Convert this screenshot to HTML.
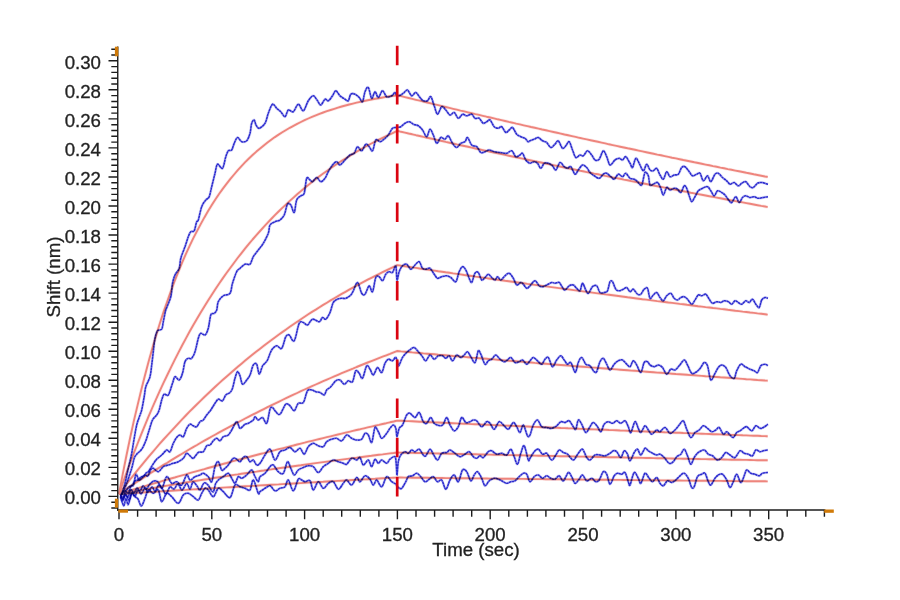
<!DOCTYPE html>
<html><head><meta charset="utf-8"><style>
html,body{margin:0;padding:0;background:#fff;}
body{width:900px;height:600px;position:relative;overflow:hidden;font-family:"Liberation Sans",sans-serif;color:#222;font-size:18.67px;-webkit-text-stroke:0.3px #222;}
#lab{position:absolute;left:0;top:0;width:900px;height:600px;will-change:transform;}
.yl{position:absolute;left:41px;width:60px;text-align:right;height:20px;line-height:20px;}
.xl{position:absolute;top:525.3px;width:60px;text-align:center;height:20px;line-height:20px;}
.xt{position:absolute;left:376px;width:200px;text-align:center;top:539.5px;height:20px;line-height:20px;}
.yt{position:absolute;left:-46px;top:266.5px;width:200px;height:20px;line-height:20px;text-align:center;transform:rotate(-90deg);transform-origin:50% 50%;}
</style></head><body>
<svg width="900" height="600" viewBox="0 0 900 600" style="position:absolute;left:0;top:0;filter:blur(0.3px)">
<g style="filter:blur(0.2px)">
<path d="M119.0 493.9 L122.7 474.4 L126.4 455.7 L130.1 438.0 L133.8 421.1 L137.6 405.1 L141.3 389.7 L145.0 375.2 L148.7 361.3 L152.4 348.1 L156.1 335.5 L159.8 323.5 L163.5 312.1 L167.3 301.2 L171.0 290.9 L174.7 281.0 L178.4 271.7 L182.1 262.7 L185.8 254.2 L189.5 246.1 L193.2 238.4 L197.0 231.1 L200.7 224.1 L204.4 217.4 L208.1 211.1 L211.8 205.1 L215.5 199.3 L219.2 193.8 L222.9 188.6 L226.7 183.7 L230.4 178.9 L234.1 174.5 L237.8 170.2 L241.5 166.1 L245.2 162.2 L248.9 158.5 L252.6 155.0 L256.4 151.6 L260.1 148.5 L263.8 145.4 L267.5 142.5 L271.2 139.8 L274.9 137.1 L278.6 134.6 L282.3 132.3 L286.1 130.0 L289.8 127.8 L293.5 125.8 L297.2 123.8 L300.9 122.0 L304.6 120.2 L308.3 118.5 L312.0 116.9 L315.8 115.4 L319.5 113.9 L323.2 112.5 L326.9 111.2 L330.6 110.0 L334.3 108.8 L338.0 107.6 L341.7 106.5 L345.5 105.5 L349.2 104.5 L352.9 103.6 L356.6 102.7 L360.3 101.8 L364.0 101.0 L367.7 100.2 L371.4 99.5 L375.2 98.8 L378.9 98.2 L382.6 97.5 L386.3 96.9 L390.0 96.3 L393.7 95.8 L395.6 95.5 L397.4 95.3 L399.3 95.7 L401.1 96.2 L404.9 97.1 L408.6 98.0 L412.3 98.9 L416.0 99.8 L419.7 100.7 L423.4 101.6 L427.1 102.5 L430.8 103.4 L434.6 104.3 L438.3 105.2 L442.0 106.1 L445.7 107.0 L449.4 107.9 L453.1 108.8 L456.8 109.7 L460.5 110.6 L464.3 111.4 L468.0 112.3 L471.7 113.2 L475.4 114.1 L479.1 114.9 L482.8 115.8 L486.5 116.7 L490.2 117.5 L494.0 118.4 L497.7 119.3 L501.4 120.1 L505.1 121.0 L508.8 121.9 L512.5 122.7 L516.2 123.6 L519.9 124.4 L523.7 125.3 L527.4 126.1 L531.1 127.0 L534.8 127.8 L538.5 128.6 L542.2 129.5 L545.9 130.3 L549.6 131.1 L553.4 132.0 L557.1 132.8 L560.8 133.6 L564.5 134.5 L568.2 135.3 L571.9 136.1 L575.6 136.9 L579.3 137.8 L583.0 138.6 L586.8 139.4 L590.5 140.2 L594.2 141.0 L597.9 141.8 L601.6 142.6 L605.3 143.4 L609.0 144.3 L612.7 145.1 L616.5 145.9 L620.2 146.7 L623.9 147.5 L627.6 148.3 L631.3 149.0 L635.0 149.8 L638.7 150.6 L642.4 151.4 L646.2 152.2 L649.9 153.0 L653.6 153.8 L657.3 154.6 L661.0 155.3 L664.7 156.1 L668.4 156.9 L672.1 157.7 L675.9 158.4 L679.6 159.2 L683.3 160.0 L687.0 160.7 L690.7 161.5 L694.4 162.3 L698.1 163.0 L701.8 163.8 L705.6 164.6 L709.3 165.3 L713.0 166.1 L716.7 166.8 L720.4 167.6 L724.1 168.3 L727.8 169.1 L731.5 169.8 L735.3 170.6 L739.0 171.3 L742.7 172.0 L746.4 172.8 L750.1 173.5 L753.8 174.3 L757.5 175.0 L761.2 175.7 L765.0 176.5 L766.8 176.8 L767.7 177.0" fill="none" stroke="#ee857d" stroke-width="3.4" stroke-opacity="0.15" stroke-linejoin="round"/>
<path d="M119.0 493.9 L122.7 474.4 L126.4 455.7 L130.1 438.0 L133.8 421.1 L137.6 405.1 L141.3 389.7 L145.0 375.2 L148.7 361.3 L152.4 348.1 L156.1 335.5 L159.8 323.5 L163.5 312.1 L167.3 301.2 L171.0 290.9 L174.7 281.0 L178.4 271.7 L182.1 262.7 L185.8 254.2 L189.5 246.1 L193.2 238.4 L197.0 231.1 L200.7 224.1 L204.4 217.4 L208.1 211.1 L211.8 205.1 L215.5 199.3 L219.2 193.8 L222.9 188.6 L226.7 183.7 L230.4 178.9 L234.1 174.5 L237.8 170.2 L241.5 166.1 L245.2 162.2 L248.9 158.5 L252.6 155.0 L256.4 151.6 L260.1 148.5 L263.8 145.4 L267.5 142.5 L271.2 139.8 L274.9 137.1 L278.6 134.6 L282.3 132.3 L286.1 130.0 L289.8 127.8 L293.5 125.8 L297.2 123.8 L300.9 122.0 L304.6 120.2 L308.3 118.5 L312.0 116.9 L315.8 115.4 L319.5 113.9 L323.2 112.5 L326.9 111.2 L330.6 110.0 L334.3 108.8 L338.0 107.6 L341.7 106.5 L345.5 105.5 L349.2 104.5 L352.9 103.6 L356.6 102.7 L360.3 101.8 L364.0 101.0 L367.7 100.2 L371.4 99.5 L375.2 98.8 L378.9 98.2 L382.6 97.5 L386.3 96.9 L390.0 96.3 L393.7 95.8 L395.6 95.5 L397.4 95.3 L399.3 95.7 L401.1 96.2 L404.9 97.1 L408.6 98.0 L412.3 98.9 L416.0 99.8 L419.7 100.7 L423.4 101.6 L427.1 102.5 L430.8 103.4 L434.6 104.3 L438.3 105.2 L442.0 106.1 L445.7 107.0 L449.4 107.9 L453.1 108.8 L456.8 109.7 L460.5 110.6 L464.3 111.4 L468.0 112.3 L471.7 113.2 L475.4 114.1 L479.1 114.9 L482.8 115.8 L486.5 116.7 L490.2 117.5 L494.0 118.4 L497.7 119.3 L501.4 120.1 L505.1 121.0 L508.8 121.9 L512.5 122.7 L516.2 123.6 L519.9 124.4 L523.7 125.3 L527.4 126.1 L531.1 127.0 L534.8 127.8 L538.5 128.6 L542.2 129.5 L545.9 130.3 L549.6 131.1 L553.4 132.0 L557.1 132.8 L560.8 133.6 L564.5 134.5 L568.2 135.3 L571.9 136.1 L575.6 136.9 L579.3 137.8 L583.0 138.6 L586.8 139.4 L590.5 140.2 L594.2 141.0 L597.9 141.8 L601.6 142.6 L605.3 143.4 L609.0 144.3 L612.7 145.1 L616.5 145.9 L620.2 146.7 L623.9 147.5 L627.6 148.3 L631.3 149.0 L635.0 149.8 L638.7 150.6 L642.4 151.4 L646.2 152.2 L649.9 153.0 L653.6 153.8 L657.3 154.6 L661.0 155.3 L664.7 156.1 L668.4 156.9 L672.1 157.7 L675.9 158.4 L679.6 159.2 L683.3 160.0 L687.0 160.7 L690.7 161.5 L694.4 162.3 L698.1 163.0 L701.8 163.8 L705.6 164.6 L709.3 165.3 L713.0 166.1 L716.7 166.8 L720.4 167.6 L724.1 168.3 L727.8 169.1 L731.5 169.8 L735.3 170.6 L739.0 171.3 L742.7 172.0 L746.4 172.8 L750.1 173.5 L753.8 174.3 L757.5 175.0 L761.2 175.7 L765.0 176.5 L766.8 176.8 L767.7 177.0" fill="none" stroke="#ee857d" stroke-width="1.9" stroke-linejoin="round"/>
<path d="M119.0 493.9 L122.7 483.3 L126.4 473.0 L130.1 462.9 L133.8 453.1 L137.6 443.5 L141.3 434.2 L145.0 425.1 L148.7 416.2 L152.4 407.5 L156.1 399.1 L159.8 390.8 L163.5 382.8 L167.3 375.0 L171.0 367.3 L174.7 359.8 L178.4 352.6 L182.1 345.5 L185.8 338.6 L189.5 331.8 L193.2 325.2 L197.0 318.8 L200.7 312.5 L204.4 306.4 L208.1 300.5 L211.8 294.7 L215.5 289.0 L219.2 283.5 L222.9 278.1 L226.7 272.8 L230.4 267.7 L234.1 262.7 L237.8 257.8 L241.5 253.1 L245.2 248.4 L248.9 243.9 L252.6 239.5 L256.4 235.2 L260.1 231.0 L263.8 226.9 L267.5 222.9 L271.2 219.0 L274.9 215.2 L278.6 211.5 L282.3 207.9 L286.1 204.4 L289.8 200.9 L293.5 197.6 L297.2 194.3 L300.9 191.1 L304.6 188.0 L308.3 185.0 L312.0 182.0 L315.8 179.1 L319.5 176.3 L323.2 173.6 L326.9 170.9 L330.6 168.3 L334.3 165.7 L338.0 163.3 L341.7 160.8 L345.5 158.5 L349.2 156.2 L352.9 153.9 L356.6 151.7 L360.3 149.6 L364.0 147.5 L367.7 145.5 L371.4 143.5 L375.2 141.6 L378.9 139.7 L382.6 137.8 L386.3 136.0 L390.0 134.3 L393.7 132.6 L395.6 131.7 L397.4 130.9 L399.3 131.3 L401.1 131.8 L404.9 132.6 L408.6 133.5 L412.3 134.3 L416.0 135.2 L419.7 136.0 L423.4 136.9 L427.1 137.7 L430.8 138.5 L434.6 139.4 L438.3 140.2 L442.0 141.0 L445.7 141.9 L449.4 142.7 L453.1 143.5 L456.8 144.4 L460.5 145.2 L464.3 146.0 L468.0 146.8 L471.7 147.6 L475.4 148.5 L479.1 149.3 L482.8 150.1 L486.5 150.9 L490.2 151.7 L494.0 152.5 L497.7 153.3 L501.4 154.1 L505.1 154.9 L508.8 155.7 L512.5 156.5 L516.2 157.3 L519.9 158.1 L523.7 158.9 L527.4 159.7 L531.1 160.5 L534.8 161.3 L538.5 162.0 L542.2 162.8 L545.9 163.6 L549.6 164.4 L553.4 165.2 L557.1 165.9 L560.8 166.7 L564.5 167.5 L568.2 168.3 L571.9 169.0 L575.6 169.8 L579.3 170.6 L583.0 171.3 L586.8 172.1 L590.5 172.8 L594.2 173.6 L597.9 174.3 L601.6 175.1 L605.3 175.9 L609.0 176.6 L612.7 177.4 L616.5 178.1 L620.2 178.8 L623.9 179.6 L627.6 180.3 L631.3 181.1 L635.0 181.8 L638.7 182.5 L642.4 183.3 L646.2 184.0 L649.9 184.7 L653.6 185.5 L657.3 186.2 L661.0 186.9 L664.7 187.6 L668.4 188.4 L672.1 189.1 L675.9 189.8 L679.6 190.5 L683.3 191.2 L687.0 191.9 L690.7 192.7 L694.4 193.4 L698.1 194.1 L701.8 194.8 L705.6 195.5 L709.3 196.2 L713.0 196.9 L716.7 197.6 L720.4 198.3 L724.1 199.0 L727.8 199.7 L731.5 200.4 L735.3 201.1 L739.0 201.8 L742.7 202.4 L746.4 203.1 L750.1 203.8 L753.8 204.5 L757.5 205.2 L761.2 205.9 L765.0 206.5 L766.8 206.9 L767.7 207.1" fill="none" stroke="#ee857d" stroke-width="3.4" stroke-opacity="0.15" stroke-linejoin="round"/>
<path d="M119.0 493.9 L122.7 483.3 L126.4 473.0 L130.1 462.9 L133.8 453.1 L137.6 443.5 L141.3 434.2 L145.0 425.1 L148.7 416.2 L152.4 407.5 L156.1 399.1 L159.8 390.8 L163.5 382.8 L167.3 375.0 L171.0 367.3 L174.7 359.8 L178.4 352.6 L182.1 345.5 L185.8 338.6 L189.5 331.8 L193.2 325.2 L197.0 318.8 L200.7 312.5 L204.4 306.4 L208.1 300.5 L211.8 294.7 L215.5 289.0 L219.2 283.5 L222.9 278.1 L226.7 272.8 L230.4 267.7 L234.1 262.7 L237.8 257.8 L241.5 253.1 L245.2 248.4 L248.9 243.9 L252.6 239.5 L256.4 235.2 L260.1 231.0 L263.8 226.9 L267.5 222.9 L271.2 219.0 L274.9 215.2 L278.6 211.5 L282.3 207.9 L286.1 204.4 L289.8 200.9 L293.5 197.6 L297.2 194.3 L300.9 191.1 L304.6 188.0 L308.3 185.0 L312.0 182.0 L315.8 179.1 L319.5 176.3 L323.2 173.6 L326.9 170.9 L330.6 168.3 L334.3 165.7 L338.0 163.3 L341.7 160.8 L345.5 158.5 L349.2 156.2 L352.9 153.9 L356.6 151.7 L360.3 149.6 L364.0 147.5 L367.7 145.5 L371.4 143.5 L375.2 141.6 L378.9 139.7 L382.6 137.8 L386.3 136.0 L390.0 134.3 L393.7 132.6 L395.6 131.7 L397.4 130.9 L399.3 131.3 L401.1 131.8 L404.9 132.6 L408.6 133.5 L412.3 134.3 L416.0 135.2 L419.7 136.0 L423.4 136.9 L427.1 137.7 L430.8 138.5 L434.6 139.4 L438.3 140.2 L442.0 141.0 L445.7 141.9 L449.4 142.7 L453.1 143.5 L456.8 144.4 L460.5 145.2 L464.3 146.0 L468.0 146.8 L471.7 147.6 L475.4 148.5 L479.1 149.3 L482.8 150.1 L486.5 150.9 L490.2 151.7 L494.0 152.5 L497.7 153.3 L501.4 154.1 L505.1 154.9 L508.8 155.7 L512.5 156.5 L516.2 157.3 L519.9 158.1 L523.7 158.9 L527.4 159.7 L531.1 160.5 L534.8 161.3 L538.5 162.0 L542.2 162.8 L545.9 163.6 L549.6 164.4 L553.4 165.2 L557.1 165.9 L560.8 166.7 L564.5 167.5 L568.2 168.3 L571.9 169.0 L575.6 169.8 L579.3 170.6 L583.0 171.3 L586.8 172.1 L590.5 172.8 L594.2 173.6 L597.9 174.3 L601.6 175.1 L605.3 175.9 L609.0 176.6 L612.7 177.4 L616.5 178.1 L620.2 178.8 L623.9 179.6 L627.6 180.3 L631.3 181.1 L635.0 181.8 L638.7 182.5 L642.4 183.3 L646.2 184.0 L649.9 184.7 L653.6 185.5 L657.3 186.2 L661.0 186.9 L664.7 187.6 L668.4 188.4 L672.1 189.1 L675.9 189.8 L679.6 190.5 L683.3 191.2 L687.0 191.9 L690.7 192.7 L694.4 193.4 L698.1 194.1 L701.8 194.8 L705.6 195.5 L709.3 196.2 L713.0 196.9 L716.7 197.6 L720.4 198.3 L724.1 199.0 L727.8 199.7 L731.5 200.4 L735.3 201.1 L739.0 201.8 L742.7 202.4 L746.4 203.1 L750.1 203.8 L753.8 204.5 L757.5 205.2 L761.2 205.9 L765.0 206.5 L766.8 206.9 L767.7 207.1" fill="none" stroke="#ee857d" stroke-width="1.9" stroke-linejoin="round"/>
<path d="M119.0 493.9 L122.7 489.0 L126.4 484.2 L130.1 479.5 L133.8 474.8 L137.6 470.1 L141.3 465.6 L145.0 461.1 L148.7 456.6 L152.4 452.3 L156.1 448.0 L159.8 443.7 L163.5 439.5 L167.3 435.4 L171.0 431.3 L174.7 427.3 L178.4 423.3 L182.1 419.4 L185.8 415.5 L189.5 411.7 L193.2 408.0 L197.0 404.3 L200.7 400.6 L204.4 397.0 L208.1 393.5 L211.8 390.0 L215.5 386.5 L219.2 383.1 L222.9 379.8 L226.7 376.5 L230.4 373.2 L234.1 370.0 L237.8 366.8 L241.5 363.7 L245.2 360.6 L248.9 357.6 L252.6 354.6 L256.4 351.6 L260.1 348.7 L263.8 345.8 L267.5 343.0 L271.2 340.2 L274.9 337.5 L278.6 334.7 L282.3 332.1 L286.1 329.4 L289.8 326.8 L293.5 324.2 L297.2 321.7 L300.9 319.2 L304.6 316.7 L308.3 314.3 L312.0 311.9 L315.8 309.6 L319.5 307.2 L323.2 304.9 L326.9 302.7 L330.6 300.4 L334.3 298.2 L338.0 296.1 L341.7 293.9 L345.5 291.8 L349.2 289.7 L352.9 287.7 L356.6 285.6 L360.3 283.6 L364.0 281.7 L367.7 279.7 L371.4 277.8 L375.2 275.9 L378.9 274.1 L382.6 272.2 L386.3 270.4 L390.0 268.6 L393.7 266.9 L395.6 266.0 L397.4 265.1 L399.3 265.4 L401.1 265.7 L404.9 266.2 L408.6 266.8 L412.3 267.4 L416.0 267.9 L419.7 268.5 L423.4 269.0 L427.1 269.6 L430.8 270.1 L434.6 270.6 L438.3 271.2 L442.0 271.7 L445.7 272.3 L449.4 272.8 L453.1 273.4 L456.8 273.9 L460.5 274.4 L464.3 275.0 L468.0 275.5 L471.7 276.0 L475.4 276.6 L479.1 277.1 L482.8 277.6 L486.5 278.1 L490.2 278.7 L494.0 279.2 L497.7 279.7 L501.4 280.2 L505.1 280.8 L508.8 281.3 L512.5 281.8 L516.2 282.3 L519.9 282.8 L523.7 283.3 L527.4 283.9 L531.1 284.4 L534.8 284.9 L538.5 285.4 L542.2 285.9 L545.9 286.4 L549.6 286.9 L553.4 287.4 L557.1 287.9 L560.8 288.4 L564.5 288.9 L568.2 289.4 L571.9 289.9 L575.6 290.4 L579.3 290.9 L583.0 291.4 L586.8 291.9 L590.5 292.4 L594.2 292.9 L597.9 293.4 L601.6 293.9 L605.3 294.4 L609.0 294.8 L612.7 295.3 L616.5 295.8 L620.2 296.3 L623.9 296.8 L627.6 297.3 L631.3 297.7 L635.0 298.2 L638.7 298.7 L642.4 299.2 L646.2 299.6 L649.9 300.1 L653.6 300.6 L657.3 301.1 L661.0 301.5 L664.7 302.0 L668.4 302.5 L672.1 302.9 L675.9 303.4 L679.6 303.9 L683.3 304.3 L687.0 304.8 L690.7 305.2 L694.4 305.7 L698.1 306.2 L701.8 306.6 L705.6 307.1 L709.3 307.5 L713.0 308.0 L716.7 308.4 L720.4 308.9 L724.1 309.3 L727.8 309.8 L731.5 310.2 L735.3 310.7 L739.0 311.1 L742.7 311.6 L746.4 312.0 L750.1 312.5 L753.8 312.9 L757.5 313.4 L761.2 313.8 L765.0 314.2 L766.8 314.5 L767.7 314.6" fill="none" stroke="#ee857d" stroke-width="3.4" stroke-opacity="0.15" stroke-linejoin="round"/>
<path d="M119.0 493.9 L122.7 489.0 L126.4 484.2 L130.1 479.5 L133.8 474.8 L137.6 470.1 L141.3 465.6 L145.0 461.1 L148.7 456.6 L152.4 452.3 L156.1 448.0 L159.8 443.7 L163.5 439.5 L167.3 435.4 L171.0 431.3 L174.7 427.3 L178.4 423.3 L182.1 419.4 L185.8 415.5 L189.5 411.7 L193.2 408.0 L197.0 404.3 L200.7 400.6 L204.4 397.0 L208.1 393.5 L211.8 390.0 L215.5 386.5 L219.2 383.1 L222.9 379.8 L226.7 376.5 L230.4 373.2 L234.1 370.0 L237.8 366.8 L241.5 363.7 L245.2 360.6 L248.9 357.6 L252.6 354.6 L256.4 351.6 L260.1 348.7 L263.8 345.8 L267.5 343.0 L271.2 340.2 L274.9 337.5 L278.6 334.7 L282.3 332.1 L286.1 329.4 L289.8 326.8 L293.5 324.2 L297.2 321.7 L300.9 319.2 L304.6 316.7 L308.3 314.3 L312.0 311.9 L315.8 309.6 L319.5 307.2 L323.2 304.9 L326.9 302.7 L330.6 300.4 L334.3 298.2 L338.0 296.1 L341.7 293.9 L345.5 291.8 L349.2 289.7 L352.9 287.7 L356.6 285.6 L360.3 283.6 L364.0 281.7 L367.7 279.7 L371.4 277.8 L375.2 275.9 L378.9 274.1 L382.6 272.2 L386.3 270.4 L390.0 268.6 L393.7 266.9 L395.6 266.0 L397.4 265.1 L399.3 265.4 L401.1 265.7 L404.9 266.2 L408.6 266.8 L412.3 267.4 L416.0 267.9 L419.7 268.5 L423.4 269.0 L427.1 269.6 L430.8 270.1 L434.6 270.6 L438.3 271.2 L442.0 271.7 L445.7 272.3 L449.4 272.8 L453.1 273.4 L456.8 273.9 L460.5 274.4 L464.3 275.0 L468.0 275.5 L471.7 276.0 L475.4 276.6 L479.1 277.1 L482.8 277.6 L486.5 278.1 L490.2 278.7 L494.0 279.2 L497.7 279.7 L501.4 280.2 L505.1 280.8 L508.8 281.3 L512.5 281.8 L516.2 282.3 L519.9 282.8 L523.7 283.3 L527.4 283.9 L531.1 284.4 L534.8 284.9 L538.5 285.4 L542.2 285.9 L545.9 286.4 L549.6 286.9 L553.4 287.4 L557.1 287.9 L560.8 288.4 L564.5 288.9 L568.2 289.4 L571.9 289.9 L575.6 290.4 L579.3 290.9 L583.0 291.4 L586.8 291.9 L590.5 292.4 L594.2 292.9 L597.9 293.4 L601.6 293.9 L605.3 294.4 L609.0 294.8 L612.7 295.3 L616.5 295.8 L620.2 296.3 L623.9 296.8 L627.6 297.3 L631.3 297.7 L635.0 298.2 L638.7 298.7 L642.4 299.2 L646.2 299.6 L649.9 300.1 L653.6 300.6 L657.3 301.1 L661.0 301.5 L664.7 302.0 L668.4 302.5 L672.1 302.9 L675.9 303.4 L679.6 303.9 L683.3 304.3 L687.0 304.8 L690.7 305.2 L694.4 305.7 L698.1 306.2 L701.8 306.6 L705.6 307.1 L709.3 307.5 L713.0 308.0 L716.7 308.4 L720.4 308.9 L724.1 309.3 L727.8 309.8 L731.5 310.2 L735.3 310.7 L739.0 311.1 L742.7 311.6 L746.4 312.0 L750.1 312.5 L753.8 312.9 L757.5 313.4 L761.2 313.8 L765.0 314.2 L766.8 314.5 L767.7 314.6" fill="none" stroke="#ee857d" stroke-width="1.9" stroke-linejoin="round"/>
<path d="M119.0 493.9 L122.7 491.4 L126.4 488.9 L130.1 486.4 L133.8 484.0 L137.6 481.5 L141.3 479.1 L145.0 476.7 L148.7 474.3 L152.4 471.9 L156.1 469.6 L159.8 467.3 L163.5 464.9 L167.3 462.7 L171.0 460.4 L174.7 458.1 L178.4 455.9 L182.1 453.7 L185.8 451.5 L189.5 449.3 L193.2 447.1 L197.0 445.0 L200.7 442.8 L204.4 440.7 L208.1 438.6 L211.8 436.5 L215.5 434.5 L219.2 432.4 L222.9 430.4 L226.7 428.4 L230.4 426.4 L234.1 424.4 L237.8 422.4 L241.5 420.5 L245.2 418.5 L248.9 416.6 L252.6 414.7 L256.4 412.8 L260.1 410.9 L263.8 409.1 L267.5 407.2 L271.2 405.4 L274.9 403.6 L278.6 401.8 L282.3 400.0 L286.1 398.2 L289.8 396.4 L293.5 394.7 L297.2 393.0 L300.9 391.2 L304.6 389.5 L308.3 387.8 L312.0 386.2 L315.8 384.5 L319.5 382.8 L323.2 381.2 L326.9 379.6 L330.6 378.0 L334.3 376.4 L338.0 374.8 L341.7 373.2 L345.5 371.6 L349.2 370.1 L352.9 368.6 L356.6 367.0 L360.3 365.5 L364.0 364.0 L367.7 362.5 L371.4 361.1 L375.2 359.6 L378.9 358.1 L382.6 356.7 L386.3 355.3 L390.0 353.9 L393.7 352.4 L395.6 351.7 L397.4 351.0 L399.3 351.2 L401.1 351.4 L404.9 351.7 L408.6 352.0 L412.3 352.4 L416.0 352.7 L419.7 353.0 L423.4 353.4 L427.1 353.7 L430.8 354.0 L434.6 354.3 L438.3 354.7 L442.0 355.0 L445.7 355.3 L449.4 355.6 L453.1 356.0 L456.8 356.3 L460.5 356.6 L464.3 356.9 L468.0 357.2 L471.7 357.6 L475.4 357.9 L479.1 358.2 L482.8 358.5 L486.5 358.8 L490.2 359.1 L494.0 359.4 L497.7 359.8 L501.4 360.1 L505.1 360.4 L508.8 360.7 L512.5 361.0 L516.2 361.3 L519.9 361.6 L523.7 361.9 L527.4 362.2 L531.1 362.5 L534.8 362.9 L538.5 363.2 L542.2 363.5 L545.9 363.8 L549.6 364.1 L553.4 364.4 L557.1 364.7 L560.8 365.0 L564.5 365.3 L568.2 365.6 L571.9 365.9 L575.6 366.2 L579.3 366.5 L583.0 366.8 L586.8 367.1 L590.5 367.4 L594.2 367.6 L597.9 367.9 L601.6 368.2 L605.3 368.5 L609.0 368.8 L612.7 369.1 L616.5 369.4 L620.2 369.7 L623.9 370.0 L627.6 370.3 L631.3 370.6 L635.0 370.8 L638.7 371.1 L642.4 371.4 L646.2 371.7 L649.9 372.0 L653.6 372.3 L657.3 372.6 L661.0 372.8 L664.7 373.1 L668.4 373.4 L672.1 373.7 L675.9 374.0 L679.6 374.2 L683.3 374.5 L687.0 374.8 L690.7 375.1 L694.4 375.3 L698.1 375.6 L701.8 375.9 L705.6 376.2 L709.3 376.4 L713.0 376.7 L716.7 377.0 L720.4 377.3 L724.1 377.5 L727.8 377.8 L731.5 378.1 L735.3 378.3 L739.0 378.6 L742.7 378.9 L746.4 379.2 L750.1 379.4 L753.8 379.7 L757.5 380.0 L761.2 380.2 L765.0 380.5 L766.8 380.6 L767.7 380.7" fill="none" stroke="#ee857d" stroke-width="3.4" stroke-opacity="0.15" stroke-linejoin="round"/>
<path d="M119.0 493.9 L122.7 491.4 L126.4 488.9 L130.1 486.4 L133.8 484.0 L137.6 481.5 L141.3 479.1 L145.0 476.7 L148.7 474.3 L152.4 471.9 L156.1 469.6 L159.8 467.3 L163.5 464.9 L167.3 462.7 L171.0 460.4 L174.7 458.1 L178.4 455.9 L182.1 453.7 L185.8 451.5 L189.5 449.3 L193.2 447.1 L197.0 445.0 L200.7 442.8 L204.4 440.7 L208.1 438.6 L211.8 436.5 L215.5 434.5 L219.2 432.4 L222.9 430.4 L226.7 428.4 L230.4 426.4 L234.1 424.4 L237.8 422.4 L241.5 420.5 L245.2 418.5 L248.9 416.6 L252.6 414.7 L256.4 412.8 L260.1 410.9 L263.8 409.1 L267.5 407.2 L271.2 405.4 L274.9 403.6 L278.6 401.8 L282.3 400.0 L286.1 398.2 L289.8 396.4 L293.5 394.7 L297.2 393.0 L300.9 391.2 L304.6 389.5 L308.3 387.8 L312.0 386.2 L315.8 384.5 L319.5 382.8 L323.2 381.2 L326.9 379.6 L330.6 378.0 L334.3 376.4 L338.0 374.8 L341.7 373.2 L345.5 371.6 L349.2 370.1 L352.9 368.6 L356.6 367.0 L360.3 365.5 L364.0 364.0 L367.7 362.5 L371.4 361.1 L375.2 359.6 L378.9 358.1 L382.6 356.7 L386.3 355.3 L390.0 353.9 L393.7 352.4 L395.6 351.7 L397.4 351.0 L399.3 351.2 L401.1 351.4 L404.9 351.7 L408.6 352.0 L412.3 352.4 L416.0 352.7 L419.7 353.0 L423.4 353.4 L427.1 353.7 L430.8 354.0 L434.6 354.3 L438.3 354.7 L442.0 355.0 L445.7 355.3 L449.4 355.6 L453.1 356.0 L456.8 356.3 L460.5 356.6 L464.3 356.9 L468.0 357.2 L471.7 357.6 L475.4 357.9 L479.1 358.2 L482.8 358.5 L486.5 358.8 L490.2 359.1 L494.0 359.4 L497.7 359.8 L501.4 360.1 L505.1 360.4 L508.8 360.7 L512.5 361.0 L516.2 361.3 L519.9 361.6 L523.7 361.9 L527.4 362.2 L531.1 362.5 L534.8 362.9 L538.5 363.2 L542.2 363.5 L545.9 363.8 L549.6 364.1 L553.4 364.4 L557.1 364.7 L560.8 365.0 L564.5 365.3 L568.2 365.6 L571.9 365.9 L575.6 366.2 L579.3 366.5 L583.0 366.8 L586.8 367.1 L590.5 367.4 L594.2 367.6 L597.9 367.9 L601.6 368.2 L605.3 368.5 L609.0 368.8 L612.7 369.1 L616.5 369.4 L620.2 369.7 L623.9 370.0 L627.6 370.3 L631.3 370.6 L635.0 370.8 L638.7 371.1 L642.4 371.4 L646.2 371.7 L649.9 372.0 L653.6 372.3 L657.3 372.6 L661.0 372.8 L664.7 373.1 L668.4 373.4 L672.1 373.7 L675.9 374.0 L679.6 374.2 L683.3 374.5 L687.0 374.8 L690.7 375.1 L694.4 375.3 L698.1 375.6 L701.8 375.9 L705.6 376.2 L709.3 376.4 L713.0 376.7 L716.7 377.0 L720.4 377.3 L724.1 377.5 L727.8 377.8 L731.5 378.1 L735.3 378.3 L739.0 378.6 L742.7 378.9 L746.4 379.2 L750.1 379.4 L753.8 379.7 L757.5 380.0 L761.2 380.2 L765.0 380.5 L766.8 380.6 L767.7 380.7" fill="none" stroke="#ee857d" stroke-width="1.9" stroke-linejoin="round"/>
<path d="M119.0 493.9 L122.7 492.8 L126.4 491.7 L130.1 490.6 L133.8 489.4 L137.6 488.3 L141.3 487.2 L145.0 486.1 L148.7 485.0 L152.4 483.9 L156.1 482.8 L159.8 481.8 L163.5 480.7 L167.3 479.6 L171.0 478.5 L174.7 477.5 L178.4 476.4 L182.1 475.3 L185.8 474.3 L189.5 473.2 L193.2 472.2 L197.0 471.1 L200.7 470.1 L204.4 469.1 L208.1 468.0 L211.8 467.0 L215.5 466.0 L219.2 465.0 L222.9 464.0 L226.7 463.0 L230.4 461.9 L234.1 460.9 L237.8 459.9 L241.5 459.0 L245.2 458.0 L248.9 457.0 L252.6 456.0 L256.4 455.0 L260.1 454.0 L263.8 453.1 L267.5 452.1 L271.2 451.1 L274.9 450.2 L278.6 449.2 L282.3 448.3 L286.1 447.3 L289.8 446.4 L293.5 445.5 L297.2 444.5 L300.9 443.6 L304.6 442.7 L308.3 441.7 L312.0 440.8 L315.8 439.9 L319.5 439.0 L323.2 438.1 L326.9 437.2 L330.6 436.3 L334.3 435.4 L338.0 434.5 L341.7 433.6 L345.5 432.7 L349.2 431.8 L352.9 430.9 L356.6 430.0 L360.3 429.2 L364.0 428.3 L367.7 427.4 L371.4 426.6 L375.2 425.7 L378.9 424.9 L382.6 424.0 L386.3 423.2 L390.0 422.3 L393.7 421.5 L395.6 421.0 L397.4 420.6 L399.3 420.7 L401.1 420.8 L404.9 421.0 L408.6 421.1 L412.3 421.3 L416.0 421.5 L419.7 421.7 L423.4 421.8 L427.1 422.0 L430.8 422.2 L434.6 422.4 L438.3 422.5 L442.0 422.7 L445.7 422.9 L449.4 423.0 L453.1 423.2 L456.8 423.4 L460.5 423.6 L464.3 423.7 L468.0 423.9 L471.7 424.1 L475.4 424.2 L479.1 424.4 L482.8 424.6 L486.5 424.7 L490.2 424.9 L494.0 425.1 L497.7 425.2 L501.4 425.4 L505.1 425.6 L508.8 425.7 L512.5 425.9 L516.2 426.0 L519.9 426.2 L523.7 426.4 L527.4 426.5 L531.1 426.7 L534.8 426.9 L538.5 427.0 L542.2 427.2 L545.9 427.3 L549.6 427.5 L553.4 427.7 L557.1 427.8 L560.8 428.0 L564.5 428.1 L568.2 428.3 L571.9 428.4 L575.6 428.6 L579.3 428.8 L583.0 428.9 L586.8 429.1 L590.5 429.2 L594.2 429.4 L597.9 429.5 L601.6 429.7 L605.3 429.8 L609.0 430.0 L612.7 430.1 L616.5 430.3 L620.2 430.5 L623.9 430.6 L627.6 430.8 L631.3 430.9 L635.0 431.1 L638.7 431.2 L642.4 431.4 L646.2 431.5 L649.9 431.7 L653.6 431.8 L657.3 432.0 L661.0 432.1 L664.7 432.3 L668.4 432.4 L672.1 432.6 L675.9 432.7 L679.6 432.8 L683.3 433.0 L687.0 433.1 L690.7 433.3 L694.4 433.4 L698.1 433.6 L701.8 433.7 L705.6 433.9 L709.3 434.0 L713.0 434.2 L716.7 434.3 L720.4 434.4 L724.1 434.6 L727.8 434.7 L731.5 434.9 L735.3 435.0 L739.0 435.1 L742.7 435.3 L746.4 435.4 L750.1 435.6 L753.8 435.7 L757.5 435.8 L761.2 436.0 L765.0 436.1 L766.8 436.2 L767.7 436.2" fill="none" stroke="#ee857d" stroke-width="3.4" stroke-opacity="0.15" stroke-linejoin="round"/>
<path d="M119.0 493.9 L122.7 492.8 L126.4 491.7 L130.1 490.6 L133.8 489.4 L137.6 488.3 L141.3 487.2 L145.0 486.1 L148.7 485.0 L152.4 483.9 L156.1 482.8 L159.8 481.8 L163.5 480.7 L167.3 479.6 L171.0 478.5 L174.7 477.5 L178.4 476.4 L182.1 475.3 L185.8 474.3 L189.5 473.2 L193.2 472.2 L197.0 471.1 L200.7 470.1 L204.4 469.1 L208.1 468.0 L211.8 467.0 L215.5 466.0 L219.2 465.0 L222.9 464.0 L226.7 463.0 L230.4 461.9 L234.1 460.9 L237.8 459.9 L241.5 459.0 L245.2 458.0 L248.9 457.0 L252.6 456.0 L256.4 455.0 L260.1 454.0 L263.8 453.1 L267.5 452.1 L271.2 451.1 L274.9 450.2 L278.6 449.2 L282.3 448.3 L286.1 447.3 L289.8 446.4 L293.5 445.5 L297.2 444.5 L300.9 443.6 L304.6 442.7 L308.3 441.7 L312.0 440.8 L315.8 439.9 L319.5 439.0 L323.2 438.1 L326.9 437.2 L330.6 436.3 L334.3 435.4 L338.0 434.5 L341.7 433.6 L345.5 432.7 L349.2 431.8 L352.9 430.9 L356.6 430.0 L360.3 429.2 L364.0 428.3 L367.7 427.4 L371.4 426.6 L375.2 425.7 L378.9 424.9 L382.6 424.0 L386.3 423.2 L390.0 422.3 L393.7 421.5 L395.6 421.0 L397.4 420.6 L399.3 420.7 L401.1 420.8 L404.9 421.0 L408.6 421.1 L412.3 421.3 L416.0 421.5 L419.7 421.7 L423.4 421.8 L427.1 422.0 L430.8 422.2 L434.6 422.4 L438.3 422.5 L442.0 422.7 L445.7 422.9 L449.4 423.0 L453.1 423.2 L456.8 423.4 L460.5 423.6 L464.3 423.7 L468.0 423.9 L471.7 424.1 L475.4 424.2 L479.1 424.4 L482.8 424.6 L486.5 424.7 L490.2 424.9 L494.0 425.1 L497.7 425.2 L501.4 425.4 L505.1 425.6 L508.8 425.7 L512.5 425.9 L516.2 426.0 L519.9 426.2 L523.7 426.4 L527.4 426.5 L531.1 426.7 L534.8 426.9 L538.5 427.0 L542.2 427.2 L545.9 427.3 L549.6 427.5 L553.4 427.7 L557.1 427.8 L560.8 428.0 L564.5 428.1 L568.2 428.3 L571.9 428.4 L575.6 428.6 L579.3 428.8 L583.0 428.9 L586.8 429.1 L590.5 429.2 L594.2 429.4 L597.9 429.5 L601.6 429.7 L605.3 429.8 L609.0 430.0 L612.7 430.1 L616.5 430.3 L620.2 430.5 L623.9 430.6 L627.6 430.8 L631.3 430.9 L635.0 431.1 L638.7 431.2 L642.4 431.4 L646.2 431.5 L649.9 431.7 L653.6 431.8 L657.3 432.0 L661.0 432.1 L664.7 432.3 L668.4 432.4 L672.1 432.6 L675.9 432.7 L679.6 432.8 L683.3 433.0 L687.0 433.1 L690.7 433.3 L694.4 433.4 L698.1 433.6 L701.8 433.7 L705.6 433.9 L709.3 434.0 L713.0 434.2 L716.7 434.3 L720.4 434.4 L724.1 434.6 L727.8 434.7 L731.5 434.9 L735.3 435.0 L739.0 435.1 L742.7 435.3 L746.4 435.4 L750.1 435.6 L753.8 435.7 L757.5 435.8 L761.2 436.0 L765.0 436.1 L766.8 436.2 L767.7 436.2" fill="none" stroke="#ee857d" stroke-width="1.9" stroke-linejoin="round"/>
<path d="M119.0 493.9 L122.7 493.3 L126.4 492.6 L130.1 492.0 L133.8 491.3 L137.6 490.7 L141.3 490.0 L145.0 489.4 L148.7 488.7 L152.4 488.1 L156.1 487.5 L159.8 486.8 L163.5 486.2 L167.3 485.6 L171.0 485.0 L174.7 484.4 L178.4 483.8 L182.1 483.1 L185.8 482.5 L189.5 481.9 L193.2 481.3 L197.0 480.7 L200.7 480.1 L204.4 479.5 L208.1 479.0 L211.8 478.4 L215.5 477.8 L219.2 477.2 L222.9 476.6 L226.7 476.1 L230.4 475.5 L234.1 474.9 L237.8 474.4 L241.5 473.8 L245.2 473.2 L248.9 472.7 L252.6 472.1 L256.4 471.6 L260.1 471.0 L263.8 470.5 L267.5 469.9 L271.2 469.4 L274.9 468.8 L278.6 468.3 L282.3 467.8 L286.1 467.3 L289.8 466.7 L293.5 466.2 L297.2 465.7 L300.9 465.2 L304.6 464.6 L308.3 464.1 L312.0 463.6 L315.8 463.1 L319.5 462.6 L323.2 462.1 L326.9 461.6 L330.6 461.1 L334.3 460.6 L338.0 460.1 L341.7 459.6 L345.5 459.1 L349.2 458.6 L352.9 458.1 L356.6 457.7 L360.3 457.2 L364.0 456.7 L367.7 456.2 L371.4 455.8 L375.2 455.3 L378.9 454.8 L382.6 454.4 L386.3 453.9 L390.0 453.4 L393.7 453.0 L395.6 452.7 L397.4 452.5 L399.3 452.6 L401.1 452.6 L404.9 452.7 L408.6 452.8 L412.3 452.9 L416.0 453.0 L419.7 453.0 L423.4 453.1 L427.1 453.2 L430.8 453.3 L434.6 453.4 L438.3 453.5 L442.0 453.6 L445.7 453.6 L449.4 453.7 L453.1 453.8 L456.8 453.9 L460.5 454.0 L464.3 454.1 L468.0 454.1 L471.7 454.2 L475.4 454.3 L479.1 454.4 L482.8 454.5 L486.5 454.6 L490.2 454.6 L494.0 454.7 L497.7 454.8 L501.4 454.9 L505.1 455.0 L508.8 455.1 L512.5 455.1 L516.2 455.2 L519.9 455.3 L523.7 455.4 L527.4 455.5 L531.1 455.5 L534.8 455.6 L538.5 455.7 L542.2 455.8 L545.9 455.9 L549.6 455.9 L553.4 456.0 L557.1 456.1 L560.8 456.2 L564.5 456.3 L568.2 456.3 L571.9 456.4 L575.6 456.5 L579.3 456.6 L583.0 456.6 L586.8 456.7 L590.5 456.8 L594.2 456.9 L597.9 457.0 L601.6 457.0 L605.3 457.1 L609.0 457.2 L612.7 457.3 L616.5 457.3 L620.2 457.4 L623.9 457.5 L627.6 457.6 L631.3 457.7 L635.0 457.7 L638.7 457.8 L642.4 457.9 L646.2 458.0 L649.9 458.0 L653.6 458.1 L657.3 458.2 L661.0 458.3 L664.7 458.3 L668.4 458.4 L672.1 458.5 L675.9 458.6 L679.6 458.6 L683.3 458.7 L687.0 458.8 L690.7 458.9 L694.4 458.9 L698.1 459.0 L701.8 459.1 L705.6 459.1 L709.3 459.2 L713.0 459.3 L716.7 459.4 L720.4 459.4 L724.1 459.5 L727.8 459.6 L731.5 459.7 L735.3 459.7 L739.0 459.8 L742.7 459.9 L746.4 459.9 L750.1 460.0 L753.8 460.1 L757.5 460.2 L761.2 460.2 L765.0 460.3 L766.8 460.3 L767.7 460.3" fill="none" stroke="#ee857d" stroke-width="3.4" stroke-opacity="0.15" stroke-linejoin="round"/>
<path d="M119.0 493.9 L122.7 493.3 L126.4 492.6 L130.1 492.0 L133.8 491.3 L137.6 490.7 L141.3 490.0 L145.0 489.4 L148.7 488.7 L152.4 488.1 L156.1 487.5 L159.8 486.8 L163.5 486.2 L167.3 485.6 L171.0 485.0 L174.7 484.4 L178.4 483.8 L182.1 483.1 L185.8 482.5 L189.5 481.9 L193.2 481.3 L197.0 480.7 L200.7 480.1 L204.4 479.5 L208.1 479.0 L211.8 478.4 L215.5 477.8 L219.2 477.2 L222.9 476.6 L226.7 476.1 L230.4 475.5 L234.1 474.9 L237.8 474.4 L241.5 473.8 L245.2 473.2 L248.9 472.7 L252.6 472.1 L256.4 471.6 L260.1 471.0 L263.8 470.5 L267.5 469.9 L271.2 469.4 L274.9 468.8 L278.6 468.3 L282.3 467.8 L286.1 467.3 L289.8 466.7 L293.5 466.2 L297.2 465.7 L300.9 465.2 L304.6 464.6 L308.3 464.1 L312.0 463.6 L315.8 463.1 L319.5 462.6 L323.2 462.1 L326.9 461.6 L330.6 461.1 L334.3 460.6 L338.0 460.1 L341.7 459.6 L345.5 459.1 L349.2 458.6 L352.9 458.1 L356.6 457.7 L360.3 457.2 L364.0 456.7 L367.7 456.2 L371.4 455.8 L375.2 455.3 L378.9 454.8 L382.6 454.4 L386.3 453.9 L390.0 453.4 L393.7 453.0 L395.6 452.7 L397.4 452.5 L399.3 452.6 L401.1 452.6 L404.9 452.7 L408.6 452.8 L412.3 452.9 L416.0 453.0 L419.7 453.0 L423.4 453.1 L427.1 453.2 L430.8 453.3 L434.6 453.4 L438.3 453.5 L442.0 453.6 L445.7 453.6 L449.4 453.7 L453.1 453.8 L456.8 453.9 L460.5 454.0 L464.3 454.1 L468.0 454.1 L471.7 454.2 L475.4 454.3 L479.1 454.4 L482.8 454.5 L486.5 454.6 L490.2 454.6 L494.0 454.7 L497.7 454.8 L501.4 454.9 L505.1 455.0 L508.8 455.1 L512.5 455.1 L516.2 455.2 L519.9 455.3 L523.7 455.4 L527.4 455.5 L531.1 455.5 L534.8 455.6 L538.5 455.7 L542.2 455.8 L545.9 455.9 L549.6 455.9 L553.4 456.0 L557.1 456.1 L560.8 456.2 L564.5 456.3 L568.2 456.3 L571.9 456.4 L575.6 456.5 L579.3 456.6 L583.0 456.6 L586.8 456.7 L590.5 456.8 L594.2 456.9 L597.9 457.0 L601.6 457.0 L605.3 457.1 L609.0 457.2 L612.7 457.3 L616.5 457.3 L620.2 457.4 L623.9 457.5 L627.6 457.6 L631.3 457.7 L635.0 457.7 L638.7 457.8 L642.4 457.9 L646.2 458.0 L649.9 458.0 L653.6 458.1 L657.3 458.2 L661.0 458.3 L664.7 458.3 L668.4 458.4 L672.1 458.5 L675.9 458.6 L679.6 458.6 L683.3 458.7 L687.0 458.8 L690.7 458.9 L694.4 458.9 L698.1 459.0 L701.8 459.1 L705.6 459.1 L709.3 459.2 L713.0 459.3 L716.7 459.4 L720.4 459.4 L724.1 459.5 L727.8 459.6 L731.5 459.7 L735.3 459.7 L739.0 459.8 L742.7 459.9 L746.4 459.9 L750.1 460.0 L753.8 460.1 L757.5 460.2 L761.2 460.2 L765.0 460.3 L766.8 460.3 L767.7 460.3" fill="none" stroke="#ee857d" stroke-width="1.9" stroke-linejoin="round"/>
<path d="M119.0 493.9 L122.7 493.7 L126.4 493.5 L130.1 493.3 L133.8 493.0 L137.6 492.8 L141.3 492.6 L145.0 492.3 L148.7 492.1 L152.4 491.9 L156.1 491.7 L159.8 491.4 L163.5 491.2 L167.3 491.0 L171.0 490.8 L174.7 490.5 L178.4 490.3 L182.1 490.1 L185.8 489.9 L189.5 489.6 L193.2 489.4 L197.0 489.2 L200.7 489.0 L204.4 488.8 L208.1 488.5 L211.8 488.3 L215.5 488.1 L219.2 487.9 L222.9 487.6 L226.7 487.4 L230.4 487.2 L234.1 487.0 L237.8 486.8 L241.5 486.5 L245.2 486.3 L248.9 486.1 L252.6 485.9 L256.4 485.7 L260.1 485.4 L263.8 485.2 L267.5 485.0 L271.2 484.8 L274.9 484.6 L278.6 484.4 L282.3 484.1 L286.1 483.9 L289.8 483.7 L293.5 483.5 L297.2 483.3 L300.9 483.1 L304.6 482.8 L308.3 482.6 L312.0 482.4 L315.8 482.2 L319.5 482.0 L323.2 481.8 L326.9 481.5 L330.6 481.3 L334.3 481.1 L338.0 480.9 L341.7 480.7 L345.5 480.5 L349.2 480.3 L352.9 480.0 L356.6 479.8 L360.3 479.6 L364.0 479.4 L367.7 479.2 L371.4 479.0 L375.2 478.8 L378.9 478.5 L382.6 478.3 L386.3 478.1 L390.0 477.9 L393.7 477.7 L395.6 477.6 L397.4 477.5 L399.3 477.5 L401.1 477.5 L404.9 477.6 L408.6 477.6 L412.3 477.7 L416.0 477.7 L419.7 477.8 L423.4 477.8 L427.1 477.8 L430.8 477.9 L434.6 477.9 L438.3 478.0 L442.0 478.0 L445.7 478.1 L449.4 478.1 L453.1 478.1 L456.8 478.2 L460.5 478.2 L464.3 478.3 L468.0 478.3 L471.7 478.4 L475.4 478.4 L479.1 478.4 L482.8 478.5 L486.5 478.5 L490.2 478.6 L494.0 478.6 L497.7 478.6 L501.4 478.7 L505.1 478.7 L508.8 478.8 L512.5 478.8 L516.2 478.9 L519.9 478.9 L523.7 478.9 L527.4 479.0 L531.1 479.0 L534.8 479.1 L538.5 479.1 L542.2 479.1 L545.9 479.2 L549.6 479.2 L553.4 479.3 L557.1 479.3 L560.8 479.3 L564.5 479.4 L568.2 479.4 L571.9 479.5 L575.6 479.5 L579.3 479.5 L583.0 479.6 L586.8 479.6 L590.5 479.6 L594.2 479.7 L597.9 479.7 L601.6 479.8 L605.3 479.8 L609.0 479.8 L612.7 479.9 L616.5 479.9 L620.2 479.9 L623.9 480.0 L627.6 480.0 L631.3 480.1 L635.0 480.1 L638.7 480.1 L642.4 480.2 L646.2 480.2 L649.9 480.2 L653.6 480.3 L657.3 480.3 L661.0 480.4 L664.7 480.4 L668.4 480.4 L672.1 480.5 L675.9 480.5 L679.6 480.5 L683.3 480.6 L687.0 480.6 L690.7 480.6 L694.4 480.7 L698.1 480.7 L701.8 480.8 L705.6 480.8 L709.3 480.8 L713.0 480.9 L716.7 480.9 L720.4 480.9 L724.1 481.0 L727.8 481.0 L731.5 481.0 L735.3 481.1 L739.0 481.1 L742.7 481.1 L746.4 481.2 L750.1 481.2 L753.8 481.2 L757.5 481.3 L761.2 481.3 L765.0 481.3 L766.8 481.4 L767.7 481.4" fill="none" stroke="#ee857d" stroke-width="3.4" stroke-opacity="0.15" stroke-linejoin="round"/>
<path d="M119.0 493.9 L122.7 493.7 L126.4 493.5 L130.1 493.3 L133.8 493.0 L137.6 492.8 L141.3 492.6 L145.0 492.3 L148.7 492.1 L152.4 491.9 L156.1 491.7 L159.8 491.4 L163.5 491.2 L167.3 491.0 L171.0 490.8 L174.7 490.5 L178.4 490.3 L182.1 490.1 L185.8 489.9 L189.5 489.6 L193.2 489.4 L197.0 489.2 L200.7 489.0 L204.4 488.8 L208.1 488.5 L211.8 488.3 L215.5 488.1 L219.2 487.9 L222.9 487.6 L226.7 487.4 L230.4 487.2 L234.1 487.0 L237.8 486.8 L241.5 486.5 L245.2 486.3 L248.9 486.1 L252.6 485.9 L256.4 485.7 L260.1 485.4 L263.8 485.2 L267.5 485.0 L271.2 484.8 L274.9 484.6 L278.6 484.4 L282.3 484.1 L286.1 483.9 L289.8 483.7 L293.5 483.5 L297.2 483.3 L300.9 483.1 L304.6 482.8 L308.3 482.6 L312.0 482.4 L315.8 482.2 L319.5 482.0 L323.2 481.8 L326.9 481.5 L330.6 481.3 L334.3 481.1 L338.0 480.9 L341.7 480.7 L345.5 480.5 L349.2 480.3 L352.9 480.0 L356.6 479.8 L360.3 479.6 L364.0 479.4 L367.7 479.2 L371.4 479.0 L375.2 478.8 L378.9 478.5 L382.6 478.3 L386.3 478.1 L390.0 477.9 L393.7 477.7 L395.6 477.6 L397.4 477.5 L399.3 477.5 L401.1 477.5 L404.9 477.6 L408.6 477.6 L412.3 477.7 L416.0 477.7 L419.7 477.8 L423.4 477.8 L427.1 477.8 L430.8 477.9 L434.6 477.9 L438.3 478.0 L442.0 478.0 L445.7 478.1 L449.4 478.1 L453.1 478.1 L456.8 478.2 L460.5 478.2 L464.3 478.3 L468.0 478.3 L471.7 478.4 L475.4 478.4 L479.1 478.4 L482.8 478.5 L486.5 478.5 L490.2 478.6 L494.0 478.6 L497.7 478.6 L501.4 478.7 L505.1 478.7 L508.8 478.8 L512.5 478.8 L516.2 478.9 L519.9 478.9 L523.7 478.9 L527.4 479.0 L531.1 479.0 L534.8 479.1 L538.5 479.1 L542.2 479.1 L545.9 479.2 L549.6 479.2 L553.4 479.3 L557.1 479.3 L560.8 479.3 L564.5 479.4 L568.2 479.4 L571.9 479.5 L575.6 479.5 L579.3 479.5 L583.0 479.6 L586.8 479.6 L590.5 479.6 L594.2 479.7 L597.9 479.7 L601.6 479.8 L605.3 479.8 L609.0 479.8 L612.7 479.9 L616.5 479.9 L620.2 479.9 L623.9 480.0 L627.6 480.0 L631.3 480.1 L635.0 480.1 L638.7 480.1 L642.4 480.2 L646.2 480.2 L649.9 480.2 L653.6 480.3 L657.3 480.3 L661.0 480.4 L664.7 480.4 L668.4 480.4 L672.1 480.5 L675.9 480.5 L679.6 480.5 L683.3 480.6 L687.0 480.6 L690.7 480.6 L694.4 480.7 L698.1 480.7 L701.8 480.8 L705.6 480.8 L709.3 480.8 L713.0 480.9 L716.7 480.9 L720.4 480.9 L724.1 481.0 L727.8 481.0 L731.5 481.0 L735.3 481.1 L739.0 481.1 L742.7 481.1 L746.4 481.2 L750.1 481.2 L753.8 481.2 L757.5 481.3 L761.2 481.3 L765.0 481.3 L766.8 481.4 L767.7 481.4" fill="none" stroke="#ee857d" stroke-width="1.9" stroke-linejoin="round"/>
<path d="M121.7 495.0 C122.2 493.1 123.9 487.6 125.0 483.3 C126.1 479.0 127.2 473.1 128.3 468.3 C129.4 463.5 130.8 458.1 131.7 453.3 C132.6 448.5 133.4 442.8 134.2 438.3 C135.0 433.8 135.8 428.7 136.7 425.0 C137.6 421.3 139.2 417.4 140.0 415.0 C140.8 412.6 141.0 412.9 141.7 410.0 C142.4 407.1 143.5 400.4 144.2 396.7 C144.9 393.0 144.9 389.9 145.8 386.7 C146.7 383.5 149.1 380.2 150.0 376.7 C150.9 373.2 151.2 369.0 151.7 365.0 C152.2 361.0 152.8 356.0 153.3 351.7 C153.8 347.4 154.3 341.6 155.0 338.3 C155.7 335.0 156.4 332.3 157.5 330.8 C158.6 329.3 160.8 330.7 161.7 329.2 C162.6 327.7 162.8 324.2 163.3 321.7 C163.8 319.2 164.6 315.2 165.0 313.3 C165.4 311.4 164.9 312.7 165.8 310.0 C166.7 307.3 169.7 301.0 170.8 296.7 C171.9 292.4 171.8 286.8 172.5 283.3 C173.2 279.8 173.9 277.4 175.0 275.0 C176.1 272.6 178.3 271.0 179.2 268.3 C180.1 265.6 179.9 261.8 180.8 258.3 C181.7 254.8 183.8 250.2 185.0 246.7 C186.2 243.2 187.4 239.1 188.3 236.7 C189.2 234.3 189.9 232.6 190.8 231.7 C191.7 230.8 193.3 232.4 194.2 230.8 C195.1 229.2 196.0 223.4 196.7 221.7 C197.4 220.0 197.5 222.4 198.3 220.0 C199.1 217.6 200.5 209.9 201.7 206.7 C202.9 203.5 204.6 201.6 205.8 200.0 C207.0 198.4 208.3 198.8 209.2 196.7 C210.1 194.6 210.8 190.4 211.7 186.7 C212.6 183.0 214.1 176.9 215.0 173.3 C215.9 169.7 216.3 165.0 217.5 164.2 C218.7 163.4 221.2 169.5 222.5 168.3 C223.8 167.1 224.9 159.5 225.8 156.7 C226.7 153.9 227.4 151.9 228.3 150.8 C229.2 149.7 230.8 151.2 231.7 150.0 C232.6 148.8 233.3 145.3 234.2 143.3 C235.1 141.3 236.3 137.8 237.5 137.5 C238.7 137.2 240.2 141.2 241.7 141.7 C243.2 142.2 245.4 142.1 246.7 140.8 C248.0 139.5 249.2 136.1 250.0 133.3 C250.8 130.5 251.0 125.4 251.7 123.3 C252.4 121.2 253.5 119.7 254.2 120.0 C254.9 120.3 255.2 123.7 256.0 125.0 C256.8 126.3 257.8 128.6 259.2 128.3 C260.6 128.0 263.5 125.7 265.0 123.3 C266.5 120.9 267.1 116.4 268.3 113.3 C269.5 110.2 271.2 105.0 272.5 104.2 C273.8 103.4 275.4 107.1 276.7 108.3 C278.0 109.5 279.5 110.4 280.8 111.7 C282.1 113.0 283.8 117.0 285.0 116.7 C286.2 116.4 287.0 110.8 288.3 110.0 C289.6 109.2 291.7 112.6 293.3 111.7 C294.9 110.8 296.7 104.3 298.3 104.2 C299.9 104.1 301.7 111.3 303.3 110.8 C304.9 110.3 306.7 103.2 308.3 100.8 C309.9 98.4 311.8 95.8 313.3 95.8 C314.8 95.8 316.3 99.3 317.5 100.8 C318.7 102.3 319.6 105.3 320.8 105.0 C322.0 104.7 323.8 99.9 325.0 99.2 C326.2 98.5 327.1 101.3 328.3 100.8 C329.5 100.3 331.3 97.4 332.5 95.8 C333.7 94.2 334.6 90.8 335.8 90.8 C337.0 90.8 338.5 94.5 340.0 95.8 C341.5 97.1 343.7 98.4 345.0 99.2 C346.3 100.0 347.4 101.6 348.3 100.8 C349.2 100.0 349.7 95.3 350.8 94.2 C351.9 93.1 353.7 93.7 355.0 94.2 C356.3 94.7 358.0 96.3 359.2 97.5 C360.4 98.7 361.6 102.6 362.5 101.7 C363.4 100.8 364.1 94.0 365.0 91.7 C365.9 89.4 367.2 86.4 368.3 87.5 C369.4 88.6 370.6 97.6 371.7 98.3 C372.8 99.0 373.9 91.8 375.0 91.7 C376.1 91.6 377.1 97.6 378.3 97.5 C379.5 97.4 381.2 90.9 382.5 90.8 C383.8 90.7 385.2 95.9 386.7 96.7 C388.2 97.5 390.4 96.5 391.7 95.8 C393.0 95.1 394.2 92.5 395.0 92.5 C395.8 92.5 396.1 95.4 397.0 95.8 C397.9 96.2 399.6 95.5 400.8 95.0 C402.0 94.5 403.1 93.3 404.2 92.5 C405.3 91.7 406.3 89.5 407.5 90.0 C408.7 90.5 410.4 95.4 411.7 95.8 C413.0 96.2 414.5 92.2 415.8 92.5 C417.1 92.8 418.8 96.2 420.0 97.5 C421.2 98.8 422.1 100.3 423.3 100.8 C424.5 101.3 426.3 101.5 427.5 100.8 C428.7 100.1 429.7 95.9 430.8 96.7 C431.9 97.5 433.1 103.0 434.2 105.8 C435.3 108.6 436.3 114.1 437.5 114.2 C438.7 114.3 440.4 107.4 441.7 106.7 C443.0 106.0 444.5 108.7 445.8 110.0 C447.1 111.3 448.7 114.6 450.0 115.0 C451.3 115.4 452.9 112.0 454.2 112.5 C455.5 113.0 457.0 118.0 458.3 118.3 C459.6 118.6 461.2 114.6 462.5 114.2 C463.8 113.8 465.2 115.8 466.7 115.8 C468.2 115.8 470.4 113.8 471.7 114.2 C473.0 114.6 473.8 117.6 475.0 118.3 C476.2 119.0 477.9 117.5 479.2 118.3 C480.5 119.1 482.1 122.8 483.3 123.3 C484.5 123.8 485.6 122.2 486.7 121.7 C487.8 121.2 488.8 119.2 490.0 120.0 C491.2 120.8 492.9 125.4 494.2 126.7 C495.5 128.0 497.1 128.3 498.3 128.3 C499.5 128.3 500.5 126.0 501.7 126.7 C502.9 127.4 504.6 132.0 505.8 132.5 C507.0 133.0 508.1 130.8 509.2 130.0 C510.3 129.2 511.3 126.8 512.5 127.5 C513.7 128.2 515.4 132.7 516.7 134.2 C518.0 135.7 519.5 136.0 520.8 136.7 C522.1 137.4 523.8 137.5 525.0 138.3 C526.2 139.1 527.2 141.3 528.0 141.7 C528.8 142.1 529.0 141.2 530.0 140.8 C531.0 140.4 532.9 139.7 534.2 139.2 C535.5 138.7 537.0 137.2 538.3 137.5 C539.6 137.8 541.2 140.0 542.5 140.8 C543.8 141.6 545.4 141.4 546.7 142.5 C548.0 143.6 549.5 147.2 550.8 147.5 C552.1 147.8 553.8 145.3 555.0 144.2 C556.2 143.1 557.1 140.1 558.3 140.8 C559.5 141.5 561.3 147.5 562.5 148.3 C563.7 149.1 564.7 146.9 565.8 145.8 C566.9 144.7 568.1 141.0 569.2 141.7 C570.3 142.4 571.4 147.5 572.5 150.0 C573.6 152.5 574.6 156.7 575.8 157.5 C577.0 158.3 578.8 155.3 580.0 155.0 C581.2 154.7 582.1 156.5 583.3 155.8 C584.5 155.1 586.2 150.9 587.5 150.8 C588.8 150.7 590.5 153.5 591.7 155.0 C592.9 156.5 593.8 159.3 595.0 160.0 C596.2 160.7 597.9 160.7 599.2 159.2 C600.5 157.7 602.1 151.2 603.3 150.8 C604.5 150.4 605.6 154.4 606.7 156.7 C607.8 159.0 608.7 164.5 610.0 165.0 C611.3 165.5 613.5 161.1 615.0 160.0 C616.5 158.9 618.0 158.3 619.2 158.3 C620.4 158.3 621.4 160.3 622.5 160.0 C623.6 159.7 624.6 156.2 625.8 156.7 C627.0 157.2 628.9 161.6 630.0 163.3 C631.1 165.0 631.6 168.3 632.5 167.5 C633.4 166.7 634.7 159.0 635.8 158.3 C636.9 157.6 638.0 161.3 639.2 163.3 C640.4 165.3 642.1 170.7 643.3 170.8 C644.5 170.9 645.6 164.3 646.7 164.2 C647.8 164.1 648.9 168.9 650.0 170.0 C651.1 171.1 652.2 171.1 653.3 170.8 C654.4 170.5 655.6 167.6 656.7 168.3 C657.8 169.0 658.9 173.3 660.0 175.0 C661.1 176.7 662.2 179.7 663.3 179.2 C664.4 178.7 665.6 172.1 666.7 171.7 C667.8 171.3 668.8 176.2 670.0 176.7 C671.2 177.2 672.9 175.4 674.2 175.0 C675.5 174.6 677.1 175.4 678.3 174.2 C679.5 173.0 680.6 168.7 681.7 167.5 C682.8 166.3 683.8 166.0 685.0 166.7 C686.2 167.4 688.0 170.2 689.2 171.7 C690.4 173.2 691.3 175.4 692.5 175.8 C693.7 176.2 695.5 174.6 696.7 174.2 C697.9 173.8 698.9 172.2 700.0 173.3 C701.1 174.4 702.1 180.4 703.3 180.8 C704.5 181.2 706.3 175.7 707.5 175.8 C708.7 175.9 709.6 182.0 710.8 181.7 C712.0 181.4 713.8 175.5 715.0 174.2 C716.2 172.9 717.1 172.8 718.3 173.3 C719.5 173.8 721.2 176.3 722.5 177.5 C723.8 178.7 725.5 179.7 726.7 180.8 C727.9 181.9 728.8 183.9 730.0 184.2 C731.2 184.5 732.9 182.2 734.2 182.5 C735.5 182.8 737.1 185.7 738.3 185.8 C739.5 185.9 740.5 184.0 741.7 183.3 C742.9 182.6 744.5 181.2 745.8 181.7 C747.1 182.2 748.8 185.8 750.0 186.7 C751.2 187.6 752.1 188.0 753.3 187.5 C754.5 187.0 756.2 184.1 757.5 183.3 C758.8 182.5 760.5 182.5 761.7 182.5 C762.9 182.5 764.0 183.0 765.0 183.3 C766.0 183.6 767.5 184.1 768.0 184.2" fill="none" stroke="#3232d4" stroke-width="3.0" stroke-opacity="0.15" stroke-linejoin="round" style="mix-blend-mode:multiply"/>
<path d="M121.7 495.0 C122.2 493.1 123.9 487.6 125.0 483.3 C126.1 479.0 127.2 473.1 128.3 468.3 C129.4 463.5 130.8 458.1 131.7 453.3 C132.6 448.5 133.4 442.8 134.2 438.3 C135.0 433.8 135.8 428.7 136.7 425.0 C137.6 421.3 139.2 417.4 140.0 415.0 C140.8 412.6 141.0 412.9 141.7 410.0 C142.4 407.1 143.5 400.4 144.2 396.7 C144.9 393.0 144.9 389.9 145.8 386.7 C146.7 383.5 149.1 380.2 150.0 376.7 C150.9 373.2 151.2 369.0 151.7 365.0 C152.2 361.0 152.8 356.0 153.3 351.7 C153.8 347.4 154.3 341.6 155.0 338.3 C155.7 335.0 156.4 332.3 157.5 330.8 C158.6 329.3 160.8 330.7 161.7 329.2 C162.6 327.7 162.8 324.2 163.3 321.7 C163.8 319.2 164.6 315.2 165.0 313.3 C165.4 311.4 164.9 312.7 165.8 310.0 C166.7 307.3 169.7 301.0 170.8 296.7 C171.9 292.4 171.8 286.8 172.5 283.3 C173.2 279.8 173.9 277.4 175.0 275.0 C176.1 272.6 178.3 271.0 179.2 268.3 C180.1 265.6 179.9 261.8 180.8 258.3 C181.7 254.8 183.8 250.2 185.0 246.7 C186.2 243.2 187.4 239.1 188.3 236.7 C189.2 234.3 189.9 232.6 190.8 231.7 C191.7 230.8 193.3 232.4 194.2 230.8 C195.1 229.2 196.0 223.4 196.7 221.7 C197.4 220.0 197.5 222.4 198.3 220.0 C199.1 217.6 200.5 209.9 201.7 206.7 C202.9 203.5 204.6 201.6 205.8 200.0 C207.0 198.4 208.3 198.8 209.2 196.7 C210.1 194.6 210.8 190.4 211.7 186.7 C212.6 183.0 214.1 176.9 215.0 173.3 C215.9 169.7 216.3 165.0 217.5 164.2 C218.7 163.4 221.2 169.5 222.5 168.3 C223.8 167.1 224.9 159.5 225.8 156.7 C226.7 153.9 227.4 151.9 228.3 150.8 C229.2 149.7 230.8 151.2 231.7 150.0 C232.6 148.8 233.3 145.3 234.2 143.3 C235.1 141.3 236.3 137.8 237.5 137.5 C238.7 137.2 240.2 141.2 241.7 141.7 C243.2 142.2 245.4 142.1 246.7 140.8 C248.0 139.5 249.2 136.1 250.0 133.3 C250.8 130.5 251.0 125.4 251.7 123.3 C252.4 121.2 253.5 119.7 254.2 120.0 C254.9 120.3 255.2 123.7 256.0 125.0 C256.8 126.3 257.8 128.6 259.2 128.3 C260.6 128.0 263.5 125.7 265.0 123.3 C266.5 120.9 267.1 116.4 268.3 113.3 C269.5 110.2 271.2 105.0 272.5 104.2 C273.8 103.4 275.4 107.1 276.7 108.3 C278.0 109.5 279.5 110.4 280.8 111.7 C282.1 113.0 283.8 117.0 285.0 116.7 C286.2 116.4 287.0 110.8 288.3 110.0 C289.6 109.2 291.7 112.6 293.3 111.7 C294.9 110.8 296.7 104.3 298.3 104.2 C299.9 104.1 301.7 111.3 303.3 110.8 C304.9 110.3 306.7 103.2 308.3 100.8 C309.9 98.4 311.8 95.8 313.3 95.8 C314.8 95.8 316.3 99.3 317.5 100.8 C318.7 102.3 319.6 105.3 320.8 105.0 C322.0 104.7 323.8 99.9 325.0 99.2 C326.2 98.5 327.1 101.3 328.3 100.8 C329.5 100.3 331.3 97.4 332.5 95.8 C333.7 94.2 334.6 90.8 335.8 90.8 C337.0 90.8 338.5 94.5 340.0 95.8 C341.5 97.1 343.7 98.4 345.0 99.2 C346.3 100.0 347.4 101.6 348.3 100.8 C349.2 100.0 349.7 95.3 350.8 94.2 C351.9 93.1 353.7 93.7 355.0 94.2 C356.3 94.7 358.0 96.3 359.2 97.5 C360.4 98.7 361.6 102.6 362.5 101.7 C363.4 100.8 364.1 94.0 365.0 91.7 C365.9 89.4 367.2 86.4 368.3 87.5 C369.4 88.6 370.6 97.6 371.7 98.3 C372.8 99.0 373.9 91.8 375.0 91.7 C376.1 91.6 377.1 97.6 378.3 97.5 C379.5 97.4 381.2 90.9 382.5 90.8 C383.8 90.7 385.2 95.9 386.7 96.7 C388.2 97.5 390.4 96.5 391.7 95.8 C393.0 95.1 394.2 92.5 395.0 92.5 C395.8 92.5 396.1 95.4 397.0 95.8 C397.9 96.2 399.6 95.5 400.8 95.0 C402.0 94.5 403.1 93.3 404.2 92.5 C405.3 91.7 406.3 89.5 407.5 90.0 C408.7 90.5 410.4 95.4 411.7 95.8 C413.0 96.2 414.5 92.2 415.8 92.5 C417.1 92.8 418.8 96.2 420.0 97.5 C421.2 98.8 422.1 100.3 423.3 100.8 C424.5 101.3 426.3 101.5 427.5 100.8 C428.7 100.1 429.7 95.9 430.8 96.7 C431.9 97.5 433.1 103.0 434.2 105.8 C435.3 108.6 436.3 114.1 437.5 114.2 C438.7 114.3 440.4 107.4 441.7 106.7 C443.0 106.0 444.5 108.7 445.8 110.0 C447.1 111.3 448.7 114.6 450.0 115.0 C451.3 115.4 452.9 112.0 454.2 112.5 C455.5 113.0 457.0 118.0 458.3 118.3 C459.6 118.6 461.2 114.6 462.5 114.2 C463.8 113.8 465.2 115.8 466.7 115.8 C468.2 115.8 470.4 113.8 471.7 114.2 C473.0 114.6 473.8 117.6 475.0 118.3 C476.2 119.0 477.9 117.5 479.2 118.3 C480.5 119.1 482.1 122.8 483.3 123.3 C484.5 123.8 485.6 122.2 486.7 121.7 C487.8 121.2 488.8 119.2 490.0 120.0 C491.2 120.8 492.9 125.4 494.2 126.7 C495.5 128.0 497.1 128.3 498.3 128.3 C499.5 128.3 500.5 126.0 501.7 126.7 C502.9 127.4 504.6 132.0 505.8 132.5 C507.0 133.0 508.1 130.8 509.2 130.0 C510.3 129.2 511.3 126.8 512.5 127.5 C513.7 128.2 515.4 132.7 516.7 134.2 C518.0 135.7 519.5 136.0 520.8 136.7 C522.1 137.4 523.8 137.5 525.0 138.3 C526.2 139.1 527.2 141.3 528.0 141.7 C528.8 142.1 529.0 141.2 530.0 140.8 C531.0 140.4 532.9 139.7 534.2 139.2 C535.5 138.7 537.0 137.2 538.3 137.5 C539.6 137.8 541.2 140.0 542.5 140.8 C543.8 141.6 545.4 141.4 546.7 142.5 C548.0 143.6 549.5 147.2 550.8 147.5 C552.1 147.8 553.8 145.3 555.0 144.2 C556.2 143.1 557.1 140.1 558.3 140.8 C559.5 141.5 561.3 147.5 562.5 148.3 C563.7 149.1 564.7 146.9 565.8 145.8 C566.9 144.7 568.1 141.0 569.2 141.7 C570.3 142.4 571.4 147.5 572.5 150.0 C573.6 152.5 574.6 156.7 575.8 157.5 C577.0 158.3 578.8 155.3 580.0 155.0 C581.2 154.7 582.1 156.5 583.3 155.8 C584.5 155.1 586.2 150.9 587.5 150.8 C588.8 150.7 590.5 153.5 591.7 155.0 C592.9 156.5 593.8 159.3 595.0 160.0 C596.2 160.7 597.9 160.7 599.2 159.2 C600.5 157.7 602.1 151.2 603.3 150.8 C604.5 150.4 605.6 154.4 606.7 156.7 C607.8 159.0 608.7 164.5 610.0 165.0 C611.3 165.5 613.5 161.1 615.0 160.0 C616.5 158.9 618.0 158.3 619.2 158.3 C620.4 158.3 621.4 160.3 622.5 160.0 C623.6 159.7 624.6 156.2 625.8 156.7 C627.0 157.2 628.9 161.6 630.0 163.3 C631.1 165.0 631.6 168.3 632.5 167.5 C633.4 166.7 634.7 159.0 635.8 158.3 C636.9 157.6 638.0 161.3 639.2 163.3 C640.4 165.3 642.1 170.7 643.3 170.8 C644.5 170.9 645.6 164.3 646.7 164.2 C647.8 164.1 648.9 168.9 650.0 170.0 C651.1 171.1 652.2 171.1 653.3 170.8 C654.4 170.5 655.6 167.6 656.7 168.3 C657.8 169.0 658.9 173.3 660.0 175.0 C661.1 176.7 662.2 179.7 663.3 179.2 C664.4 178.7 665.6 172.1 666.7 171.7 C667.8 171.3 668.8 176.2 670.0 176.7 C671.2 177.2 672.9 175.4 674.2 175.0 C675.5 174.6 677.1 175.4 678.3 174.2 C679.5 173.0 680.6 168.7 681.7 167.5 C682.8 166.3 683.8 166.0 685.0 166.7 C686.2 167.4 688.0 170.2 689.2 171.7 C690.4 173.2 691.3 175.4 692.5 175.8 C693.7 176.2 695.5 174.6 696.7 174.2 C697.9 173.8 698.9 172.2 700.0 173.3 C701.1 174.4 702.1 180.4 703.3 180.8 C704.5 181.2 706.3 175.7 707.5 175.8 C708.7 175.9 709.6 182.0 710.8 181.7 C712.0 181.4 713.8 175.5 715.0 174.2 C716.2 172.9 717.1 172.8 718.3 173.3 C719.5 173.8 721.2 176.3 722.5 177.5 C723.8 178.7 725.5 179.7 726.7 180.8 C727.9 181.9 728.8 183.9 730.0 184.2 C731.2 184.5 732.9 182.2 734.2 182.5 C735.5 182.8 737.1 185.7 738.3 185.8 C739.5 185.9 740.5 184.0 741.7 183.3 C742.9 182.6 744.5 181.2 745.8 181.7 C747.1 182.2 748.8 185.8 750.0 186.7 C751.2 187.6 752.1 188.0 753.3 187.5 C754.5 187.0 756.2 184.1 757.5 183.3 C758.8 182.5 760.5 182.5 761.7 182.5 C762.9 182.5 764.0 183.0 765.0 183.3 C766.0 183.6 767.5 184.1 768.0 184.2" fill="none" stroke="#3232d4" stroke-width="1.6" stroke-linejoin="round" stroke-dasharray="2.6 0.25" style="mix-blend-mode:multiply"/>
<path d="M121.7 495.0 C122.5 493.1 125.1 487.6 126.7 483.3 C128.3 479.0 130.5 472.3 131.7 468.3 C132.9 464.3 133.4 460.6 134.2 458.3 C135.0 456.0 135.5 455.7 136.7 454.2 C137.9 452.7 140.2 451.3 141.7 449.2 C143.2 447.1 144.6 443.9 145.8 440.8 C147.0 437.7 148.1 433.3 149.2 430.0 C150.3 426.7 151.3 422.4 152.5 420.0 C153.7 417.6 155.6 416.6 156.7 415.0 C157.8 413.4 158.4 412.4 159.2 410.0 C160.0 407.6 160.9 402.5 161.7 400.0 C162.5 397.5 163.1 395.0 164.2 394.2 C165.3 393.4 167.0 396.7 168.3 395.0 C169.6 393.3 171.4 386.2 172.5 383.3 C173.6 380.4 173.9 377.2 175.0 376.7 C176.1 376.2 178.0 380.5 179.2 380.0 C180.4 379.5 181.6 376.2 182.5 373.3 C183.4 370.4 184.1 364.1 185.0 361.7 C185.9 359.3 187.2 358.8 188.3 358.3 C189.4 357.8 190.6 359.4 191.7 358.3 C192.8 357.2 193.9 354.9 195.0 351.7 C196.1 348.5 197.4 341.2 198.3 338.3 C199.2 335.4 199.7 333.8 200.8 333.3 C201.9 332.8 203.8 335.8 205.0 335.0 C206.2 334.2 207.4 331.5 208.3 328.3 C209.2 325.1 209.9 317.4 210.8 315.0 C211.7 312.6 213.3 314.1 214.2 313.3 C215.1 312.5 216.0 311.9 216.7 310.0 C217.4 308.1 217.2 304.0 218.3 301.7 C219.4 299.4 221.4 297.1 223.3 295.8 C225.2 294.5 228.5 295.3 230.0 293.3 C231.5 291.3 231.4 286.8 232.5 283.3 C233.6 279.8 235.5 274.1 236.7 271.7 C237.9 269.3 238.7 269.5 240.0 268.3 C241.3 267.1 243.4 264.9 245.0 264.2 C246.6 263.5 248.7 265.4 250.0 264.2 C251.3 263.0 252.0 259.0 253.3 256.7 C254.6 254.4 256.7 252.1 258.3 250.0 C259.9 247.9 261.7 246.0 263.3 243.3 C264.9 240.6 267.2 236.2 268.3 233.3 C269.4 230.4 268.9 226.9 270.0 225.0 C271.1 223.1 273.7 222.4 275.0 221.7 C276.3 221.0 277.2 221.1 278.0 220.8 C278.8 220.5 279.0 220.9 280.0 220.0 C281.0 219.1 283.0 217.5 284.2 215.0 C285.4 212.5 286.4 205.8 287.5 204.2 C288.6 202.6 289.7 203.7 290.8 205.0 C291.9 206.3 293.3 213.3 294.2 212.5 C295.1 211.7 295.6 202.7 296.7 200.0 C297.8 197.3 299.6 196.9 300.8 195.8 C302.0 194.7 303.3 196.1 304.2 193.3 C305.1 190.5 305.8 180.4 306.7 178.3 C307.6 176.2 309.1 179.5 310.0 180.0 C310.9 180.5 311.4 182.1 312.5 181.7 C313.6 181.3 315.4 177.5 316.7 177.5 C318.0 177.5 319.5 181.6 320.8 181.7 C322.1 181.8 323.8 179.9 325.0 178.3 C326.2 176.7 327.1 173.8 328.3 171.7 C329.5 169.6 331.2 166.6 332.5 165.0 C333.8 163.4 335.5 161.7 336.7 161.7 C337.9 161.7 338.7 165.3 340.0 165.0 C341.3 164.7 343.4 161.6 345.0 160.0 C346.6 158.4 348.5 156.1 350.0 155.0 C351.5 153.9 353.0 154.6 354.2 153.3 C355.4 152.0 356.3 147.1 357.5 146.7 C358.7 146.3 360.4 151.2 361.7 150.8 C363.0 150.4 364.6 144.9 365.8 144.2 C367.0 143.5 368.1 145.6 369.2 146.7 C370.3 147.8 371.4 151.9 372.5 150.8 C373.6 149.7 374.6 141.5 375.8 140.0 C377.0 138.5 378.7 141.8 380.0 141.7 C381.3 141.6 382.9 140.3 384.2 139.2 C385.5 138.1 387.0 136.7 388.3 135.0 C389.6 133.3 391.1 129.5 392.5 128.3 C393.9 127.1 395.7 127.8 397.0 127.5 C398.3 127.2 399.5 127.4 400.8 126.7 C402.1 126.0 403.7 124.1 405.0 123.3 C406.3 122.5 407.9 121.6 409.2 121.7 C410.5 121.8 411.8 123.5 413.3 124.2 C414.8 124.9 416.8 124.9 418.3 125.8 C419.8 126.7 421.2 128.3 422.5 130.0 C423.8 131.7 425.5 136.8 426.7 136.7 C427.9 136.6 428.9 129.5 430.0 129.2 C431.1 128.9 432.2 132.7 433.3 135.0 C434.4 137.3 435.5 142.9 436.7 143.3 C437.9 143.7 439.5 138.2 440.8 137.5 C442.1 136.8 443.8 139.5 445.0 139.2 C446.2 138.9 447.1 135.1 448.3 135.8 C449.5 136.5 451.2 141.4 452.5 143.3 C453.8 145.2 455.4 147.5 456.7 147.5 C458.0 147.5 459.5 144.2 460.8 143.3 C462.1 142.4 463.9 142.6 465.0 141.7 C466.1 140.8 466.4 137.0 467.5 137.5 C468.6 138.0 470.2 143.5 471.7 145.0 C473.2 146.5 475.2 145.5 476.7 146.7 C478.2 147.9 479.5 151.7 480.8 152.5 C482.1 153.3 483.7 152.1 485.0 151.7 C486.3 151.3 487.7 150.0 489.2 150.0 C490.7 150.0 492.5 151.3 494.2 151.7 C495.9 152.1 498.0 152.2 500.0 152.5 C502.0 152.8 504.8 153.6 506.7 153.3 C508.6 153.0 510.2 150.3 511.7 150.8 C513.2 151.3 514.5 156.0 515.8 156.7 C517.1 157.4 518.9 155.5 520.0 155.0 C521.1 154.5 521.6 152.5 522.5 153.3 C523.4 154.1 524.8 158.5 525.8 160.0 C526.8 161.5 527.8 162.0 528.5 162.5 C529.2 163.0 529.1 163.4 530.0 163.3 C530.9 163.2 533.0 161.7 534.2 161.7 C535.4 161.7 536.4 162.2 537.5 163.3 C538.6 164.4 539.7 168.3 540.8 168.3 C541.9 168.3 543.0 164.1 544.2 163.3 C545.4 162.5 547.0 162.9 548.3 163.3 C549.6 163.7 551.3 164.7 552.5 165.8 C553.7 166.9 554.6 170.5 555.8 170.0 C557.0 169.5 558.7 163.0 560.0 162.5 C561.3 162.0 563.0 165.8 564.2 166.7 C565.4 167.6 566.4 168.3 567.5 168.3 C568.6 168.3 569.6 165.8 570.8 166.7 C572.0 167.6 573.8 173.7 575.0 174.2 C576.2 174.7 577.1 171.5 578.3 170.0 C579.5 168.5 581.2 165.4 582.5 165.0 C583.8 164.6 585.5 166.3 586.7 167.5 C587.9 168.7 588.8 171.2 590.0 172.5 C591.2 173.8 592.7 174.9 594.2 175.8 C595.7 176.7 597.7 178.6 599.2 178.3 C600.7 178.0 602.1 175.0 603.3 174.2 C604.5 173.4 605.5 172.9 606.7 173.3 C607.9 173.7 609.6 175.8 610.8 176.7 C612.0 177.6 613.0 179.6 614.2 179.2 C615.4 178.8 617.0 174.6 618.3 174.2 C619.6 173.8 621.3 176.8 622.5 176.7 C623.7 176.6 624.6 173.0 625.8 173.3 C627.0 173.6 628.7 177.4 630.0 178.3 C631.3 179.2 633.0 178.7 634.2 179.2 C635.4 179.7 636.3 180.8 637.5 181.7 C638.7 182.6 640.5 186.5 641.7 185.0 C642.9 183.5 643.9 174.0 645.0 172.5 C646.1 171.0 647.5 173.8 648.3 175.8 C649.1 177.8 649.2 183.7 650.0 185.0 C650.8 186.3 652.1 184.6 653.3 184.2 C654.5 183.8 656.3 181.8 657.5 182.5 C658.7 183.2 659.9 186.3 660.8 188.3 C661.7 190.3 662.4 195.1 663.3 195.0 C664.2 194.9 665.6 188.3 666.7 187.5 C667.8 186.7 668.8 189.9 670.0 190.0 C671.2 190.1 673.0 188.4 674.2 188.3 C675.4 188.2 676.4 188.5 677.5 189.2 C678.6 189.9 679.7 193.0 680.8 192.5 C681.9 192.0 683.3 186.5 684.2 185.8 C685.1 185.1 685.9 186.7 686.7 188.3 C687.5 189.9 688.4 193.7 689.2 195.8 C690.0 197.9 690.8 201.6 691.7 201.7 C692.6 201.8 693.9 198.4 695.0 196.7 C696.1 195.0 697.1 192.1 698.3 190.8 C699.5 189.5 701.0 189.0 702.5 188.3 C704.0 187.6 706.2 186.3 707.5 186.7 C708.8 187.1 709.7 189.3 710.8 190.8 C711.9 192.3 713.1 195.8 714.2 195.8 C715.3 195.8 716.3 191.3 717.5 190.8 C718.7 190.3 720.5 191.8 721.7 192.5 C722.9 193.2 723.8 193.7 725.0 195.0 C726.2 196.3 728.1 199.6 729.2 200.8 C730.3 202.0 730.6 203.2 731.7 202.5 C732.8 201.8 734.6 196.7 735.8 196.7 C737.0 196.7 738.1 202.4 739.2 202.5 C740.3 202.6 741.4 198.6 742.5 197.5 C743.6 196.4 744.6 195.8 745.8 195.8 C747.0 195.8 748.7 197.4 750.0 197.5 C751.3 197.6 752.9 196.6 754.2 196.7 C755.5 196.8 756.8 198.2 758.3 198.3 C759.8 198.4 761.7 197.8 763.3 197.5 C764.9 197.2 767.2 196.8 768.0 196.7" fill="none" stroke="#3232d4" stroke-width="3.0" stroke-opacity="0.15" stroke-linejoin="round" style="mix-blend-mode:multiply"/>
<path d="M121.7 495.0 C122.5 493.1 125.1 487.6 126.7 483.3 C128.3 479.0 130.5 472.3 131.7 468.3 C132.9 464.3 133.4 460.6 134.2 458.3 C135.0 456.0 135.5 455.7 136.7 454.2 C137.9 452.7 140.2 451.3 141.7 449.2 C143.2 447.1 144.6 443.9 145.8 440.8 C147.0 437.7 148.1 433.3 149.2 430.0 C150.3 426.7 151.3 422.4 152.5 420.0 C153.7 417.6 155.6 416.6 156.7 415.0 C157.8 413.4 158.4 412.4 159.2 410.0 C160.0 407.6 160.9 402.5 161.7 400.0 C162.5 397.5 163.1 395.0 164.2 394.2 C165.3 393.4 167.0 396.7 168.3 395.0 C169.6 393.3 171.4 386.2 172.5 383.3 C173.6 380.4 173.9 377.2 175.0 376.7 C176.1 376.2 178.0 380.5 179.2 380.0 C180.4 379.5 181.6 376.2 182.5 373.3 C183.4 370.4 184.1 364.1 185.0 361.7 C185.9 359.3 187.2 358.8 188.3 358.3 C189.4 357.8 190.6 359.4 191.7 358.3 C192.8 357.2 193.9 354.9 195.0 351.7 C196.1 348.5 197.4 341.2 198.3 338.3 C199.2 335.4 199.7 333.8 200.8 333.3 C201.9 332.8 203.8 335.8 205.0 335.0 C206.2 334.2 207.4 331.5 208.3 328.3 C209.2 325.1 209.9 317.4 210.8 315.0 C211.7 312.6 213.3 314.1 214.2 313.3 C215.1 312.5 216.0 311.9 216.7 310.0 C217.4 308.1 217.2 304.0 218.3 301.7 C219.4 299.4 221.4 297.1 223.3 295.8 C225.2 294.5 228.5 295.3 230.0 293.3 C231.5 291.3 231.4 286.8 232.5 283.3 C233.6 279.8 235.5 274.1 236.7 271.7 C237.9 269.3 238.7 269.5 240.0 268.3 C241.3 267.1 243.4 264.9 245.0 264.2 C246.6 263.5 248.7 265.4 250.0 264.2 C251.3 263.0 252.0 259.0 253.3 256.7 C254.6 254.4 256.7 252.1 258.3 250.0 C259.9 247.9 261.7 246.0 263.3 243.3 C264.9 240.6 267.2 236.2 268.3 233.3 C269.4 230.4 268.9 226.9 270.0 225.0 C271.1 223.1 273.7 222.4 275.0 221.7 C276.3 221.0 277.2 221.1 278.0 220.8 C278.8 220.5 279.0 220.9 280.0 220.0 C281.0 219.1 283.0 217.5 284.2 215.0 C285.4 212.5 286.4 205.8 287.5 204.2 C288.6 202.6 289.7 203.7 290.8 205.0 C291.9 206.3 293.3 213.3 294.2 212.5 C295.1 211.7 295.6 202.7 296.7 200.0 C297.8 197.3 299.6 196.9 300.8 195.8 C302.0 194.7 303.3 196.1 304.2 193.3 C305.1 190.5 305.8 180.4 306.7 178.3 C307.6 176.2 309.1 179.5 310.0 180.0 C310.9 180.5 311.4 182.1 312.5 181.7 C313.6 181.3 315.4 177.5 316.7 177.5 C318.0 177.5 319.5 181.6 320.8 181.7 C322.1 181.8 323.8 179.9 325.0 178.3 C326.2 176.7 327.1 173.8 328.3 171.7 C329.5 169.6 331.2 166.6 332.5 165.0 C333.8 163.4 335.5 161.7 336.7 161.7 C337.9 161.7 338.7 165.3 340.0 165.0 C341.3 164.7 343.4 161.6 345.0 160.0 C346.6 158.4 348.5 156.1 350.0 155.0 C351.5 153.9 353.0 154.6 354.2 153.3 C355.4 152.0 356.3 147.1 357.5 146.7 C358.7 146.3 360.4 151.2 361.7 150.8 C363.0 150.4 364.6 144.9 365.8 144.2 C367.0 143.5 368.1 145.6 369.2 146.7 C370.3 147.8 371.4 151.9 372.5 150.8 C373.6 149.7 374.6 141.5 375.8 140.0 C377.0 138.5 378.7 141.8 380.0 141.7 C381.3 141.6 382.9 140.3 384.2 139.2 C385.5 138.1 387.0 136.7 388.3 135.0 C389.6 133.3 391.1 129.5 392.5 128.3 C393.9 127.1 395.7 127.8 397.0 127.5 C398.3 127.2 399.5 127.4 400.8 126.7 C402.1 126.0 403.7 124.1 405.0 123.3 C406.3 122.5 407.9 121.6 409.2 121.7 C410.5 121.8 411.8 123.5 413.3 124.2 C414.8 124.9 416.8 124.9 418.3 125.8 C419.8 126.7 421.2 128.3 422.5 130.0 C423.8 131.7 425.5 136.8 426.7 136.7 C427.9 136.6 428.9 129.5 430.0 129.2 C431.1 128.9 432.2 132.7 433.3 135.0 C434.4 137.3 435.5 142.9 436.7 143.3 C437.9 143.7 439.5 138.2 440.8 137.5 C442.1 136.8 443.8 139.5 445.0 139.2 C446.2 138.9 447.1 135.1 448.3 135.8 C449.5 136.5 451.2 141.4 452.5 143.3 C453.8 145.2 455.4 147.5 456.7 147.5 C458.0 147.5 459.5 144.2 460.8 143.3 C462.1 142.4 463.9 142.6 465.0 141.7 C466.1 140.8 466.4 137.0 467.5 137.5 C468.6 138.0 470.2 143.5 471.7 145.0 C473.2 146.5 475.2 145.5 476.7 146.7 C478.2 147.9 479.5 151.7 480.8 152.5 C482.1 153.3 483.7 152.1 485.0 151.7 C486.3 151.3 487.7 150.0 489.2 150.0 C490.7 150.0 492.5 151.3 494.2 151.7 C495.9 152.1 498.0 152.2 500.0 152.5 C502.0 152.8 504.8 153.6 506.7 153.3 C508.6 153.0 510.2 150.3 511.7 150.8 C513.2 151.3 514.5 156.0 515.8 156.7 C517.1 157.4 518.9 155.5 520.0 155.0 C521.1 154.5 521.6 152.5 522.5 153.3 C523.4 154.1 524.8 158.5 525.8 160.0 C526.8 161.5 527.8 162.0 528.5 162.5 C529.2 163.0 529.1 163.4 530.0 163.3 C530.9 163.2 533.0 161.7 534.2 161.7 C535.4 161.7 536.4 162.2 537.5 163.3 C538.6 164.4 539.7 168.3 540.8 168.3 C541.9 168.3 543.0 164.1 544.2 163.3 C545.4 162.5 547.0 162.9 548.3 163.3 C549.6 163.7 551.3 164.7 552.5 165.8 C553.7 166.9 554.6 170.5 555.8 170.0 C557.0 169.5 558.7 163.0 560.0 162.5 C561.3 162.0 563.0 165.8 564.2 166.7 C565.4 167.6 566.4 168.3 567.5 168.3 C568.6 168.3 569.6 165.8 570.8 166.7 C572.0 167.6 573.8 173.7 575.0 174.2 C576.2 174.7 577.1 171.5 578.3 170.0 C579.5 168.5 581.2 165.4 582.5 165.0 C583.8 164.6 585.5 166.3 586.7 167.5 C587.9 168.7 588.8 171.2 590.0 172.5 C591.2 173.8 592.7 174.9 594.2 175.8 C595.7 176.7 597.7 178.6 599.2 178.3 C600.7 178.0 602.1 175.0 603.3 174.2 C604.5 173.4 605.5 172.9 606.7 173.3 C607.9 173.7 609.6 175.8 610.8 176.7 C612.0 177.6 613.0 179.6 614.2 179.2 C615.4 178.8 617.0 174.6 618.3 174.2 C619.6 173.8 621.3 176.8 622.5 176.7 C623.7 176.6 624.6 173.0 625.8 173.3 C627.0 173.6 628.7 177.4 630.0 178.3 C631.3 179.2 633.0 178.7 634.2 179.2 C635.4 179.7 636.3 180.8 637.5 181.7 C638.7 182.6 640.5 186.5 641.7 185.0 C642.9 183.5 643.9 174.0 645.0 172.5 C646.1 171.0 647.5 173.8 648.3 175.8 C649.1 177.8 649.2 183.7 650.0 185.0 C650.8 186.3 652.1 184.6 653.3 184.2 C654.5 183.8 656.3 181.8 657.5 182.5 C658.7 183.2 659.9 186.3 660.8 188.3 C661.7 190.3 662.4 195.1 663.3 195.0 C664.2 194.9 665.6 188.3 666.7 187.5 C667.8 186.7 668.8 189.9 670.0 190.0 C671.2 190.1 673.0 188.4 674.2 188.3 C675.4 188.2 676.4 188.5 677.5 189.2 C678.6 189.9 679.7 193.0 680.8 192.5 C681.9 192.0 683.3 186.5 684.2 185.8 C685.1 185.1 685.9 186.7 686.7 188.3 C687.5 189.9 688.4 193.7 689.2 195.8 C690.0 197.9 690.8 201.6 691.7 201.7 C692.6 201.8 693.9 198.4 695.0 196.7 C696.1 195.0 697.1 192.1 698.3 190.8 C699.5 189.5 701.0 189.0 702.5 188.3 C704.0 187.6 706.2 186.3 707.5 186.7 C708.8 187.1 709.7 189.3 710.8 190.8 C711.9 192.3 713.1 195.8 714.2 195.8 C715.3 195.8 716.3 191.3 717.5 190.8 C718.7 190.3 720.5 191.8 721.7 192.5 C722.9 193.2 723.8 193.7 725.0 195.0 C726.2 196.3 728.1 199.6 729.2 200.8 C730.3 202.0 730.6 203.2 731.7 202.5 C732.8 201.8 734.6 196.7 735.8 196.7 C737.0 196.7 738.1 202.4 739.2 202.5 C740.3 202.6 741.4 198.6 742.5 197.5 C743.6 196.4 744.6 195.8 745.8 195.8 C747.0 195.8 748.7 197.4 750.0 197.5 C751.3 197.6 752.9 196.6 754.2 196.7 C755.5 196.8 756.8 198.2 758.3 198.3 C759.8 198.4 761.7 197.8 763.3 197.5 C764.9 197.2 767.2 196.8 768.0 196.7" fill="none" stroke="#3232d4" stroke-width="1.6" stroke-linejoin="round" stroke-dasharray="2.6 0.25" style="mix-blend-mode:multiply"/>
<path d="M120.5 495.5 C120.9 494.9 122.1 492.8 123.0 492.0 C123.9 491.2 125.0 491.3 126.0 490.5 C127.0 489.7 128.0 487.8 129.0 487.0 C130.0 486.2 131.0 486.5 132.0 485.5 C133.0 484.5 134.0 481.9 135.0 481.0 C136.0 480.1 137.0 480.6 138.0 480.0 C139.0 479.4 140.0 477.6 141.0 477.0 C142.0 476.4 143.2 476.6 144.0 476.0 C144.8 475.4 145.3 473.7 146.0 473.0 C146.7 472.3 147.3 473.0 148.3 471.7 C149.3 470.4 151.2 467.0 152.5 465.0 C153.8 463.0 155.2 460.8 156.7 459.2 C158.2 457.6 160.1 456.5 161.7 455.0 C163.3 453.5 165.4 450.5 166.7 450.0 C168.0 449.5 168.9 452.8 170.0 451.7 C171.1 450.6 172.2 445.6 173.3 443.3 C174.4 441.0 175.6 438.8 176.7 437.5 C177.8 436.2 178.9 435.1 180.0 435.0 C181.1 434.9 182.2 437.8 183.3 436.7 C184.4 435.6 185.6 430.3 186.7 428.3 C187.8 426.3 188.9 424.6 190.0 424.2 C191.1 423.8 192.2 425.4 193.3 425.8 C194.4 426.2 195.6 427.4 196.7 426.7 C197.8 426.0 198.9 422.8 200.0 421.7 C201.1 420.6 202.2 421.1 203.3 420.0 C204.4 418.9 205.5 416.6 206.7 415.0 C207.9 413.4 209.5 411.9 210.8 410.0 C212.1 408.1 213.8 405.0 215.0 403.3 C216.2 401.6 217.1 399.6 218.3 399.2 C219.5 398.8 221.3 401.5 222.5 400.8 C223.7 400.1 224.6 396.3 225.8 395.0 C227.0 393.7 228.9 393.6 230.0 392.5 C231.1 391.4 231.7 390.6 232.5 388.3 C233.3 386.0 234.2 381.0 235.0 378.3 C235.8 375.6 236.7 372.1 237.5 371.7 C238.3 371.3 239.2 373.8 240.0 375.8 C240.8 377.8 241.4 383.5 242.5 384.2 C243.6 384.9 245.5 381.5 246.7 380.0 C247.9 378.5 248.9 377.4 250.0 375.0 C251.1 372.6 252.2 366.7 253.3 365.0 C254.4 363.3 255.8 362.8 256.7 364.2 C257.6 365.6 258.3 373.7 259.2 374.0 C260.1 374.3 261.6 367.7 262.5 366.0 C263.4 364.3 264.2 364.3 265.0 363.3 C265.8 362.3 266.4 362.1 267.5 360.0 C268.6 357.9 270.2 352.3 271.7 350.0 C273.2 347.7 275.1 346.1 276.7 345.8 C278.3 345.5 280.2 349.8 281.7 348.3 C283.2 346.8 284.6 338.8 285.8 336.7 C287.0 334.6 287.9 334.3 289.2 335.0 C290.5 335.7 292.6 342.7 294.2 340.8 C295.8 338.9 297.7 326.2 299.2 323.3 C300.7 320.4 302.0 322.2 303.3 322.5 C304.6 322.8 306.0 325.5 307.5 325.0 C309.0 324.5 310.6 319.7 312.5 319.2 C314.4 318.7 317.6 322.0 319.2 321.7 C320.8 321.4 321.4 317.9 322.5 317.5 C323.6 317.1 324.6 320.0 325.8 319.2 C327.0 318.4 328.8 315.2 330.0 312.5 C331.2 309.8 332.1 304.6 333.3 302.5 C334.5 300.4 336.2 299.9 337.5 299.2 C338.8 298.5 340.4 298.4 341.7 298.3 C343.0 298.2 344.3 298.8 345.8 298.3 C347.3 297.8 349.6 296.2 350.8 295.0 C352.0 293.8 352.2 292.8 353.3 290.8 C354.4 288.8 356.2 282.1 357.5 282.5 C358.8 282.9 360.5 291.4 361.7 293.3 C362.9 295.2 363.8 295.4 365.0 294.2 C366.2 293.0 368.0 286.2 369.2 285.8 C370.4 285.4 371.4 293.0 372.5 291.7 C373.6 290.4 374.7 279.9 375.8 277.5 C376.9 275.1 378.1 276.2 379.2 276.7 C380.3 277.2 381.4 281.2 382.5 280.8 C383.6 280.4 384.7 275.7 385.8 274.2 C386.9 272.7 388.1 272.0 389.2 271.7 C390.3 271.4 391.4 273.4 392.5 272.5 C393.6 271.6 395.1 264.6 395.8 265.8 C396.5 267.0 396.5 279.1 397.0 280.0 C397.5 280.9 398.3 274.0 399.2 271.7 C400.1 269.4 401.3 267.0 402.5 265.8 C403.7 264.6 405.4 263.7 406.7 264.2 C408.0 264.7 409.5 269.1 410.8 269.2 C412.1 269.3 413.7 266.2 415.0 265.0 C416.3 263.8 418.0 261.2 419.2 261.7 C420.4 262.2 421.4 267.1 422.5 268.3 C423.6 269.5 424.6 269.2 425.8 269.2 C427.0 269.2 428.7 267.5 430.0 268.3 C431.3 269.1 433.0 272.6 434.2 274.2 C435.4 275.8 436.3 277.9 437.5 278.3 C438.7 278.7 440.2 277.1 441.7 276.7 C443.2 276.3 445.2 275.7 446.7 275.8 C448.2 275.9 449.3 276.6 450.8 277.5 C452.3 278.4 454.5 282.6 455.8 281.7 C457.1 280.8 458.1 274.1 459.2 271.7 C460.3 269.3 461.4 267.0 462.5 266.7 C463.6 266.4 464.7 268.1 465.8 270.0 C466.9 271.9 468.3 276.3 469.2 278.3 C470.1 280.3 470.8 283.3 471.7 282.5 C472.6 281.7 473.9 274.9 475.0 273.3 C476.1 271.7 477.2 271.4 478.3 272.5 C479.4 273.6 480.6 279.2 481.7 280.0 C482.8 280.8 483.9 278.4 485.0 277.5 C486.1 276.6 487.2 274.2 488.3 274.2 C489.4 274.2 490.6 276.6 491.7 277.5 C492.8 278.4 494.1 280.1 495.0 280.0 C495.9 279.9 496.6 276.7 497.5 276.7 C498.4 276.7 499.6 280.1 500.8 280.0 C502.0 279.9 503.7 276.9 505.0 275.8 C506.3 274.7 507.9 272.9 509.2 273.3 C510.5 273.7 512.1 276.4 513.3 278.3 C514.5 280.2 515.5 284.3 516.7 285.0 C517.9 285.7 519.7 282.6 520.8 282.5 C521.9 282.4 522.4 283.3 523.3 284.2 C524.2 285.1 525.6 288.0 526.7 288.3 C527.8 288.6 528.7 287.0 530.0 285.8 C531.3 284.6 533.5 280.8 535.0 280.8 C536.5 280.8 538.0 284.9 539.2 285.8 C540.4 286.7 541.3 286.8 542.5 286.7 C543.7 286.6 545.2 285.7 546.7 285.0 C548.2 284.3 550.4 282.8 551.7 282.5 C553.0 282.2 553.8 283.3 555.0 283.3 C556.2 283.3 558.0 281.8 559.2 282.5 C560.4 283.2 561.6 286.3 562.5 287.5 C563.4 288.7 563.9 290.3 565.0 290.0 C566.1 289.7 567.9 286.6 569.2 285.8 C570.5 285.0 572.1 284.6 573.3 285.0 C574.5 285.4 575.6 287.4 576.7 288.3 C577.8 289.2 579.1 291.6 580.0 290.8 C580.9 290.0 581.6 283.4 582.5 283.3 C583.4 283.2 584.9 288.4 585.8 290.0 C586.7 291.6 587.2 293.8 588.3 293.3 C589.4 292.8 591.2 287.9 592.5 286.7 C593.8 285.5 595.5 284.9 596.7 285.8 C597.9 286.7 598.8 291.4 600.0 292.5 C601.2 293.6 603.0 292.8 604.2 292.5 C605.4 292.2 606.6 292.5 607.5 290.8 C608.4 289.1 609.2 283.2 610.0 281.7 C610.8 280.2 611.6 280.5 612.5 281.7 C613.4 282.9 614.7 287.7 615.8 289.2 C616.9 290.7 618.0 290.8 619.2 290.8 C620.4 290.8 622.1 289.7 623.3 289.2 C624.5 288.7 625.6 287.1 626.7 287.5 C627.8 287.9 628.9 291.4 630.0 291.7 C631.1 292.0 632.1 288.8 633.3 289.2 C634.5 289.6 636.3 293.4 637.5 294.2 C638.7 295.0 639.7 295.0 640.8 294.2 C641.9 293.4 643.1 290.1 644.2 289.2 C645.3 288.3 646.6 286.8 647.5 288.3 C648.4 289.8 649.1 297.2 650.0 298.3 C650.9 299.4 652.2 295.9 653.3 295.0 C654.4 294.1 655.6 292.1 656.7 292.5 C657.8 292.9 658.9 296.2 660.0 297.5 C661.1 298.8 662.2 301.1 663.3 300.8 C664.4 300.5 665.5 297.0 666.7 295.8 C667.9 294.6 669.6 292.9 670.8 293.3 C672.0 293.7 673.1 297.2 674.2 298.3 C675.3 299.4 676.4 300.1 677.5 300.0 C678.6 299.9 679.7 298.0 680.8 297.5 C681.9 297.0 683.1 296.4 684.2 296.7 C685.3 297.0 686.3 298.0 687.5 299.2 C688.7 300.4 690.5 304.1 691.7 304.2 C692.9 304.3 693.9 301.5 695.0 300.0 C696.1 298.5 697.2 295.7 698.3 295.0 C699.4 294.3 700.5 295.9 701.7 295.8 C702.9 295.7 704.6 293.7 705.8 294.2 C707.0 294.7 708.1 297.7 709.2 299.2 C710.3 300.7 711.3 302.9 712.5 303.3 C713.7 303.7 715.4 301.8 716.7 301.7 C718.0 301.6 719.6 302.6 720.8 302.5 C722.0 302.4 723.0 300.9 724.2 300.8 C725.4 300.7 727.1 301.2 728.3 301.7 C729.5 302.2 730.6 304.3 731.7 304.2 C732.8 304.1 733.9 301.1 735.0 300.8 C736.1 300.5 737.2 302.0 738.3 302.5 C739.4 303.0 740.5 304.5 741.7 304.2 C742.9 303.9 744.6 301.1 745.8 300.8 C747.0 300.5 748.1 302.8 749.2 302.5 C750.3 302.2 751.4 298.9 752.5 299.2 C753.6 299.5 754.7 302.9 755.8 304.2 C756.9 305.5 758.3 308.2 759.2 307.5 C760.1 306.8 760.8 301.6 761.7 300.0 C762.6 298.4 764.0 297.8 765.0 297.5 C766.0 297.2 767.5 298.2 768.0 298.3" fill="none" stroke="#3232d4" stroke-width="3.0" stroke-opacity="0.15" stroke-linejoin="round" style="mix-blend-mode:multiply"/>
<path d="M120.5 495.5 C120.9 494.9 122.1 492.8 123.0 492.0 C123.9 491.2 125.0 491.3 126.0 490.5 C127.0 489.7 128.0 487.8 129.0 487.0 C130.0 486.2 131.0 486.5 132.0 485.5 C133.0 484.5 134.0 481.9 135.0 481.0 C136.0 480.1 137.0 480.6 138.0 480.0 C139.0 479.4 140.0 477.6 141.0 477.0 C142.0 476.4 143.2 476.6 144.0 476.0 C144.8 475.4 145.3 473.7 146.0 473.0 C146.7 472.3 147.3 473.0 148.3 471.7 C149.3 470.4 151.2 467.0 152.5 465.0 C153.8 463.0 155.2 460.8 156.7 459.2 C158.2 457.6 160.1 456.5 161.7 455.0 C163.3 453.5 165.4 450.5 166.7 450.0 C168.0 449.5 168.9 452.8 170.0 451.7 C171.1 450.6 172.2 445.6 173.3 443.3 C174.4 441.0 175.6 438.8 176.7 437.5 C177.8 436.2 178.9 435.1 180.0 435.0 C181.1 434.9 182.2 437.8 183.3 436.7 C184.4 435.6 185.6 430.3 186.7 428.3 C187.8 426.3 188.9 424.6 190.0 424.2 C191.1 423.8 192.2 425.4 193.3 425.8 C194.4 426.2 195.6 427.4 196.7 426.7 C197.8 426.0 198.9 422.8 200.0 421.7 C201.1 420.6 202.2 421.1 203.3 420.0 C204.4 418.9 205.5 416.6 206.7 415.0 C207.9 413.4 209.5 411.9 210.8 410.0 C212.1 408.1 213.8 405.0 215.0 403.3 C216.2 401.6 217.1 399.6 218.3 399.2 C219.5 398.8 221.3 401.5 222.5 400.8 C223.7 400.1 224.6 396.3 225.8 395.0 C227.0 393.7 228.9 393.6 230.0 392.5 C231.1 391.4 231.7 390.6 232.5 388.3 C233.3 386.0 234.2 381.0 235.0 378.3 C235.8 375.6 236.7 372.1 237.5 371.7 C238.3 371.3 239.2 373.8 240.0 375.8 C240.8 377.8 241.4 383.5 242.5 384.2 C243.6 384.9 245.5 381.5 246.7 380.0 C247.9 378.5 248.9 377.4 250.0 375.0 C251.1 372.6 252.2 366.7 253.3 365.0 C254.4 363.3 255.8 362.8 256.7 364.2 C257.6 365.6 258.3 373.7 259.2 374.0 C260.1 374.3 261.6 367.7 262.5 366.0 C263.4 364.3 264.2 364.3 265.0 363.3 C265.8 362.3 266.4 362.1 267.5 360.0 C268.6 357.9 270.2 352.3 271.7 350.0 C273.2 347.7 275.1 346.1 276.7 345.8 C278.3 345.5 280.2 349.8 281.7 348.3 C283.2 346.8 284.6 338.8 285.8 336.7 C287.0 334.6 287.9 334.3 289.2 335.0 C290.5 335.7 292.6 342.7 294.2 340.8 C295.8 338.9 297.7 326.2 299.2 323.3 C300.7 320.4 302.0 322.2 303.3 322.5 C304.6 322.8 306.0 325.5 307.5 325.0 C309.0 324.5 310.6 319.7 312.5 319.2 C314.4 318.7 317.6 322.0 319.2 321.7 C320.8 321.4 321.4 317.9 322.5 317.5 C323.6 317.1 324.6 320.0 325.8 319.2 C327.0 318.4 328.8 315.2 330.0 312.5 C331.2 309.8 332.1 304.6 333.3 302.5 C334.5 300.4 336.2 299.9 337.5 299.2 C338.8 298.5 340.4 298.4 341.7 298.3 C343.0 298.2 344.3 298.8 345.8 298.3 C347.3 297.8 349.6 296.2 350.8 295.0 C352.0 293.8 352.2 292.8 353.3 290.8 C354.4 288.8 356.2 282.1 357.5 282.5 C358.8 282.9 360.5 291.4 361.7 293.3 C362.9 295.2 363.8 295.4 365.0 294.2 C366.2 293.0 368.0 286.2 369.2 285.8 C370.4 285.4 371.4 293.0 372.5 291.7 C373.6 290.4 374.7 279.9 375.8 277.5 C376.9 275.1 378.1 276.2 379.2 276.7 C380.3 277.2 381.4 281.2 382.5 280.8 C383.6 280.4 384.7 275.7 385.8 274.2 C386.9 272.7 388.1 272.0 389.2 271.7 C390.3 271.4 391.4 273.4 392.5 272.5 C393.6 271.6 395.1 264.6 395.8 265.8 C396.5 267.0 396.5 279.1 397.0 280.0 C397.5 280.9 398.3 274.0 399.2 271.7 C400.1 269.4 401.3 267.0 402.5 265.8 C403.7 264.6 405.4 263.7 406.7 264.2 C408.0 264.7 409.5 269.1 410.8 269.2 C412.1 269.3 413.7 266.2 415.0 265.0 C416.3 263.8 418.0 261.2 419.2 261.7 C420.4 262.2 421.4 267.1 422.5 268.3 C423.6 269.5 424.6 269.2 425.8 269.2 C427.0 269.2 428.7 267.5 430.0 268.3 C431.3 269.1 433.0 272.6 434.2 274.2 C435.4 275.8 436.3 277.9 437.5 278.3 C438.7 278.7 440.2 277.1 441.7 276.7 C443.2 276.3 445.2 275.7 446.7 275.8 C448.2 275.9 449.3 276.6 450.8 277.5 C452.3 278.4 454.5 282.6 455.8 281.7 C457.1 280.8 458.1 274.1 459.2 271.7 C460.3 269.3 461.4 267.0 462.5 266.7 C463.6 266.4 464.7 268.1 465.8 270.0 C466.9 271.9 468.3 276.3 469.2 278.3 C470.1 280.3 470.8 283.3 471.7 282.5 C472.6 281.7 473.9 274.9 475.0 273.3 C476.1 271.7 477.2 271.4 478.3 272.5 C479.4 273.6 480.6 279.2 481.7 280.0 C482.8 280.8 483.9 278.4 485.0 277.5 C486.1 276.6 487.2 274.2 488.3 274.2 C489.4 274.2 490.6 276.6 491.7 277.5 C492.8 278.4 494.1 280.1 495.0 280.0 C495.9 279.9 496.6 276.7 497.5 276.7 C498.4 276.7 499.6 280.1 500.8 280.0 C502.0 279.9 503.7 276.9 505.0 275.8 C506.3 274.7 507.9 272.9 509.2 273.3 C510.5 273.7 512.1 276.4 513.3 278.3 C514.5 280.2 515.5 284.3 516.7 285.0 C517.9 285.7 519.7 282.6 520.8 282.5 C521.9 282.4 522.4 283.3 523.3 284.2 C524.2 285.1 525.6 288.0 526.7 288.3 C527.8 288.6 528.7 287.0 530.0 285.8 C531.3 284.6 533.5 280.8 535.0 280.8 C536.5 280.8 538.0 284.9 539.2 285.8 C540.4 286.7 541.3 286.8 542.5 286.7 C543.7 286.6 545.2 285.7 546.7 285.0 C548.2 284.3 550.4 282.8 551.7 282.5 C553.0 282.2 553.8 283.3 555.0 283.3 C556.2 283.3 558.0 281.8 559.2 282.5 C560.4 283.2 561.6 286.3 562.5 287.5 C563.4 288.7 563.9 290.3 565.0 290.0 C566.1 289.7 567.9 286.6 569.2 285.8 C570.5 285.0 572.1 284.6 573.3 285.0 C574.5 285.4 575.6 287.4 576.7 288.3 C577.8 289.2 579.1 291.6 580.0 290.8 C580.9 290.0 581.6 283.4 582.5 283.3 C583.4 283.2 584.9 288.4 585.8 290.0 C586.7 291.6 587.2 293.8 588.3 293.3 C589.4 292.8 591.2 287.9 592.5 286.7 C593.8 285.5 595.5 284.9 596.7 285.8 C597.9 286.7 598.8 291.4 600.0 292.5 C601.2 293.6 603.0 292.8 604.2 292.5 C605.4 292.2 606.6 292.5 607.5 290.8 C608.4 289.1 609.2 283.2 610.0 281.7 C610.8 280.2 611.6 280.5 612.5 281.7 C613.4 282.9 614.7 287.7 615.8 289.2 C616.9 290.7 618.0 290.8 619.2 290.8 C620.4 290.8 622.1 289.7 623.3 289.2 C624.5 288.7 625.6 287.1 626.7 287.5 C627.8 287.9 628.9 291.4 630.0 291.7 C631.1 292.0 632.1 288.8 633.3 289.2 C634.5 289.6 636.3 293.4 637.5 294.2 C638.7 295.0 639.7 295.0 640.8 294.2 C641.9 293.4 643.1 290.1 644.2 289.2 C645.3 288.3 646.6 286.8 647.5 288.3 C648.4 289.8 649.1 297.2 650.0 298.3 C650.9 299.4 652.2 295.9 653.3 295.0 C654.4 294.1 655.6 292.1 656.7 292.5 C657.8 292.9 658.9 296.2 660.0 297.5 C661.1 298.8 662.2 301.1 663.3 300.8 C664.4 300.5 665.5 297.0 666.7 295.8 C667.9 294.6 669.6 292.9 670.8 293.3 C672.0 293.7 673.1 297.2 674.2 298.3 C675.3 299.4 676.4 300.1 677.5 300.0 C678.6 299.9 679.7 298.0 680.8 297.5 C681.9 297.0 683.1 296.4 684.2 296.7 C685.3 297.0 686.3 298.0 687.5 299.2 C688.7 300.4 690.5 304.1 691.7 304.2 C692.9 304.3 693.9 301.5 695.0 300.0 C696.1 298.5 697.2 295.7 698.3 295.0 C699.4 294.3 700.5 295.9 701.7 295.8 C702.9 295.7 704.6 293.7 705.8 294.2 C707.0 294.7 708.1 297.7 709.2 299.2 C710.3 300.7 711.3 302.9 712.5 303.3 C713.7 303.7 715.4 301.8 716.7 301.7 C718.0 301.6 719.6 302.6 720.8 302.5 C722.0 302.4 723.0 300.9 724.2 300.8 C725.4 300.7 727.1 301.2 728.3 301.7 C729.5 302.2 730.6 304.3 731.7 304.2 C732.8 304.1 733.9 301.1 735.0 300.8 C736.1 300.5 737.2 302.0 738.3 302.5 C739.4 303.0 740.5 304.5 741.7 304.2 C742.9 303.9 744.6 301.1 745.8 300.8 C747.0 300.5 748.1 302.8 749.2 302.5 C750.3 302.2 751.4 298.9 752.5 299.2 C753.6 299.5 754.7 302.9 755.8 304.2 C756.9 305.5 758.3 308.2 759.2 307.5 C760.1 306.8 760.8 301.6 761.7 300.0 C762.6 298.4 764.0 297.8 765.0 297.5 C766.0 297.2 767.5 298.2 768.0 298.3" fill="none" stroke="#3232d4" stroke-width="1.6" stroke-linejoin="round" stroke-dasharray="2.6 0.25" style="mix-blend-mode:multiply"/>
<path d="M120.5 495.0 C120.9 495.4 122.2 498.1 123.0 497.5 C123.8 496.9 124.7 491.6 125.5 491.0 C126.3 490.4 127.1 494.3 128.0 493.5 C128.9 492.7 130.1 487.4 131.0 486.0 C131.9 484.6 132.7 486.8 133.5 485.0 C134.3 483.2 135.1 475.3 136.0 474.5 C136.9 473.7 138.0 479.4 139.0 480.0 C140.0 480.6 141.0 478.8 142.0 478.0 C143.0 477.2 144.0 475.3 145.0 475.0 C146.0 474.7 147.1 476.8 148.0 476.0 C148.9 475.2 149.7 471.2 150.5 470.0 C151.3 468.8 152.1 468.0 153.3 468.3 C154.5 468.6 156.7 472.0 158.3 471.7 C159.9 471.4 161.7 467.8 163.3 466.7 C164.9 465.6 166.7 465.5 168.3 465.0 C169.9 464.5 171.7 463.8 173.3 463.3 C174.9 462.8 176.7 462.5 178.3 461.7 C179.9 460.9 182.0 459.6 183.3 458.3 C184.6 457.0 185.6 453.7 186.7 453.3 C187.8 452.9 188.9 455.0 190.0 455.8 C191.1 456.6 192.0 458.8 193.3 458.3 C194.6 457.8 196.7 453.6 198.3 452.5 C199.9 451.4 202.0 452.8 203.3 451.7 C204.6 450.6 205.6 446.9 206.7 445.8 C207.8 444.7 208.9 445.8 210.0 445.0 C211.1 444.2 212.2 441.9 213.3 440.8 C214.4 439.7 215.6 438.3 216.7 438.3 C217.8 438.3 218.9 441.1 220.0 440.8 C221.1 440.5 222.0 437.6 223.3 436.7 C224.6 435.8 227.0 436.1 228.3 435.0 C229.6 433.9 230.4 432.1 231.7 430.0 C233.0 427.9 235.4 422.0 236.7 421.7 C238.0 421.4 238.7 427.9 240.0 428.3 C241.3 428.7 243.7 425.0 245.0 424.2 C246.3 423.4 247.0 424.0 248.3 423.3 C249.6 422.6 252.2 421.1 253.3 420.0 C254.4 418.9 254.2 416.7 255.0 416.7 C255.8 416.7 257.1 419.9 258.3 420.0 C259.5 420.1 261.2 417.0 262.5 417.5 C263.8 418.0 265.5 424.6 266.7 423.3 C267.9 422.0 269.1 411.7 270.0 409.2 C270.9 406.7 271.6 407.1 272.5 407.5 C273.4 407.9 274.6 410.6 275.8 411.7 C277.0 412.8 278.4 415.4 280.0 414.2 C281.6 413.0 284.2 405.5 285.8 404.2 C287.4 402.9 288.7 404.7 290.0 405.8 C291.3 406.9 292.9 411.2 294.2 410.8 C295.5 410.4 296.8 404.6 298.3 403.3 C299.8 402.0 301.8 404.5 303.3 402.5 C304.8 400.5 306.2 392.8 307.5 390.8 C308.8 388.8 310.4 389.9 311.7 390.0 C313.0 390.1 314.5 391.3 315.8 391.7 C317.1 392.1 318.7 392.0 320.0 392.5 C321.3 393.0 323.1 395.4 324.2 395.0 C325.3 394.6 325.6 391.3 326.7 390.0 C327.8 388.7 329.3 388.2 330.8 386.7 C332.3 385.2 334.3 381.9 335.8 380.8 C337.3 379.7 338.7 379.5 340.0 380.0 C341.3 380.5 342.9 384.1 344.2 384.2 C345.5 384.3 347.0 381.2 348.3 380.8 C349.6 380.4 351.3 383.3 352.5 381.7 C353.7 380.1 354.7 372.1 355.8 370.8 C356.9 369.5 358.1 372.1 359.2 373.3 C360.3 374.5 361.3 379.5 362.5 378.3 C363.7 377.1 365.5 367.3 366.7 365.8 C367.9 364.3 368.9 367.7 370.0 369.2 C371.1 370.7 372.1 375.3 373.3 375.0 C374.5 374.7 376.2 367.9 377.5 367.5 C378.8 367.1 380.5 373.2 381.7 372.5 C382.9 371.8 383.9 365.4 385.0 363.3 C386.1 361.2 387.1 359.6 388.3 359.2 C389.5 358.8 391.3 361.1 392.5 360.8 C393.7 360.5 394.9 356.8 395.8 357.5 C396.7 358.2 397.8 363.8 398.3 365.0 C398.8 366.2 398.5 366.2 399.2 365.0 C399.9 363.8 401.3 359.5 402.5 357.5 C403.7 355.5 405.4 353.8 406.7 352.5 C408.0 351.2 409.6 350.0 410.8 349.2 C412.0 348.4 413.0 347.1 414.2 347.5 C415.4 347.9 417.0 350.2 418.3 351.7 C419.6 353.2 421.3 355.2 422.5 356.7 C423.7 358.2 424.6 361.1 425.8 360.8 C427.0 360.5 428.7 355.3 430.0 355.0 C431.3 354.7 432.9 359.1 434.2 359.2 C435.5 359.3 437.0 356.3 438.3 355.8 C439.6 355.3 441.3 355.4 442.5 355.8 C443.7 356.2 444.7 358.3 445.8 358.3 C446.9 358.3 448.1 355.4 449.2 355.8 C450.3 356.2 451.3 360.9 452.5 360.8 C453.7 360.7 455.4 355.5 456.7 355.0 C458.0 354.5 459.6 357.5 460.8 357.5 C462.0 357.5 463.1 355.9 464.2 355.0 C465.3 354.1 466.4 351.4 467.5 351.7 C468.6 352.0 469.6 355.0 470.8 356.7 C472.0 358.4 473.8 363.4 475.0 362.5 C476.2 361.6 477.4 352.1 478.3 350.8 C479.2 349.5 479.7 352.1 480.8 354.2 C481.9 356.3 483.8 363.1 485.0 364.2 C486.2 365.3 487.2 361.6 488.3 360.8 C489.4 360.0 490.5 360.1 491.7 359.2 C492.9 358.3 494.5 355.0 495.8 355.0 C497.1 355.0 498.7 358.1 500.0 359.2 C501.3 360.3 503.0 361.6 504.2 361.7 C505.4 361.8 506.4 360.7 507.5 360.0 C508.6 359.3 509.6 357.1 510.8 357.5 C512.0 357.9 513.7 361.8 515.0 362.5 C516.3 363.2 518.0 362.1 519.2 361.7 C520.4 361.3 521.3 359.6 522.5 360.0 C523.7 360.4 525.5 364.1 526.7 364.2 C527.9 364.3 528.9 361.9 530.0 360.8 C531.1 359.7 532.1 357.5 533.3 357.5 C534.5 357.5 536.2 359.7 537.5 360.8 C538.8 361.9 540.5 364.5 541.7 364.2 C542.9 363.9 543.9 360.3 545.0 359.2 C546.1 358.1 547.1 356.3 548.3 357.5 C549.5 358.7 551.2 366.3 552.5 366.7 C553.8 367.1 555.4 361.7 556.7 360.0 C558.0 358.3 559.6 355.8 560.8 355.8 C562.0 355.8 563.1 358.7 564.2 360.0 C565.3 361.3 566.4 363.8 567.5 364.2 C568.6 364.6 569.7 361.4 570.8 362.5 C571.9 363.6 573.4 369.3 574.2 370.8 C575.0 372.3 575.1 373.0 575.8 371.7 C576.5 370.4 577.4 364.8 578.3 362.5 C579.2 360.2 580.5 357.2 581.7 357.5 C582.9 357.8 584.5 362.9 585.8 364.2 C587.1 365.5 588.7 364.6 590.0 365.8 C591.3 367.0 593.1 370.8 594.2 371.7 C595.3 372.6 595.8 373.3 596.7 371.7 C597.6 370.1 598.9 363.8 600.0 361.7 C601.1 359.6 602.2 357.9 603.3 358.3 C604.4 358.7 605.6 362.3 606.7 364.2 C607.8 366.1 608.8 370.0 610.0 370.0 C611.2 370.0 612.9 365.7 614.2 364.2 C615.5 362.7 617.0 361.5 618.3 360.8 C619.6 360.1 621.2 359.5 622.5 360.0 C623.8 360.5 625.5 363.1 626.7 364.2 C627.9 365.3 628.9 367.2 630.0 366.7 C631.1 366.2 632.2 361.1 633.3 360.8 C634.4 360.5 635.5 363.1 636.7 365.0 C637.9 366.9 639.6 372.9 640.8 372.5 C642.0 372.1 643.1 364.2 644.2 362.5 C645.3 360.8 646.6 361.3 647.5 361.7 C648.4 362.1 648.9 364.2 650.0 365.0 C651.1 365.8 652.9 366.7 654.2 366.7 C655.5 366.7 657.0 364.9 658.3 365.0 C659.6 365.1 661.2 366.0 662.5 367.5 C663.8 369.0 665.4 373.9 666.7 374.2 C668.0 374.5 669.5 369.9 670.8 369.2 C672.1 368.5 673.7 370.5 675.0 370.0 C676.3 369.5 677.7 367.4 679.2 365.8 C680.7 364.2 682.9 360.1 684.2 360.0 C685.5 359.9 686.3 362.9 687.5 365.0 C688.7 367.1 690.2 372.2 691.7 373.3 C693.2 374.4 695.2 372.6 696.7 371.7 C698.2 370.8 699.6 369.0 700.8 367.5 C702.0 366.0 703.1 362.8 704.2 362.5 C705.3 362.2 706.4 363.0 707.5 365.8 C708.6 368.6 709.6 378.8 710.8 380.0 C712.0 381.2 713.8 375.3 715.0 373.3 C716.2 371.3 717.2 368.8 718.3 367.5 C719.4 366.2 720.5 365.0 721.7 365.0 C722.9 365.0 724.5 365.8 725.8 367.5 C727.1 369.2 728.7 374.1 730.0 375.8 C731.3 377.5 733.1 379.1 734.2 378.3 C735.3 377.5 735.6 373.1 736.7 370.8 C737.8 368.5 739.5 364.9 740.8 364.2 C742.1 363.5 743.5 365.9 745.0 366.7 C746.5 367.5 748.5 368.5 750.0 369.2 C751.5 369.9 753.0 370.3 754.2 370.8 C755.4 371.3 756.4 373.3 757.5 372.5 C758.6 371.7 759.6 367.1 760.8 365.8 C762.0 364.5 763.8 364.2 765.0 364.2 C766.2 364.2 767.5 365.5 768.0 365.8" fill="none" stroke="#3232d4" stroke-width="3.0" stroke-opacity="0.15" stroke-linejoin="round" style="mix-blend-mode:multiply"/>
<path d="M120.5 495.0 C120.9 495.4 122.2 498.1 123.0 497.5 C123.8 496.9 124.7 491.6 125.5 491.0 C126.3 490.4 127.1 494.3 128.0 493.5 C128.9 492.7 130.1 487.4 131.0 486.0 C131.9 484.6 132.7 486.8 133.5 485.0 C134.3 483.2 135.1 475.3 136.0 474.5 C136.9 473.7 138.0 479.4 139.0 480.0 C140.0 480.6 141.0 478.8 142.0 478.0 C143.0 477.2 144.0 475.3 145.0 475.0 C146.0 474.7 147.1 476.8 148.0 476.0 C148.9 475.2 149.7 471.2 150.5 470.0 C151.3 468.8 152.1 468.0 153.3 468.3 C154.5 468.6 156.7 472.0 158.3 471.7 C159.9 471.4 161.7 467.8 163.3 466.7 C164.9 465.6 166.7 465.5 168.3 465.0 C169.9 464.5 171.7 463.8 173.3 463.3 C174.9 462.8 176.7 462.5 178.3 461.7 C179.9 460.9 182.0 459.6 183.3 458.3 C184.6 457.0 185.6 453.7 186.7 453.3 C187.8 452.9 188.9 455.0 190.0 455.8 C191.1 456.6 192.0 458.8 193.3 458.3 C194.6 457.8 196.7 453.6 198.3 452.5 C199.9 451.4 202.0 452.8 203.3 451.7 C204.6 450.6 205.6 446.9 206.7 445.8 C207.8 444.7 208.9 445.8 210.0 445.0 C211.1 444.2 212.2 441.9 213.3 440.8 C214.4 439.7 215.6 438.3 216.7 438.3 C217.8 438.3 218.9 441.1 220.0 440.8 C221.1 440.5 222.0 437.6 223.3 436.7 C224.6 435.8 227.0 436.1 228.3 435.0 C229.6 433.9 230.4 432.1 231.7 430.0 C233.0 427.9 235.4 422.0 236.7 421.7 C238.0 421.4 238.7 427.9 240.0 428.3 C241.3 428.7 243.7 425.0 245.0 424.2 C246.3 423.4 247.0 424.0 248.3 423.3 C249.6 422.6 252.2 421.1 253.3 420.0 C254.4 418.9 254.2 416.7 255.0 416.7 C255.8 416.7 257.1 419.9 258.3 420.0 C259.5 420.1 261.2 417.0 262.5 417.5 C263.8 418.0 265.5 424.6 266.7 423.3 C267.9 422.0 269.1 411.7 270.0 409.2 C270.9 406.7 271.6 407.1 272.5 407.5 C273.4 407.9 274.6 410.6 275.8 411.7 C277.0 412.8 278.4 415.4 280.0 414.2 C281.6 413.0 284.2 405.5 285.8 404.2 C287.4 402.9 288.7 404.7 290.0 405.8 C291.3 406.9 292.9 411.2 294.2 410.8 C295.5 410.4 296.8 404.6 298.3 403.3 C299.8 402.0 301.8 404.5 303.3 402.5 C304.8 400.5 306.2 392.8 307.5 390.8 C308.8 388.8 310.4 389.9 311.7 390.0 C313.0 390.1 314.5 391.3 315.8 391.7 C317.1 392.1 318.7 392.0 320.0 392.5 C321.3 393.0 323.1 395.4 324.2 395.0 C325.3 394.6 325.6 391.3 326.7 390.0 C327.8 388.7 329.3 388.2 330.8 386.7 C332.3 385.2 334.3 381.9 335.8 380.8 C337.3 379.7 338.7 379.5 340.0 380.0 C341.3 380.5 342.9 384.1 344.2 384.2 C345.5 384.3 347.0 381.2 348.3 380.8 C349.6 380.4 351.3 383.3 352.5 381.7 C353.7 380.1 354.7 372.1 355.8 370.8 C356.9 369.5 358.1 372.1 359.2 373.3 C360.3 374.5 361.3 379.5 362.5 378.3 C363.7 377.1 365.5 367.3 366.7 365.8 C367.9 364.3 368.9 367.7 370.0 369.2 C371.1 370.7 372.1 375.3 373.3 375.0 C374.5 374.7 376.2 367.9 377.5 367.5 C378.8 367.1 380.5 373.2 381.7 372.5 C382.9 371.8 383.9 365.4 385.0 363.3 C386.1 361.2 387.1 359.6 388.3 359.2 C389.5 358.8 391.3 361.1 392.5 360.8 C393.7 360.5 394.9 356.8 395.8 357.5 C396.7 358.2 397.8 363.8 398.3 365.0 C398.8 366.2 398.5 366.2 399.2 365.0 C399.9 363.8 401.3 359.5 402.5 357.5 C403.7 355.5 405.4 353.8 406.7 352.5 C408.0 351.2 409.6 350.0 410.8 349.2 C412.0 348.4 413.0 347.1 414.2 347.5 C415.4 347.9 417.0 350.2 418.3 351.7 C419.6 353.2 421.3 355.2 422.5 356.7 C423.7 358.2 424.6 361.1 425.8 360.8 C427.0 360.5 428.7 355.3 430.0 355.0 C431.3 354.7 432.9 359.1 434.2 359.2 C435.5 359.3 437.0 356.3 438.3 355.8 C439.6 355.3 441.3 355.4 442.5 355.8 C443.7 356.2 444.7 358.3 445.8 358.3 C446.9 358.3 448.1 355.4 449.2 355.8 C450.3 356.2 451.3 360.9 452.5 360.8 C453.7 360.7 455.4 355.5 456.7 355.0 C458.0 354.5 459.6 357.5 460.8 357.5 C462.0 357.5 463.1 355.9 464.2 355.0 C465.3 354.1 466.4 351.4 467.5 351.7 C468.6 352.0 469.6 355.0 470.8 356.7 C472.0 358.4 473.8 363.4 475.0 362.5 C476.2 361.6 477.4 352.1 478.3 350.8 C479.2 349.5 479.7 352.1 480.8 354.2 C481.9 356.3 483.8 363.1 485.0 364.2 C486.2 365.3 487.2 361.6 488.3 360.8 C489.4 360.0 490.5 360.1 491.7 359.2 C492.9 358.3 494.5 355.0 495.8 355.0 C497.1 355.0 498.7 358.1 500.0 359.2 C501.3 360.3 503.0 361.6 504.2 361.7 C505.4 361.8 506.4 360.7 507.5 360.0 C508.6 359.3 509.6 357.1 510.8 357.5 C512.0 357.9 513.7 361.8 515.0 362.5 C516.3 363.2 518.0 362.1 519.2 361.7 C520.4 361.3 521.3 359.6 522.5 360.0 C523.7 360.4 525.5 364.1 526.7 364.2 C527.9 364.3 528.9 361.9 530.0 360.8 C531.1 359.7 532.1 357.5 533.3 357.5 C534.5 357.5 536.2 359.7 537.5 360.8 C538.8 361.9 540.5 364.5 541.7 364.2 C542.9 363.9 543.9 360.3 545.0 359.2 C546.1 358.1 547.1 356.3 548.3 357.5 C549.5 358.7 551.2 366.3 552.5 366.7 C553.8 367.1 555.4 361.7 556.7 360.0 C558.0 358.3 559.6 355.8 560.8 355.8 C562.0 355.8 563.1 358.7 564.2 360.0 C565.3 361.3 566.4 363.8 567.5 364.2 C568.6 364.6 569.7 361.4 570.8 362.5 C571.9 363.6 573.4 369.3 574.2 370.8 C575.0 372.3 575.1 373.0 575.8 371.7 C576.5 370.4 577.4 364.8 578.3 362.5 C579.2 360.2 580.5 357.2 581.7 357.5 C582.9 357.8 584.5 362.9 585.8 364.2 C587.1 365.5 588.7 364.6 590.0 365.8 C591.3 367.0 593.1 370.8 594.2 371.7 C595.3 372.6 595.8 373.3 596.7 371.7 C597.6 370.1 598.9 363.8 600.0 361.7 C601.1 359.6 602.2 357.9 603.3 358.3 C604.4 358.7 605.6 362.3 606.7 364.2 C607.8 366.1 608.8 370.0 610.0 370.0 C611.2 370.0 612.9 365.7 614.2 364.2 C615.5 362.7 617.0 361.5 618.3 360.8 C619.6 360.1 621.2 359.5 622.5 360.0 C623.8 360.5 625.5 363.1 626.7 364.2 C627.9 365.3 628.9 367.2 630.0 366.7 C631.1 366.2 632.2 361.1 633.3 360.8 C634.4 360.5 635.5 363.1 636.7 365.0 C637.9 366.9 639.6 372.9 640.8 372.5 C642.0 372.1 643.1 364.2 644.2 362.5 C645.3 360.8 646.6 361.3 647.5 361.7 C648.4 362.1 648.9 364.2 650.0 365.0 C651.1 365.8 652.9 366.7 654.2 366.7 C655.5 366.7 657.0 364.9 658.3 365.0 C659.6 365.1 661.2 366.0 662.5 367.5 C663.8 369.0 665.4 373.9 666.7 374.2 C668.0 374.5 669.5 369.9 670.8 369.2 C672.1 368.5 673.7 370.5 675.0 370.0 C676.3 369.5 677.7 367.4 679.2 365.8 C680.7 364.2 682.9 360.1 684.2 360.0 C685.5 359.9 686.3 362.9 687.5 365.0 C688.7 367.1 690.2 372.2 691.7 373.3 C693.2 374.4 695.2 372.6 696.7 371.7 C698.2 370.8 699.6 369.0 700.8 367.5 C702.0 366.0 703.1 362.8 704.2 362.5 C705.3 362.2 706.4 363.0 707.5 365.8 C708.6 368.6 709.6 378.8 710.8 380.0 C712.0 381.2 713.8 375.3 715.0 373.3 C716.2 371.3 717.2 368.8 718.3 367.5 C719.4 366.2 720.5 365.0 721.7 365.0 C722.9 365.0 724.5 365.8 725.8 367.5 C727.1 369.2 728.7 374.1 730.0 375.8 C731.3 377.5 733.1 379.1 734.2 378.3 C735.3 377.5 735.6 373.1 736.7 370.8 C737.8 368.5 739.5 364.9 740.8 364.2 C742.1 363.5 743.5 365.9 745.0 366.7 C746.5 367.5 748.5 368.5 750.0 369.2 C751.5 369.9 753.0 370.3 754.2 370.8 C755.4 371.3 756.4 373.3 757.5 372.5 C758.6 371.7 759.6 367.1 760.8 365.8 C762.0 364.5 763.8 364.2 765.0 364.2 C766.2 364.2 767.5 365.5 768.0 365.8" fill="none" stroke="#3232d4" stroke-width="1.6" stroke-linejoin="round" stroke-dasharray="2.6 0.25" style="mix-blend-mode:multiply"/>
<path d="M120.5 496.0 C120.9 496.7 122.3 500.8 123.0 500.5 C123.7 500.2 124.2 494.6 125.0 494.0 C125.8 493.4 127.0 497.6 128.0 497.0 C129.0 496.4 130.0 490.6 131.0 490.0 C132.0 489.4 133.0 493.3 134.0 493.0 C135.0 492.7 136.0 488.3 137.0 488.0 C138.0 487.7 139.0 491.3 140.0 491.0 C141.0 490.7 142.0 486.3 143.0 486.0 C144.0 485.7 144.9 489.3 146.0 489.0 C147.1 488.7 148.7 485.3 150.0 484.0 C151.3 482.7 152.7 481.3 154.0 481.0 C155.3 480.7 156.7 480.9 158.0 482.0 C159.3 483.1 160.6 488.8 162.0 488.0 C163.4 487.2 165.1 477.5 166.7 476.7 C168.3 475.9 170.1 482.5 171.7 483.3 C173.3 484.1 175.1 481.4 176.7 481.7 C178.3 482.0 180.1 486.1 181.7 485.0 C183.3 483.9 185.4 475.8 186.7 475.0 C188.0 474.2 188.7 479.7 190.0 480.0 C191.3 480.3 193.4 477.5 195.0 476.7 C196.6 475.9 198.7 475.5 200.0 475.0 C201.3 474.5 202.0 473.0 203.3 473.3 C204.6 473.6 207.0 475.4 208.3 476.7 C209.6 478.0 210.6 483.3 211.7 481.7 C212.8 480.1 213.9 469.9 215.0 466.7 C216.1 463.5 217.2 461.2 218.3 461.7 C219.4 462.2 220.6 468.9 221.7 470.0 C222.8 471.1 223.9 469.1 225.0 468.3 C226.1 467.5 227.0 466.6 228.3 465.0 C229.6 463.4 232.0 459.2 233.3 458.3 C234.6 457.4 235.6 458.7 236.7 459.2 C237.8 459.7 238.9 462.0 240.0 461.7 C241.1 461.4 242.2 458.3 243.3 457.5 C244.4 456.7 245.6 456.0 246.7 456.7 C247.8 457.4 248.9 461.2 250.0 461.7 C251.1 462.2 252.2 459.5 253.3 460.0 C254.4 460.5 255.6 464.5 256.7 465.0 C257.8 465.5 258.7 464.9 260.0 463.3 C261.3 461.7 263.4 457.3 265.0 455.0 C266.6 452.7 268.4 448.4 270.0 449.2 C271.6 450.0 273.4 459.6 275.0 460.0 C276.6 460.4 278.4 453.3 280.0 451.7 C281.6 450.1 283.4 450.7 285.0 450.0 C286.6 449.3 288.4 447.2 290.0 447.5 C291.6 447.8 293.4 451.6 295.0 451.7 C296.6 451.8 298.5 447.9 300.0 448.3 C301.5 448.7 302.9 454.5 304.2 454.2 C305.5 453.9 306.8 448.4 308.3 446.7 C309.8 445.0 311.7 443.4 313.3 443.3 C314.9 443.2 316.7 445.3 318.3 445.8 C319.9 446.3 322.0 447.4 323.3 446.7 C324.6 446.0 325.4 442.9 326.7 441.7 C328.0 440.5 330.1 439.7 331.7 439.2 C333.3 438.7 335.1 438.0 336.7 438.3 C338.3 438.6 340.1 441.3 341.7 440.8 C343.3 440.3 345.1 435.4 346.7 435.0 C348.3 434.6 350.1 437.5 351.7 438.3 C353.3 439.1 355.1 439.9 356.7 440.0 C358.3 440.1 360.4 440.3 361.7 439.2 C363.0 438.1 363.9 434.0 365.0 433.3 C366.1 432.6 367.2 433.5 368.3 435.0 C369.4 436.5 370.6 443.7 371.7 442.5 C372.8 441.3 373.9 429.2 375.0 427.5 C376.1 425.8 377.2 430.0 378.3 431.7 C379.4 433.4 380.4 438.0 381.7 438.3 C383.0 438.6 385.4 434.9 386.7 433.3 C388.0 431.7 388.9 429.6 390.0 428.3 C391.1 427.0 392.4 425.0 393.3 425.0 C394.2 425.0 395.2 426.4 395.8 428.3 C396.4 430.2 396.5 436.7 397.0 436.7 C397.5 436.7 398.3 430.2 399.2 428.3 C400.1 426.4 401.3 427.1 402.5 425.0 C403.7 422.9 405.5 416.9 406.7 415.0 C407.9 413.1 408.7 412.9 410.0 413.3 C411.3 413.7 413.5 417.6 415.0 417.5 C416.5 417.4 417.9 411.8 419.2 412.5 C420.5 413.2 422.1 420.0 423.3 421.7 C424.5 423.4 425.5 424.0 426.7 423.3 C427.9 422.6 429.6 417.5 430.8 417.5 C432.0 417.5 432.7 422.0 434.2 423.3 C435.7 424.6 438.5 425.7 440.0 425.8 C441.5 425.9 442.2 425.5 443.3 424.2 C444.4 422.9 445.6 417.4 446.7 417.5 C447.8 417.6 448.8 422.9 450.0 425.0 C451.2 427.1 452.9 430.5 454.2 430.8 C455.5 431.1 457.1 428.8 458.3 426.7 C459.5 424.6 460.5 418.2 461.7 417.5 C462.9 416.8 464.5 421.8 465.8 422.5 C467.1 423.2 468.8 422.1 470.0 421.7 C471.2 421.3 472.2 420.1 473.3 420.0 C474.4 419.9 475.4 419.7 476.7 420.8 C478.0 421.9 480.1 426.6 481.7 426.7 C483.3 426.8 485.4 422.2 486.7 421.7 C488.0 421.2 488.8 422.1 490.0 423.3 C491.2 424.5 492.7 429.5 494.2 429.2 C495.7 428.9 497.6 422.2 499.2 421.7 C500.8 421.2 502.7 424.6 504.2 425.8 C505.7 427.0 506.8 429.7 508.3 429.2 C509.8 428.7 512.0 422.9 513.3 422.5 C514.6 422.1 515.6 425.1 516.7 426.7 C517.8 428.3 518.9 432.8 520.0 432.5 C521.1 432.2 522.1 424.5 523.3 425.0 C524.5 425.5 526.4 434.2 527.5 435.8 C528.6 437.4 529.1 436.7 530.0 435.0 C530.9 433.3 532.1 427.4 533.3 425.0 C534.5 422.6 536.2 419.7 537.5 420.0 C538.8 420.3 540.2 425.5 541.7 426.7 C543.2 427.9 545.1 427.2 546.7 427.5 C548.3 427.8 550.1 428.6 551.7 428.3 C553.3 428.0 555.2 426.9 556.7 425.8 C558.2 424.7 559.5 422.2 560.8 421.7 C562.1 421.2 563.7 422.6 565.0 422.5 C566.3 422.4 567.9 420.1 569.2 420.8 C570.5 421.5 572.2 425.4 573.3 426.7 C574.4 428.0 575.0 430.3 575.8 429.2 C576.6 428.1 577.4 420.8 578.3 420.0 C579.2 419.2 580.5 422.2 581.7 424.2 C582.9 426.2 584.5 432.1 585.8 432.5 C587.1 432.9 588.8 428.3 590.0 426.7 C591.2 425.1 592.1 422.5 593.3 422.5 C594.5 422.5 596.3 425.2 597.5 426.7 C598.7 428.2 599.7 432.1 600.8 431.7 C601.9 431.3 603.0 425.8 604.2 424.2 C605.4 422.6 607.0 421.8 608.3 421.7 C609.6 421.6 611.2 423.4 612.5 423.3 C613.8 423.2 615.4 420.8 616.7 420.8 C618.0 420.8 619.5 423.3 620.8 423.3 C622.1 423.3 623.8 420.3 625.0 420.8 C626.2 421.3 627.4 424.8 628.3 426.7 C629.2 428.6 629.7 433.3 630.8 432.5 C631.9 431.7 633.8 422.4 635.0 421.7 C636.2 421.0 637.4 426.6 638.3 428.3 C639.2 430.0 639.7 432.9 640.8 432.5 C641.9 432.1 643.8 426.2 645.0 425.8 C646.2 425.4 647.2 428.7 648.3 430.0 C649.4 431.3 650.4 434.2 651.7 434.2 C653.0 434.2 655.4 430.4 656.7 430.0 C658.0 429.6 658.7 432.1 660.0 431.7 C661.3 431.3 663.4 427.2 665.0 427.5 C666.6 427.8 668.4 432.9 670.0 433.3 C671.6 433.7 673.5 431.3 675.0 430.0 C676.5 428.7 677.9 426.5 679.2 425.0 C680.5 423.5 682.1 420.1 683.3 420.8 C684.5 421.5 685.5 426.5 686.7 429.2 C687.9 431.9 689.5 437.0 690.8 437.5 C692.1 438.0 693.7 433.7 695.0 432.5 C696.3 431.3 697.9 431.1 699.2 430.0 C700.5 428.9 702.0 426.1 703.3 425.8 C704.6 425.5 706.2 427.4 707.5 428.3 C708.8 429.2 710.4 431.4 711.7 431.7 C713.0 432.0 714.6 430.7 715.8 430.0 C717.0 429.3 718.0 426.8 719.2 427.5 C720.4 428.2 722.1 433.5 723.3 434.2 C724.5 434.9 725.6 431.6 726.7 431.7 C727.8 431.8 728.9 434.1 730.0 435.0 C731.1 435.9 732.2 437.9 733.3 437.5 C734.4 437.1 735.6 433.6 736.7 432.5 C737.8 431.4 738.9 431.5 740.0 430.8 C741.1 430.1 742.2 429.0 743.3 428.3 C744.4 427.6 745.4 426.3 746.7 426.7 C748.0 427.1 750.2 430.9 751.7 430.8 C753.2 430.7 754.5 426.2 755.8 425.8 C757.1 425.4 758.8 428.0 760.0 428.3 C761.2 428.6 762.0 428.2 763.3 427.5 C764.6 426.8 767.2 424.7 768.0 424.2" fill="none" stroke="#3232d4" stroke-width="3.0" stroke-opacity="0.15" stroke-linejoin="round" style="mix-blend-mode:multiply"/>
<path d="M120.5 496.0 C120.9 496.7 122.3 500.8 123.0 500.5 C123.7 500.2 124.2 494.6 125.0 494.0 C125.8 493.4 127.0 497.6 128.0 497.0 C129.0 496.4 130.0 490.6 131.0 490.0 C132.0 489.4 133.0 493.3 134.0 493.0 C135.0 492.7 136.0 488.3 137.0 488.0 C138.0 487.7 139.0 491.3 140.0 491.0 C141.0 490.7 142.0 486.3 143.0 486.0 C144.0 485.7 144.9 489.3 146.0 489.0 C147.1 488.7 148.7 485.3 150.0 484.0 C151.3 482.7 152.7 481.3 154.0 481.0 C155.3 480.7 156.7 480.9 158.0 482.0 C159.3 483.1 160.6 488.8 162.0 488.0 C163.4 487.2 165.1 477.5 166.7 476.7 C168.3 475.9 170.1 482.5 171.7 483.3 C173.3 484.1 175.1 481.4 176.7 481.7 C178.3 482.0 180.1 486.1 181.7 485.0 C183.3 483.9 185.4 475.8 186.7 475.0 C188.0 474.2 188.7 479.7 190.0 480.0 C191.3 480.3 193.4 477.5 195.0 476.7 C196.6 475.9 198.7 475.5 200.0 475.0 C201.3 474.5 202.0 473.0 203.3 473.3 C204.6 473.6 207.0 475.4 208.3 476.7 C209.6 478.0 210.6 483.3 211.7 481.7 C212.8 480.1 213.9 469.9 215.0 466.7 C216.1 463.5 217.2 461.2 218.3 461.7 C219.4 462.2 220.6 468.9 221.7 470.0 C222.8 471.1 223.9 469.1 225.0 468.3 C226.1 467.5 227.0 466.6 228.3 465.0 C229.6 463.4 232.0 459.2 233.3 458.3 C234.6 457.4 235.6 458.7 236.7 459.2 C237.8 459.7 238.9 462.0 240.0 461.7 C241.1 461.4 242.2 458.3 243.3 457.5 C244.4 456.7 245.6 456.0 246.7 456.7 C247.8 457.4 248.9 461.2 250.0 461.7 C251.1 462.2 252.2 459.5 253.3 460.0 C254.4 460.5 255.6 464.5 256.7 465.0 C257.8 465.5 258.7 464.9 260.0 463.3 C261.3 461.7 263.4 457.3 265.0 455.0 C266.6 452.7 268.4 448.4 270.0 449.2 C271.6 450.0 273.4 459.6 275.0 460.0 C276.6 460.4 278.4 453.3 280.0 451.7 C281.6 450.1 283.4 450.7 285.0 450.0 C286.6 449.3 288.4 447.2 290.0 447.5 C291.6 447.8 293.4 451.6 295.0 451.7 C296.6 451.8 298.5 447.9 300.0 448.3 C301.5 448.7 302.9 454.5 304.2 454.2 C305.5 453.9 306.8 448.4 308.3 446.7 C309.8 445.0 311.7 443.4 313.3 443.3 C314.9 443.2 316.7 445.3 318.3 445.8 C319.9 446.3 322.0 447.4 323.3 446.7 C324.6 446.0 325.4 442.9 326.7 441.7 C328.0 440.5 330.1 439.7 331.7 439.2 C333.3 438.7 335.1 438.0 336.7 438.3 C338.3 438.6 340.1 441.3 341.7 440.8 C343.3 440.3 345.1 435.4 346.7 435.0 C348.3 434.6 350.1 437.5 351.7 438.3 C353.3 439.1 355.1 439.9 356.7 440.0 C358.3 440.1 360.4 440.3 361.7 439.2 C363.0 438.1 363.9 434.0 365.0 433.3 C366.1 432.6 367.2 433.5 368.3 435.0 C369.4 436.5 370.6 443.7 371.7 442.5 C372.8 441.3 373.9 429.2 375.0 427.5 C376.1 425.8 377.2 430.0 378.3 431.7 C379.4 433.4 380.4 438.0 381.7 438.3 C383.0 438.6 385.4 434.9 386.7 433.3 C388.0 431.7 388.9 429.6 390.0 428.3 C391.1 427.0 392.4 425.0 393.3 425.0 C394.2 425.0 395.2 426.4 395.8 428.3 C396.4 430.2 396.5 436.7 397.0 436.7 C397.5 436.7 398.3 430.2 399.2 428.3 C400.1 426.4 401.3 427.1 402.5 425.0 C403.7 422.9 405.5 416.9 406.7 415.0 C407.9 413.1 408.7 412.9 410.0 413.3 C411.3 413.7 413.5 417.6 415.0 417.5 C416.5 417.4 417.9 411.8 419.2 412.5 C420.5 413.2 422.1 420.0 423.3 421.7 C424.5 423.4 425.5 424.0 426.7 423.3 C427.9 422.6 429.6 417.5 430.8 417.5 C432.0 417.5 432.7 422.0 434.2 423.3 C435.7 424.6 438.5 425.7 440.0 425.8 C441.5 425.9 442.2 425.5 443.3 424.2 C444.4 422.9 445.6 417.4 446.7 417.5 C447.8 417.6 448.8 422.9 450.0 425.0 C451.2 427.1 452.9 430.5 454.2 430.8 C455.5 431.1 457.1 428.8 458.3 426.7 C459.5 424.6 460.5 418.2 461.7 417.5 C462.9 416.8 464.5 421.8 465.8 422.5 C467.1 423.2 468.8 422.1 470.0 421.7 C471.2 421.3 472.2 420.1 473.3 420.0 C474.4 419.9 475.4 419.7 476.7 420.8 C478.0 421.9 480.1 426.6 481.7 426.7 C483.3 426.8 485.4 422.2 486.7 421.7 C488.0 421.2 488.8 422.1 490.0 423.3 C491.2 424.5 492.7 429.5 494.2 429.2 C495.7 428.9 497.6 422.2 499.2 421.7 C500.8 421.2 502.7 424.6 504.2 425.8 C505.7 427.0 506.8 429.7 508.3 429.2 C509.8 428.7 512.0 422.9 513.3 422.5 C514.6 422.1 515.6 425.1 516.7 426.7 C517.8 428.3 518.9 432.8 520.0 432.5 C521.1 432.2 522.1 424.5 523.3 425.0 C524.5 425.5 526.4 434.2 527.5 435.8 C528.6 437.4 529.1 436.7 530.0 435.0 C530.9 433.3 532.1 427.4 533.3 425.0 C534.5 422.6 536.2 419.7 537.5 420.0 C538.8 420.3 540.2 425.5 541.7 426.7 C543.2 427.9 545.1 427.2 546.7 427.5 C548.3 427.8 550.1 428.6 551.7 428.3 C553.3 428.0 555.2 426.9 556.7 425.8 C558.2 424.7 559.5 422.2 560.8 421.7 C562.1 421.2 563.7 422.6 565.0 422.5 C566.3 422.4 567.9 420.1 569.2 420.8 C570.5 421.5 572.2 425.4 573.3 426.7 C574.4 428.0 575.0 430.3 575.8 429.2 C576.6 428.1 577.4 420.8 578.3 420.0 C579.2 419.2 580.5 422.2 581.7 424.2 C582.9 426.2 584.5 432.1 585.8 432.5 C587.1 432.9 588.8 428.3 590.0 426.7 C591.2 425.1 592.1 422.5 593.3 422.5 C594.5 422.5 596.3 425.2 597.5 426.7 C598.7 428.2 599.7 432.1 600.8 431.7 C601.9 431.3 603.0 425.8 604.2 424.2 C605.4 422.6 607.0 421.8 608.3 421.7 C609.6 421.6 611.2 423.4 612.5 423.3 C613.8 423.2 615.4 420.8 616.7 420.8 C618.0 420.8 619.5 423.3 620.8 423.3 C622.1 423.3 623.8 420.3 625.0 420.8 C626.2 421.3 627.4 424.8 628.3 426.7 C629.2 428.6 629.7 433.3 630.8 432.5 C631.9 431.7 633.8 422.4 635.0 421.7 C636.2 421.0 637.4 426.6 638.3 428.3 C639.2 430.0 639.7 432.9 640.8 432.5 C641.9 432.1 643.8 426.2 645.0 425.8 C646.2 425.4 647.2 428.7 648.3 430.0 C649.4 431.3 650.4 434.2 651.7 434.2 C653.0 434.2 655.4 430.4 656.7 430.0 C658.0 429.6 658.7 432.1 660.0 431.7 C661.3 431.3 663.4 427.2 665.0 427.5 C666.6 427.8 668.4 432.9 670.0 433.3 C671.6 433.7 673.5 431.3 675.0 430.0 C676.5 428.7 677.9 426.5 679.2 425.0 C680.5 423.5 682.1 420.1 683.3 420.8 C684.5 421.5 685.5 426.5 686.7 429.2 C687.9 431.9 689.5 437.0 690.8 437.5 C692.1 438.0 693.7 433.7 695.0 432.5 C696.3 431.3 697.9 431.1 699.2 430.0 C700.5 428.9 702.0 426.1 703.3 425.8 C704.6 425.5 706.2 427.4 707.5 428.3 C708.8 429.2 710.4 431.4 711.7 431.7 C713.0 432.0 714.6 430.7 715.8 430.0 C717.0 429.3 718.0 426.8 719.2 427.5 C720.4 428.2 722.1 433.5 723.3 434.2 C724.5 434.9 725.6 431.6 726.7 431.7 C727.8 431.8 728.9 434.1 730.0 435.0 C731.1 435.9 732.2 437.9 733.3 437.5 C734.4 437.1 735.6 433.6 736.7 432.5 C737.8 431.4 738.9 431.5 740.0 430.8 C741.1 430.1 742.2 429.0 743.3 428.3 C744.4 427.6 745.4 426.3 746.7 426.7 C748.0 427.1 750.2 430.9 751.7 430.8 C753.2 430.7 754.5 426.2 755.8 425.8 C757.1 425.4 758.8 428.0 760.0 428.3 C761.2 428.6 762.0 428.2 763.3 427.5 C764.6 426.8 767.2 424.7 768.0 424.2" fill="none" stroke="#3232d4" stroke-width="1.6" stroke-linejoin="round" stroke-dasharray="2.6 0.25" style="mix-blend-mode:multiply"/>
<path d="M120.5 495.0 C120.9 495.6 122.1 499.0 123.0 499.0 C123.9 499.0 125.0 494.8 126.0 495.0 C127.0 495.2 128.0 500.3 129.0 500.0 C130.0 499.7 131.0 493.6 132.0 493.0 C133.0 492.4 134.0 496.5 135.0 496.0 C136.0 495.5 137.0 490.3 138.0 490.0 C139.0 489.7 139.9 494.3 141.0 494.0 C142.1 493.7 143.9 488.3 145.0 488.0 C146.1 487.7 146.9 492.2 148.0 492.0 C149.1 491.8 150.9 487.2 152.0 487.0 C153.1 486.8 153.9 491.3 155.0 491.0 C156.1 490.7 157.7 485.2 159.0 485.0 C160.3 484.8 161.9 488.6 163.0 490.0 C164.1 491.4 164.9 494.5 166.0 494.0 C167.1 493.5 168.7 487.8 170.0 487.0 C171.3 486.2 172.7 489.5 174.0 489.0 C175.3 488.5 176.7 483.8 178.0 484.0 C179.3 484.2 180.6 490.1 182.0 490.0 C183.4 489.9 185.4 483.7 186.7 483.5 C188.0 483.3 189.0 489.2 190.0 489.0 C191.0 488.8 191.9 482.5 193.0 482.0 C194.1 481.5 195.9 484.7 197.0 486.0 C198.1 487.3 198.9 490.5 200.0 490.0 C201.1 489.5 202.7 483.8 204.0 483.0 C205.3 482.2 206.6 483.6 208.0 485.0 C209.4 486.4 211.8 492.2 213.0 492.0 C214.2 491.8 214.7 485.9 215.5 484.0 C216.3 482.1 217.1 481.2 218.3 480.0 C219.5 478.8 221.7 477.8 223.3 476.7 C224.9 475.6 227.0 473.0 228.3 473.3 C229.6 473.6 230.6 476.7 231.7 478.3 C232.8 479.9 233.9 483.6 235.0 483.3 C236.1 483.0 237.2 477.5 238.3 476.7 C239.4 475.9 240.4 478.6 241.7 478.3 C243.0 478.0 245.1 476.3 246.7 475.0 C248.3 473.7 250.4 469.7 251.7 470.0 C253.0 470.3 253.9 474.8 255.0 476.7 C256.1 478.6 257.5 481.7 258.3 481.7 C259.1 481.7 258.9 478.0 260.0 476.7 C261.1 475.4 263.4 474.9 265.0 473.3 C266.6 471.7 268.7 468.0 270.0 466.7 C271.3 465.4 272.0 464.2 273.3 465.0 C274.6 465.8 276.7 470.4 278.3 471.7 C279.9 473.0 281.8 474.9 283.3 473.3 C284.8 471.7 286.3 462.5 287.5 461.7 C288.7 460.9 289.7 466.2 290.8 468.3 C291.9 470.4 293.0 474.7 294.2 475.0 C295.4 475.3 296.8 471.2 298.3 470.0 C299.8 468.8 301.7 468.2 303.3 467.5 C304.9 466.8 306.7 465.9 308.3 465.8 C309.9 465.7 311.7 465.6 313.3 466.7 C314.9 467.8 316.7 472.5 318.3 472.5 C319.9 472.5 321.7 468.2 323.3 466.7 C324.9 465.2 326.7 464.4 328.3 463.3 C329.9 462.2 331.7 460.3 333.3 460.0 C334.9 459.7 336.7 461.2 338.3 461.7 C339.9 462.2 342.0 462.9 343.3 463.3 C344.6 463.7 345.4 465.0 346.7 464.2 C348.0 463.4 350.1 459.0 351.7 458.3 C353.3 457.6 355.4 460.1 356.7 460.0 C358.0 459.9 358.9 456.7 360.0 457.5 C361.1 458.3 362.0 464.6 363.3 465.0 C364.6 465.4 367.0 459.7 368.3 460.0 C369.6 460.3 370.6 466.8 371.7 466.7 C372.8 466.6 373.9 459.7 375.0 459.2 C376.1 458.7 377.2 463.2 378.3 463.3 C379.4 463.4 380.4 460.0 381.7 460.0 C383.0 460.0 385.4 463.4 386.7 463.3 C388.0 463.2 388.7 460.3 390.0 459.2 C391.3 458.1 394.0 455.8 395.0 456.7 C396.0 457.6 396.0 462.1 396.3 465.0 C396.6 467.9 396.7 475.5 397.0 475.0 C397.3 474.5 397.7 464.9 398.3 461.7 C398.9 458.5 399.7 456.6 400.8 455.0 C401.9 453.4 403.8 452.0 405.0 451.7 C406.2 451.4 407.2 453.6 408.3 453.3 C409.4 453.0 410.6 450.3 411.7 450.0 C412.8 449.7 413.8 451.8 415.0 451.7 C416.2 451.6 417.9 448.7 419.2 449.2 C420.5 449.7 422.2 453.9 423.3 455.0 C424.4 456.1 424.7 456.7 425.8 455.8 C426.9 454.9 428.8 449.5 430.0 449.2 C431.2 448.9 432.1 452.5 433.3 454.2 C434.5 455.9 436.2 460.1 437.5 460.0 C438.8 459.9 440.2 454.5 441.7 453.3 C443.2 452.1 445.4 453.0 446.7 452.5 C448.0 452.0 448.7 449.9 450.0 450.0 C451.3 450.1 453.4 452.2 455.0 453.3 C456.6 454.4 458.4 456.6 460.0 456.7 C461.6 456.8 463.5 455.0 465.0 454.2 C466.5 453.4 467.9 451.3 469.2 451.7 C470.5 452.1 472.1 455.6 473.3 456.7 C474.5 457.8 475.6 458.4 476.7 458.3 C477.8 458.2 478.9 455.9 480.0 455.8 C481.1 455.7 482.0 458.2 483.3 457.5 C484.6 456.8 487.0 452.8 488.3 451.7 C489.6 450.6 490.4 450.4 491.7 450.8 C493.0 451.2 495.1 453.8 496.7 454.2 C498.3 454.6 500.1 453.2 501.7 453.3 C503.3 453.4 505.2 455.7 506.7 455.0 C508.2 454.3 509.6 448.9 510.8 449.2 C512.0 449.5 513.1 454.3 514.2 456.7 C515.3 459.1 516.4 464.7 517.5 464.2 C518.6 463.7 519.7 456.2 520.8 453.3 C521.9 450.4 523.0 444.7 524.2 445.8 C525.4 446.9 527.4 458.0 528.3 460.0 C529.2 462.0 529.1 459.6 530.0 458.3 C530.9 457.0 532.9 453.2 534.2 451.7 C535.5 450.2 537.0 448.8 538.3 449.2 C539.6 449.6 541.2 453.5 542.5 454.2 C543.8 454.9 545.2 452.4 546.7 453.3 C548.2 454.2 550.2 459.7 551.7 460.0 C553.2 460.3 554.6 456.6 555.8 455.0 C557.0 453.4 558.0 450.4 559.2 450.0 C560.4 449.6 562.0 451.8 563.3 452.5 C564.6 453.2 565.9 453.0 567.5 454.2 C569.1 455.4 571.6 460.1 573.3 460.0 C575.0 459.9 576.8 455.0 578.3 453.3 C579.8 451.6 581.2 448.5 582.5 449.2 C583.8 449.9 585.5 455.8 586.7 457.5 C587.9 459.2 588.7 460.4 590.0 460.0 C591.3 459.6 593.4 455.8 595.0 455.0 C596.6 454.2 598.4 454.9 600.0 455.0 C601.6 455.1 603.4 456.1 605.0 455.8 C606.6 455.5 608.7 454.1 610.0 453.3 C611.3 452.5 612.2 451.1 613.3 450.8 C614.4 450.5 615.5 450.6 616.7 451.7 C617.9 452.8 619.6 457.6 620.8 457.5 C622.0 457.4 623.1 451.3 624.2 450.8 C625.3 450.3 626.6 452.6 627.5 454.2 C628.4 455.8 628.9 461.1 630.0 460.8 C631.1 460.5 633.0 454.4 634.2 452.5 C635.4 450.6 636.4 448.8 637.5 449.2 C638.6 449.6 639.6 455.1 640.8 455.0 C642.0 454.9 643.8 449.0 645.0 448.3 C646.2 447.6 647.1 450.0 648.3 450.8 C649.5 451.6 651.2 452.6 652.5 453.3 C653.8 454.0 655.5 454.9 656.7 455.0 C657.9 455.1 658.8 453.8 660.0 454.2 C661.2 454.6 662.7 456.0 664.2 457.5 C665.7 459.0 667.7 462.6 669.2 463.3 C670.7 464.0 672.1 462.8 673.3 461.7 C674.5 460.6 675.5 457.9 676.7 456.7 C677.9 455.5 679.6 455.4 680.8 454.2 C682.0 453.0 683.1 448.9 684.2 449.2 C685.3 449.5 686.4 453.4 687.5 455.8 C688.6 458.2 689.7 463.9 690.8 464.2 C691.9 464.5 693.0 459.4 694.2 457.5 C695.4 455.6 696.7 453.7 698.3 452.5 C699.9 451.3 702.6 449.7 704.2 450.0 C705.8 450.3 707.0 453.3 708.3 454.2 C709.6 455.1 711.0 454.9 712.5 455.8 C714.0 456.7 716.0 459.7 717.5 460.0 C719.0 460.3 720.4 458.7 721.7 457.5 C723.0 456.3 724.5 452.9 725.8 452.5 C727.1 452.1 728.5 454.2 730.0 455.0 C731.5 455.8 733.4 458.2 735.0 457.5 C736.6 456.8 738.5 451.5 740.0 450.8 C741.5 450.1 742.9 452.8 744.2 453.3 C745.5 453.8 747.0 453.8 748.3 454.2 C749.6 454.6 751.3 456.5 752.5 455.8 C753.7 455.1 754.6 450.7 755.8 450.0 C757.0 449.3 758.8 451.6 760.0 451.7 C761.2 451.8 762.0 451.1 763.3 450.8 C764.6 450.5 767.2 450.1 768.0 450.0" fill="none" stroke="#3232d4" stroke-width="3.0" stroke-opacity="0.15" stroke-linejoin="round" style="mix-blend-mode:multiply"/>
<path d="M120.5 495.0 C120.9 495.6 122.1 499.0 123.0 499.0 C123.9 499.0 125.0 494.8 126.0 495.0 C127.0 495.2 128.0 500.3 129.0 500.0 C130.0 499.7 131.0 493.6 132.0 493.0 C133.0 492.4 134.0 496.5 135.0 496.0 C136.0 495.5 137.0 490.3 138.0 490.0 C139.0 489.7 139.9 494.3 141.0 494.0 C142.1 493.7 143.9 488.3 145.0 488.0 C146.1 487.7 146.9 492.2 148.0 492.0 C149.1 491.8 150.9 487.2 152.0 487.0 C153.1 486.8 153.9 491.3 155.0 491.0 C156.1 490.7 157.7 485.2 159.0 485.0 C160.3 484.8 161.9 488.6 163.0 490.0 C164.1 491.4 164.9 494.5 166.0 494.0 C167.1 493.5 168.7 487.8 170.0 487.0 C171.3 486.2 172.7 489.5 174.0 489.0 C175.3 488.5 176.7 483.8 178.0 484.0 C179.3 484.2 180.6 490.1 182.0 490.0 C183.4 489.9 185.4 483.7 186.7 483.5 C188.0 483.3 189.0 489.2 190.0 489.0 C191.0 488.8 191.9 482.5 193.0 482.0 C194.1 481.5 195.9 484.7 197.0 486.0 C198.1 487.3 198.9 490.5 200.0 490.0 C201.1 489.5 202.7 483.8 204.0 483.0 C205.3 482.2 206.6 483.6 208.0 485.0 C209.4 486.4 211.8 492.2 213.0 492.0 C214.2 491.8 214.7 485.9 215.5 484.0 C216.3 482.1 217.1 481.2 218.3 480.0 C219.5 478.8 221.7 477.8 223.3 476.7 C224.9 475.6 227.0 473.0 228.3 473.3 C229.6 473.6 230.6 476.7 231.7 478.3 C232.8 479.9 233.9 483.6 235.0 483.3 C236.1 483.0 237.2 477.5 238.3 476.7 C239.4 475.9 240.4 478.6 241.7 478.3 C243.0 478.0 245.1 476.3 246.7 475.0 C248.3 473.7 250.4 469.7 251.7 470.0 C253.0 470.3 253.9 474.8 255.0 476.7 C256.1 478.6 257.5 481.7 258.3 481.7 C259.1 481.7 258.9 478.0 260.0 476.7 C261.1 475.4 263.4 474.9 265.0 473.3 C266.6 471.7 268.7 468.0 270.0 466.7 C271.3 465.4 272.0 464.2 273.3 465.0 C274.6 465.8 276.7 470.4 278.3 471.7 C279.9 473.0 281.8 474.9 283.3 473.3 C284.8 471.7 286.3 462.5 287.5 461.7 C288.7 460.9 289.7 466.2 290.8 468.3 C291.9 470.4 293.0 474.7 294.2 475.0 C295.4 475.3 296.8 471.2 298.3 470.0 C299.8 468.8 301.7 468.2 303.3 467.5 C304.9 466.8 306.7 465.9 308.3 465.8 C309.9 465.7 311.7 465.6 313.3 466.7 C314.9 467.8 316.7 472.5 318.3 472.5 C319.9 472.5 321.7 468.2 323.3 466.7 C324.9 465.2 326.7 464.4 328.3 463.3 C329.9 462.2 331.7 460.3 333.3 460.0 C334.9 459.7 336.7 461.2 338.3 461.7 C339.9 462.2 342.0 462.9 343.3 463.3 C344.6 463.7 345.4 465.0 346.7 464.2 C348.0 463.4 350.1 459.0 351.7 458.3 C353.3 457.6 355.4 460.1 356.7 460.0 C358.0 459.9 358.9 456.7 360.0 457.5 C361.1 458.3 362.0 464.6 363.3 465.0 C364.6 465.4 367.0 459.7 368.3 460.0 C369.6 460.3 370.6 466.8 371.7 466.7 C372.8 466.6 373.9 459.7 375.0 459.2 C376.1 458.7 377.2 463.2 378.3 463.3 C379.4 463.4 380.4 460.0 381.7 460.0 C383.0 460.0 385.4 463.4 386.7 463.3 C388.0 463.2 388.7 460.3 390.0 459.2 C391.3 458.1 394.0 455.8 395.0 456.7 C396.0 457.6 396.0 462.1 396.3 465.0 C396.6 467.9 396.7 475.5 397.0 475.0 C397.3 474.5 397.7 464.9 398.3 461.7 C398.9 458.5 399.7 456.6 400.8 455.0 C401.9 453.4 403.8 452.0 405.0 451.7 C406.2 451.4 407.2 453.6 408.3 453.3 C409.4 453.0 410.6 450.3 411.7 450.0 C412.8 449.7 413.8 451.8 415.0 451.7 C416.2 451.6 417.9 448.7 419.2 449.2 C420.5 449.7 422.2 453.9 423.3 455.0 C424.4 456.1 424.7 456.7 425.8 455.8 C426.9 454.9 428.8 449.5 430.0 449.2 C431.2 448.9 432.1 452.5 433.3 454.2 C434.5 455.9 436.2 460.1 437.5 460.0 C438.8 459.9 440.2 454.5 441.7 453.3 C443.2 452.1 445.4 453.0 446.7 452.5 C448.0 452.0 448.7 449.9 450.0 450.0 C451.3 450.1 453.4 452.2 455.0 453.3 C456.6 454.4 458.4 456.6 460.0 456.7 C461.6 456.8 463.5 455.0 465.0 454.2 C466.5 453.4 467.9 451.3 469.2 451.7 C470.5 452.1 472.1 455.6 473.3 456.7 C474.5 457.8 475.6 458.4 476.7 458.3 C477.8 458.2 478.9 455.9 480.0 455.8 C481.1 455.7 482.0 458.2 483.3 457.5 C484.6 456.8 487.0 452.8 488.3 451.7 C489.6 450.6 490.4 450.4 491.7 450.8 C493.0 451.2 495.1 453.8 496.7 454.2 C498.3 454.6 500.1 453.2 501.7 453.3 C503.3 453.4 505.2 455.7 506.7 455.0 C508.2 454.3 509.6 448.9 510.8 449.2 C512.0 449.5 513.1 454.3 514.2 456.7 C515.3 459.1 516.4 464.7 517.5 464.2 C518.6 463.7 519.7 456.2 520.8 453.3 C521.9 450.4 523.0 444.7 524.2 445.8 C525.4 446.9 527.4 458.0 528.3 460.0 C529.2 462.0 529.1 459.6 530.0 458.3 C530.9 457.0 532.9 453.2 534.2 451.7 C535.5 450.2 537.0 448.8 538.3 449.2 C539.6 449.6 541.2 453.5 542.5 454.2 C543.8 454.9 545.2 452.4 546.7 453.3 C548.2 454.2 550.2 459.7 551.7 460.0 C553.2 460.3 554.6 456.6 555.8 455.0 C557.0 453.4 558.0 450.4 559.2 450.0 C560.4 449.6 562.0 451.8 563.3 452.5 C564.6 453.2 565.9 453.0 567.5 454.2 C569.1 455.4 571.6 460.1 573.3 460.0 C575.0 459.9 576.8 455.0 578.3 453.3 C579.8 451.6 581.2 448.5 582.5 449.2 C583.8 449.9 585.5 455.8 586.7 457.5 C587.9 459.2 588.7 460.4 590.0 460.0 C591.3 459.6 593.4 455.8 595.0 455.0 C596.6 454.2 598.4 454.9 600.0 455.0 C601.6 455.1 603.4 456.1 605.0 455.8 C606.6 455.5 608.7 454.1 610.0 453.3 C611.3 452.5 612.2 451.1 613.3 450.8 C614.4 450.5 615.5 450.6 616.7 451.7 C617.9 452.8 619.6 457.6 620.8 457.5 C622.0 457.4 623.1 451.3 624.2 450.8 C625.3 450.3 626.6 452.6 627.5 454.2 C628.4 455.8 628.9 461.1 630.0 460.8 C631.1 460.5 633.0 454.4 634.2 452.5 C635.4 450.6 636.4 448.8 637.5 449.2 C638.6 449.6 639.6 455.1 640.8 455.0 C642.0 454.9 643.8 449.0 645.0 448.3 C646.2 447.6 647.1 450.0 648.3 450.8 C649.5 451.6 651.2 452.6 652.5 453.3 C653.8 454.0 655.5 454.9 656.7 455.0 C657.9 455.1 658.8 453.8 660.0 454.2 C661.2 454.6 662.7 456.0 664.2 457.5 C665.7 459.0 667.7 462.6 669.2 463.3 C670.7 464.0 672.1 462.8 673.3 461.7 C674.5 460.6 675.5 457.9 676.7 456.7 C677.9 455.5 679.6 455.4 680.8 454.2 C682.0 453.0 683.1 448.9 684.2 449.2 C685.3 449.5 686.4 453.4 687.5 455.8 C688.6 458.2 689.7 463.9 690.8 464.2 C691.9 464.5 693.0 459.4 694.2 457.5 C695.4 455.6 696.7 453.7 698.3 452.5 C699.9 451.3 702.6 449.7 704.2 450.0 C705.8 450.3 707.0 453.3 708.3 454.2 C709.6 455.1 711.0 454.9 712.5 455.8 C714.0 456.7 716.0 459.7 717.5 460.0 C719.0 460.3 720.4 458.7 721.7 457.5 C723.0 456.3 724.5 452.9 725.8 452.5 C727.1 452.1 728.5 454.2 730.0 455.0 C731.5 455.8 733.4 458.2 735.0 457.5 C736.6 456.8 738.5 451.5 740.0 450.8 C741.5 450.1 742.9 452.8 744.2 453.3 C745.5 453.8 747.0 453.8 748.3 454.2 C749.6 454.6 751.3 456.5 752.5 455.8 C753.7 455.1 754.6 450.7 755.8 450.0 C757.0 449.3 758.8 451.6 760.0 451.7 C761.2 451.8 762.0 451.1 763.3 450.8 C764.6 450.5 767.2 450.1 768.0 450.0" fill="none" stroke="#3232d4" stroke-width="1.6" stroke-linejoin="round" stroke-dasharray="2.6 0.25" style="mix-blend-mode:multiply"/>
<path d="M120.5 497.0 C120.8 498.0 121.9 501.6 122.5 503.0 C123.1 504.4 123.4 506.2 124.0 505.5 C124.6 504.8 125.4 498.6 126.0 498.5 C126.6 498.4 127.4 504.6 128.0 504.7 C128.6 504.8 129.4 500.8 130.0 499.0 C130.6 497.2 130.9 493.7 131.7 493.3 C132.5 492.9 134.0 495.8 135.0 496.7 C136.0 497.6 137.0 497.5 138.0 499.0 C139.0 500.5 140.2 506.1 141.3 506.0 C142.4 505.9 143.9 500.9 145.0 498.3 C146.1 495.7 147.0 490.8 148.3 490.0 C149.6 489.2 151.7 493.3 153.3 493.3 C154.9 493.3 157.0 488.7 158.3 490.0 C159.6 491.3 160.4 501.2 161.7 501.7 C163.0 502.2 165.1 494.1 166.7 493.3 C168.3 492.5 169.8 495.1 171.7 496.7 C173.6 498.3 176.4 503.6 178.3 503.3 C180.2 503.0 181.7 496.6 183.3 495.0 C184.9 493.4 186.7 493.0 188.3 493.3 C189.9 493.6 191.7 495.6 193.3 496.7 C194.9 497.8 197.0 500.5 198.3 500.0 C199.6 499.5 200.6 495.2 201.7 493.3 C202.8 491.4 203.9 488.8 205.0 488.3 C206.1 487.8 207.0 488.7 208.3 490.0 C209.6 491.3 211.7 497.0 213.3 496.7 C214.9 496.4 216.7 489.1 218.3 488.3 C219.9 487.5 221.4 490.2 223.3 491.7 C225.2 493.2 228.1 498.6 230.0 497.5 C231.9 496.4 233.4 486.7 235.0 485.0 C236.6 483.3 238.4 486.2 240.0 486.7 C241.6 487.2 243.4 487.8 245.0 488.3 C246.6 488.8 248.7 491.3 250.0 490.0 C251.3 488.7 252.0 479.5 253.3 480.0 C254.6 480.5 257.2 491.4 258.3 493.3 C259.4 495.2 258.9 492.5 260.0 491.7 C261.1 490.9 263.4 489.2 265.0 488.3 C266.6 487.4 268.4 485.4 270.0 485.8 C271.6 486.2 273.4 490.4 275.0 490.8 C276.6 491.2 278.4 489.0 280.0 488.3 C281.6 487.6 283.7 488.0 285.0 486.7 C286.3 485.4 287.0 479.3 288.3 480.0 C289.6 480.7 291.7 490.9 293.3 490.8 C294.9 490.7 297.0 480.9 298.3 479.2 C299.6 477.5 300.6 479.6 301.7 480.0 C302.8 480.4 303.7 481.6 305.0 481.7 C306.3 481.8 308.7 479.5 310.0 480.8 C311.3 482.1 312.0 489.9 313.3 490.0 C314.6 490.1 316.7 482.0 318.3 481.7 C319.9 481.4 321.7 488.0 323.3 488.3 C324.9 488.6 326.7 484.4 328.3 483.3 C329.9 482.2 331.7 480.8 333.3 481.7 C334.9 482.6 336.7 488.9 338.3 489.2 C339.9 489.5 342.0 484.8 343.3 483.3 C344.6 481.8 345.4 479.7 346.7 480.0 C348.0 480.3 350.1 485.4 351.7 485.0 C353.3 484.6 355.4 478.0 356.7 477.5 C358.0 477.0 358.7 482.0 360.0 481.7 C361.3 481.4 363.4 476.2 365.0 475.8 C366.6 475.4 368.7 477.7 370.0 479.2 C371.3 480.7 372.2 484.9 373.3 485.0 C374.4 485.1 375.4 479.7 376.7 480.0 C378.0 480.3 380.1 487.2 381.7 486.7 C383.3 486.2 385.1 477.5 386.7 476.7 C388.3 475.9 390.2 480.5 391.7 481.7 C393.2 482.9 394.7 483.3 395.8 484.2 C396.9 485.1 397.4 486.8 398.3 487.5 C399.2 488.2 400.5 489.2 401.7 488.3 C402.9 487.4 404.7 483.6 405.8 481.7 C406.9 479.8 407.2 477.6 408.3 476.7 C409.4 475.8 411.2 476.3 412.5 475.8 C413.8 475.3 415.4 473.2 416.7 473.3 C418.0 473.4 419.5 475.4 420.8 476.7 C422.1 478.0 423.7 481.3 425.0 481.7 C426.3 482.1 427.9 480.0 429.2 479.2 C430.5 478.4 432.0 476.3 433.3 476.7 C434.6 477.1 436.2 481.2 437.5 481.7 C438.8 482.2 440.4 478.8 441.7 480.0 C443.0 481.2 444.5 489.2 445.8 489.2 C447.1 489.2 448.7 482.3 450.0 480.0 C451.3 477.7 452.9 474.7 454.2 475.0 C455.5 475.3 457.0 482.5 458.3 481.7 C459.6 480.9 461.2 471.6 462.5 470.0 C463.8 468.4 465.4 470.0 466.7 471.7 C468.0 473.4 469.6 480.3 470.8 480.8 C472.0 481.3 473.1 476.5 474.2 475.0 C475.3 473.5 476.3 471.2 477.5 471.7 C478.7 472.2 480.5 476.0 481.7 478.3 C482.9 480.6 483.8 485.4 485.0 485.8 C486.2 486.2 487.7 482.0 489.2 480.8 C490.7 479.6 492.7 478.6 494.2 478.3 C495.7 478.0 496.8 478.7 498.3 479.2 C499.8 479.7 502.0 481.0 503.3 481.7 C504.6 482.4 505.5 483.3 506.7 483.3 C507.9 483.3 509.5 482.1 510.8 481.7 C512.1 481.3 513.7 481.6 515.0 480.8 C516.3 480.0 517.9 477.9 519.2 476.7 C520.5 475.5 522.1 473.7 523.3 473.3 C524.5 472.9 525.6 472.9 526.7 474.2 C527.8 475.5 528.8 481.3 530.0 481.7 C531.2 482.1 532.9 477.8 534.2 476.7 C535.5 475.6 537.0 474.7 538.3 475.0 C539.6 475.3 541.2 478.2 542.5 478.3 C543.8 478.4 545.4 475.8 546.7 475.8 C548.0 475.8 549.5 477.8 550.8 478.3 C552.1 478.8 553.7 479.6 555.0 479.2 C556.3 478.8 557.9 475.5 559.2 475.8 C560.5 476.1 561.8 481.3 563.3 480.8 C564.8 480.3 567.0 473.2 568.3 472.5 C569.6 471.8 570.6 475.0 571.7 476.7 C572.8 478.4 573.8 482.9 575.0 483.3 C576.2 483.7 578.0 480.5 579.2 479.2 C580.4 477.9 581.3 474.7 582.5 475.0 C583.7 475.3 585.2 480.3 586.7 480.8 C588.2 481.3 590.2 478.2 591.7 478.3 C593.2 478.4 594.6 481.4 595.8 481.7 C597.0 482.0 598.0 481.6 599.2 480.0 C600.4 478.4 602.1 472.6 603.3 471.7 C604.5 470.8 605.6 472.2 606.7 474.2 C607.8 476.2 608.8 483.9 610.0 484.2 C611.2 484.5 613.0 477.5 614.2 475.8 C615.4 474.1 616.3 473.6 617.5 473.3 C618.7 473.0 620.5 474.3 621.7 474.2 C622.9 474.1 623.9 471.3 625.0 472.5 C626.1 473.7 627.5 479.7 628.3 481.7 C629.1 483.7 629.1 486.5 630.0 485.0 C630.9 483.5 632.9 473.6 634.2 472.5 C635.5 471.4 637.2 476.6 638.3 478.3 C639.4 480.0 639.7 484.1 640.8 483.3 C641.9 482.5 643.7 474.1 645.0 473.3 C646.3 472.5 648.0 477.0 649.2 478.3 C650.4 479.6 651.3 481.8 652.5 481.7 C653.7 481.6 655.5 477.2 656.7 477.5 C657.9 477.8 658.9 482.0 660.0 483.3 C661.1 484.6 662.1 486.2 663.3 485.8 C664.5 485.4 666.2 481.3 667.5 480.8 C668.8 480.3 670.4 482.6 671.7 482.5 C673.0 482.4 674.5 481.1 675.8 480.0 C677.1 478.9 678.7 476.9 680.0 475.8 C681.3 474.7 682.9 472.9 684.2 473.3 C685.5 473.7 687.1 476.0 688.3 478.3 C689.5 480.6 690.8 486.2 691.7 487.5 C692.6 488.8 693.3 488.4 694.2 486.7 C695.1 485.0 696.3 478.7 697.5 476.7 C698.7 474.7 700.5 474.7 701.7 474.2 C702.9 473.7 703.9 472.1 705.0 473.3 C706.1 474.5 707.4 479.8 708.3 481.7 C709.2 483.6 709.7 485.5 710.8 485.0 C711.9 484.5 713.8 479.9 715.0 478.3 C716.2 476.7 717.1 475.7 718.3 475.0 C719.5 474.3 721.2 473.4 722.5 474.2 C723.8 475.0 725.5 477.9 726.7 480.0 C727.9 482.1 728.9 487.2 730.0 487.5 C731.1 487.8 732.2 483.8 733.3 481.7 C734.4 479.6 735.5 474.1 736.7 474.2 C737.9 474.3 739.6 482.2 740.8 482.5 C742.0 482.8 743.3 477.8 744.2 475.8 C745.1 473.8 745.6 470.4 746.7 470.0 C747.8 469.6 749.5 472.6 750.8 473.3 C752.1 474.0 753.7 473.8 755.0 474.2 C756.3 474.6 758.0 475.9 759.2 475.8 C760.4 475.7 761.1 473.8 762.5 473.3 C763.9 472.8 767.1 472.6 768.0 472.5" fill="none" stroke="#3232d4" stroke-width="3.0" stroke-opacity="0.15" stroke-linejoin="round" style="mix-blend-mode:multiply"/>
<path d="M120.5 497.0 C120.8 498.0 121.9 501.6 122.5 503.0 C123.1 504.4 123.4 506.2 124.0 505.5 C124.6 504.8 125.4 498.6 126.0 498.5 C126.6 498.4 127.4 504.6 128.0 504.7 C128.6 504.8 129.4 500.8 130.0 499.0 C130.6 497.2 130.9 493.7 131.7 493.3 C132.5 492.9 134.0 495.8 135.0 496.7 C136.0 497.6 137.0 497.5 138.0 499.0 C139.0 500.5 140.2 506.1 141.3 506.0 C142.4 505.9 143.9 500.9 145.0 498.3 C146.1 495.7 147.0 490.8 148.3 490.0 C149.6 489.2 151.7 493.3 153.3 493.3 C154.9 493.3 157.0 488.7 158.3 490.0 C159.6 491.3 160.4 501.2 161.7 501.7 C163.0 502.2 165.1 494.1 166.7 493.3 C168.3 492.5 169.8 495.1 171.7 496.7 C173.6 498.3 176.4 503.6 178.3 503.3 C180.2 503.0 181.7 496.6 183.3 495.0 C184.9 493.4 186.7 493.0 188.3 493.3 C189.9 493.6 191.7 495.6 193.3 496.7 C194.9 497.8 197.0 500.5 198.3 500.0 C199.6 499.5 200.6 495.2 201.7 493.3 C202.8 491.4 203.9 488.8 205.0 488.3 C206.1 487.8 207.0 488.7 208.3 490.0 C209.6 491.3 211.7 497.0 213.3 496.7 C214.9 496.4 216.7 489.1 218.3 488.3 C219.9 487.5 221.4 490.2 223.3 491.7 C225.2 493.2 228.1 498.6 230.0 497.5 C231.9 496.4 233.4 486.7 235.0 485.0 C236.6 483.3 238.4 486.2 240.0 486.7 C241.6 487.2 243.4 487.8 245.0 488.3 C246.6 488.8 248.7 491.3 250.0 490.0 C251.3 488.7 252.0 479.5 253.3 480.0 C254.6 480.5 257.2 491.4 258.3 493.3 C259.4 495.2 258.9 492.5 260.0 491.7 C261.1 490.9 263.4 489.2 265.0 488.3 C266.6 487.4 268.4 485.4 270.0 485.8 C271.6 486.2 273.4 490.4 275.0 490.8 C276.6 491.2 278.4 489.0 280.0 488.3 C281.6 487.6 283.7 488.0 285.0 486.7 C286.3 485.4 287.0 479.3 288.3 480.0 C289.6 480.7 291.7 490.9 293.3 490.8 C294.9 490.7 297.0 480.9 298.3 479.2 C299.6 477.5 300.6 479.6 301.7 480.0 C302.8 480.4 303.7 481.6 305.0 481.7 C306.3 481.8 308.7 479.5 310.0 480.8 C311.3 482.1 312.0 489.9 313.3 490.0 C314.6 490.1 316.7 482.0 318.3 481.7 C319.9 481.4 321.7 488.0 323.3 488.3 C324.9 488.6 326.7 484.4 328.3 483.3 C329.9 482.2 331.7 480.8 333.3 481.7 C334.9 482.6 336.7 488.9 338.3 489.2 C339.9 489.5 342.0 484.8 343.3 483.3 C344.6 481.8 345.4 479.7 346.7 480.0 C348.0 480.3 350.1 485.4 351.7 485.0 C353.3 484.6 355.4 478.0 356.7 477.5 C358.0 477.0 358.7 482.0 360.0 481.7 C361.3 481.4 363.4 476.2 365.0 475.8 C366.6 475.4 368.7 477.7 370.0 479.2 C371.3 480.7 372.2 484.9 373.3 485.0 C374.4 485.1 375.4 479.7 376.7 480.0 C378.0 480.3 380.1 487.2 381.7 486.7 C383.3 486.2 385.1 477.5 386.7 476.7 C388.3 475.9 390.2 480.5 391.7 481.7 C393.2 482.9 394.7 483.3 395.8 484.2 C396.9 485.1 397.4 486.8 398.3 487.5 C399.2 488.2 400.5 489.2 401.7 488.3 C402.9 487.4 404.7 483.6 405.8 481.7 C406.9 479.8 407.2 477.6 408.3 476.7 C409.4 475.8 411.2 476.3 412.5 475.8 C413.8 475.3 415.4 473.2 416.7 473.3 C418.0 473.4 419.5 475.4 420.8 476.7 C422.1 478.0 423.7 481.3 425.0 481.7 C426.3 482.1 427.9 480.0 429.2 479.2 C430.5 478.4 432.0 476.3 433.3 476.7 C434.6 477.1 436.2 481.2 437.5 481.7 C438.8 482.2 440.4 478.8 441.7 480.0 C443.0 481.2 444.5 489.2 445.8 489.2 C447.1 489.2 448.7 482.3 450.0 480.0 C451.3 477.7 452.9 474.7 454.2 475.0 C455.5 475.3 457.0 482.5 458.3 481.7 C459.6 480.9 461.2 471.6 462.5 470.0 C463.8 468.4 465.4 470.0 466.7 471.7 C468.0 473.4 469.6 480.3 470.8 480.8 C472.0 481.3 473.1 476.5 474.2 475.0 C475.3 473.5 476.3 471.2 477.5 471.7 C478.7 472.2 480.5 476.0 481.7 478.3 C482.9 480.6 483.8 485.4 485.0 485.8 C486.2 486.2 487.7 482.0 489.2 480.8 C490.7 479.6 492.7 478.6 494.2 478.3 C495.7 478.0 496.8 478.7 498.3 479.2 C499.8 479.7 502.0 481.0 503.3 481.7 C504.6 482.4 505.5 483.3 506.7 483.3 C507.9 483.3 509.5 482.1 510.8 481.7 C512.1 481.3 513.7 481.6 515.0 480.8 C516.3 480.0 517.9 477.9 519.2 476.7 C520.5 475.5 522.1 473.7 523.3 473.3 C524.5 472.9 525.6 472.9 526.7 474.2 C527.8 475.5 528.8 481.3 530.0 481.7 C531.2 482.1 532.9 477.8 534.2 476.7 C535.5 475.6 537.0 474.7 538.3 475.0 C539.6 475.3 541.2 478.2 542.5 478.3 C543.8 478.4 545.4 475.8 546.7 475.8 C548.0 475.8 549.5 477.8 550.8 478.3 C552.1 478.8 553.7 479.6 555.0 479.2 C556.3 478.8 557.9 475.5 559.2 475.8 C560.5 476.1 561.8 481.3 563.3 480.8 C564.8 480.3 567.0 473.2 568.3 472.5 C569.6 471.8 570.6 475.0 571.7 476.7 C572.8 478.4 573.8 482.9 575.0 483.3 C576.2 483.7 578.0 480.5 579.2 479.2 C580.4 477.9 581.3 474.7 582.5 475.0 C583.7 475.3 585.2 480.3 586.7 480.8 C588.2 481.3 590.2 478.2 591.7 478.3 C593.2 478.4 594.6 481.4 595.8 481.7 C597.0 482.0 598.0 481.6 599.2 480.0 C600.4 478.4 602.1 472.6 603.3 471.7 C604.5 470.8 605.6 472.2 606.7 474.2 C607.8 476.2 608.8 483.9 610.0 484.2 C611.2 484.5 613.0 477.5 614.2 475.8 C615.4 474.1 616.3 473.6 617.5 473.3 C618.7 473.0 620.5 474.3 621.7 474.2 C622.9 474.1 623.9 471.3 625.0 472.5 C626.1 473.7 627.5 479.7 628.3 481.7 C629.1 483.7 629.1 486.5 630.0 485.0 C630.9 483.5 632.9 473.6 634.2 472.5 C635.5 471.4 637.2 476.6 638.3 478.3 C639.4 480.0 639.7 484.1 640.8 483.3 C641.9 482.5 643.7 474.1 645.0 473.3 C646.3 472.5 648.0 477.0 649.2 478.3 C650.4 479.6 651.3 481.8 652.5 481.7 C653.7 481.6 655.5 477.2 656.7 477.5 C657.9 477.8 658.9 482.0 660.0 483.3 C661.1 484.6 662.1 486.2 663.3 485.8 C664.5 485.4 666.2 481.3 667.5 480.8 C668.8 480.3 670.4 482.6 671.7 482.5 C673.0 482.4 674.5 481.1 675.8 480.0 C677.1 478.9 678.7 476.9 680.0 475.8 C681.3 474.7 682.9 472.9 684.2 473.3 C685.5 473.7 687.1 476.0 688.3 478.3 C689.5 480.6 690.8 486.2 691.7 487.5 C692.6 488.8 693.3 488.4 694.2 486.7 C695.1 485.0 696.3 478.7 697.5 476.7 C698.7 474.7 700.5 474.7 701.7 474.2 C702.9 473.7 703.9 472.1 705.0 473.3 C706.1 474.5 707.4 479.8 708.3 481.7 C709.2 483.6 709.7 485.5 710.8 485.0 C711.9 484.5 713.8 479.9 715.0 478.3 C716.2 476.7 717.1 475.7 718.3 475.0 C719.5 474.3 721.2 473.4 722.5 474.2 C723.8 475.0 725.5 477.9 726.7 480.0 C727.9 482.1 728.9 487.2 730.0 487.5 C731.1 487.8 732.2 483.8 733.3 481.7 C734.4 479.6 735.5 474.1 736.7 474.2 C737.9 474.3 739.6 482.2 740.8 482.5 C742.0 482.8 743.3 477.8 744.2 475.8 C745.1 473.8 745.6 470.4 746.7 470.0 C747.8 469.6 749.5 472.6 750.8 473.3 C752.1 474.0 753.7 473.8 755.0 474.2 C756.3 474.6 758.0 475.9 759.2 475.8 C760.4 475.7 761.1 473.8 762.5 473.3 C763.9 472.8 767.1 472.6 768.0 472.5" fill="none" stroke="#3232d4" stroke-width="1.6" stroke-linejoin="round" stroke-dasharray="2.6 0.25" style="mix-blend-mode:multiply"/>
</g>
<g stroke="#1c1c1c" stroke-width="1.4" fill="none">
<path d="M117.75 46.5 V510.7"/>
<path d="M117.1 510.0 H825.4"/>
<path d="M111.3 508.0 H117.8 M111.3 502.2 H117.8 M108.5 496.4 H117.8 M111.3 490.6 H117.8 M111.3 484.8 H117.8 M111.3 479.0 H117.8 M111.3 473.2 H117.8 M108.5 467.4 H117.8 M111.3 461.6 H117.8 M111.3 455.7 H117.8 M111.3 449.9 H117.8 M111.3 444.1 H117.8 M108.5 438.3 H117.8 M111.3 432.5 H117.8 M111.3 426.7 H117.8 M111.3 420.9 H117.8 M111.3 415.1 H117.8 M108.5 409.3 H117.8 M111.3 403.5 H117.8 M111.3 397.7 H117.8 M111.3 391.9 H117.8 M111.3 386.0 H117.8 M108.5 380.2 H117.8 M111.3 374.4 H117.8 M111.3 368.6 H117.8 M111.3 362.8 H117.8 M111.3 357.0 H117.8 M108.5 351.2 H117.8 M111.3 345.4 H117.8 M111.3 339.6 H117.8 M111.3 333.8 H117.8 M111.3 328.0 H117.8 M108.5 322.2 H117.8 M111.3 316.4 H117.8 M111.3 310.5 H117.8 M111.3 304.7 H117.8 M111.3 298.9 H117.8 M108.5 293.1 H117.8 M111.3 287.3 H117.8 M111.3 281.5 H117.8 M111.3 275.7 H117.8 M111.3 269.9 H117.8 M108.5 264.1 H117.8 M111.3 258.3 H117.8 M111.3 252.5 H117.8 M111.3 246.7 H117.8 M111.3 240.8 H117.8 M108.5 235.0 H117.8 M111.3 229.2 H117.8 M111.3 223.4 H117.8 M111.3 217.6 H117.8 M111.3 211.8 H117.8 M108.5 206.0 H117.8 M111.3 200.2 H117.8 M111.3 194.4 H117.8 M111.3 188.6 H117.8 M111.3 182.8 H117.8 M108.5 177.0 H117.8 M111.3 171.2 H117.8 M111.3 165.3 H117.8 M111.3 159.5 H117.8 M111.3 153.7 H117.8 M108.5 147.9 H117.8 M111.3 142.1 H117.8 M111.3 136.3 H117.8 M111.3 130.5 H117.8 M111.3 124.7 H117.8 M108.5 118.9 H117.8 M111.3 113.1 H117.8 M111.3 107.3 H117.8 M111.3 101.5 H117.8 M111.3 95.6 H117.8 M108.5 89.8 H117.8 M111.3 84.0 H117.8 M111.3 78.2 H117.8 M111.3 72.4 H117.8 M111.3 66.6 H117.8 M108.5 60.8 H117.8 M111.3 55.0 H117.8 M111.3 49.2 H117.8"/>
<path d="M119.0 510.0 V519.2 M137.6 510.0 V516.8 M156.1 510.0 V516.8 M174.7 510.0 V516.8 M193.2 510.0 V516.8 M211.8 510.0 V519.2 M230.4 510.0 V516.8 M248.9 510.0 V516.8 M267.5 510.0 V516.8 M286.1 510.0 V516.8 M304.6 510.0 V519.2 M323.2 510.0 V516.8 M341.7 510.0 V516.8 M360.3 510.0 V516.8 M378.9 510.0 V516.8 M397.4 510.0 V519.2 M416.0 510.0 V516.8 M434.6 510.0 V516.8 M453.1 510.0 V516.8 M471.7 510.0 V516.8 M490.2 510.0 V519.2 M508.8 510.0 V516.8 M527.4 510.0 V516.8 M545.9 510.0 V516.8 M564.5 510.0 V516.8 M583.0 510.0 V519.2 M601.6 510.0 V516.8 M620.2 510.0 V516.8 M638.7 510.0 V516.8 M657.3 510.0 V516.8 M675.9 510.0 V519.2 M694.4 510.0 V516.8 M713.0 510.0 V516.8 M731.5 510.0 V516.8 M750.1 510.0 V516.8 M768.7 510.0 V519.2 M787.2 510.0 V516.8 M805.8 510.0 V516.8 M824.4 510.0 V516.8"/>
</g>
<path d="M397.2 45.8 V497" stroke="#da0410" stroke-width="2.7" stroke-dasharray="19.4 19.8" fill="none"/>
<g fill="#d07a08">
<rect x="114.9" y="46.7" width="3.4" height="9.6"/>
<rect x="114.9" y="498.7" width="3.2" height="9"/>
<rect x="118.3" y="509.6" width="9.7" height="3.1"/>
<rect x="824.2" y="509.5" width="9.6" height="3.3"/>
</g>
</svg>
<div id="lab">
<div class="yl" style="top:488.1px">0.00</div>
<div class="yl" style="top:459.1px">0.02</div>
<div class="yl" style="top:430.0px">0.04</div>
<div class="yl" style="top:401.0px">0.06</div>
<div class="yl" style="top:371.9px">0.08</div>
<div class="yl" style="top:342.9px">0.10</div>
<div class="yl" style="top:313.9px">0.12</div>
<div class="yl" style="top:284.8px">0.14</div>
<div class="yl" style="top:255.8px">0.16</div>
<div class="yl" style="top:226.7px">0.18</div>
<div class="yl" style="top:197.7px">0.20</div>
<div class="yl" style="top:168.7px">0.22</div>
<div class="yl" style="top:139.6px">0.24</div>
<div class="yl" style="top:110.6px">0.26</div>
<div class="yl" style="top:81.5px">0.28</div>
<div class="yl" style="top:52.5px">0.30</div>
<div class="xl" style="left:89.0px">0</div>
<div class="xl" style="left:181.8px">50</div>
<div class="xl" style="left:274.6px">100</div>
<div class="xl" style="left:367.4px">150</div>
<div class="xl" style="left:460.2px">200</div>
<div class="xl" style="left:553.0px">250</div>
<div class="xl" style="left:645.9px">300</div>
<div class="xl" style="left:738.7px">350</div>
<div class="xt">Time (sec)</div>
<div class="yt">Shift (nm)</div>
</div>
</body></html>
